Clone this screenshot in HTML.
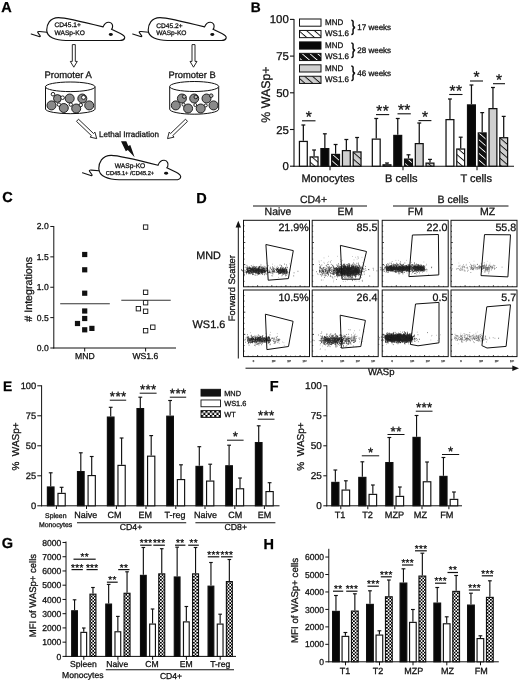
<!DOCTYPE html>
<html lang="en"><head><meta charset="utf-8"><title>Figure</title>
<style>html,body{margin:0;padding:0;background:#fff}svg{display:block}text{font-family:"Liberation Sans",Arial,Helvetica,sans-serif;stroke:#111;stroke-width:.28px;paint-order:stroke fill;text-rendering:geometricPrecision}</style></head>
<body>
<svg width="520" height="682" viewBox="0 0 520 682">
<rect width="520" height="682" fill="#fff"/>
<defs>
<filter id="bl" x="-5%" y="-30%" width="110%" height="160%"><feGaussianBlur stdDeviation="0.32"/></filter>
<pattern id="hW" width="5.1" height="5.1" patternUnits="userSpaceOnUse" patternTransform="rotate(41)"><rect width="5.1" height="5.1" fill="#fff"/><rect width="5.1" height="0.95" fill="#111"/></pattern>
<pattern id="hK" width="5.1" height="5.1" patternUnits="userSpaceOnUse" patternTransform="rotate(41)"><rect width="5.1" height="5.1" fill="#111"/><rect width="5.1" height="0.85" fill="#fff"/></pattern>
<pattern id="hG" width="5.1" height="5.1" patternUnits="userSpaceOnUse" patternTransform="rotate(41)"><rect width="5.1" height="5.1" fill="#cfcfcf"/><rect width="5.1" height="0.95" fill="#111"/></pattern>
<pattern id="ck" width="3.3" height="3.3" patternUnits="userSpaceOnUse"><rect width="3.3" height="3.3" fill="#fff"/><rect width="1.65" height="1.65" fill="#000"/><rect x="1.65" y="1.65" width="1.65" height="1.65" fill="#000"/></pattern>
<pattern id="ck2" x="201" y="410.6" width="4.4" height="4.4" patternUnits="userSpaceOnUse"><rect width="4.4" height="4.4" fill="#fff"/><rect width="2.2" height="2.2" fill="#000"/><rect x="2.2" y="2.2" width="2.2" height="2.2" fill="#000"/></pattern>
</defs>
<text x="1.20" y="11.90" font-size="14.5" text-anchor="start" font-weight="bold" fill="#000" >A</text>
<path d="M46.7 30.0 C46.7 25.0 49.5 17.6 58.5 17.6 C66.0 17.6 90.0 23.6 103.1 26.9 C104.5 23.5 107.0 22.2 109.0 22.3 C112.2 22.5 113.2 25.5 112.3 28.2 L111.6 29.2 L120.4 33.5 C123.5 35.0 125.3 37.0 124.6 38.3 C124.0 40.0 122.5 40.5 120.0 40.5 L66.0 40.5 C56.0 40.5 46.7 37.5 46.7 30.0 Z" fill="#fff" stroke="#111" stroke-width="1.15" />
<path d="M46.9 32.2 L39.6 31.5 Q37.0 31.3 37.9 32.7 L40.2 35.8 Q40.7 37.0 39.0 36.5 L31.2 34.0" fill="none" stroke="#111" stroke-width="1.1" stroke-linecap="round" stroke-linejoin="round"/>
<ellipse cx="110.8" cy="34.5" rx="2" ry="1.45" fill="#111"/>
<text x="54.60" y="27.30" font-size="6.6" text-anchor="start" font-weight="normal" fill="#111" >CD45.1+</text>
<text x="54.60" y="35.00" font-size="6.6" text-anchor="start" font-weight="normal" fill="#111" >WASp-KO</text>
<path d="M148.2 30.0 C148.2 25.0 151.0 17.6 160.0 17.6 C167.5 17.6 191.5 23.6 204.6 26.9 C206.0 23.5 208.5 22.2 210.5 22.3 C213.7 22.5 214.7 25.5 213.8 28.2 L213.1 29.2 L221.9 33.5 C225.0 35.0 226.8 37.0 226.1 38.3 C225.5 40.0 224.0 40.5 221.5 40.5 L167.5 40.5 C157.5 40.5 148.2 37.5 148.2 30.0 Z" fill="#fff" stroke="#111" stroke-width="1.15" />
<path d="M148.4 32.2 L141.1 31.5 Q138.5 31.3 139.4 32.7 L141.7 35.8 Q142.2 37.0 140.5 36.5 L132.7 34.0" fill="none" stroke="#111" stroke-width="1.1" stroke-linecap="round" stroke-linejoin="round"/>
<ellipse cx="212.3" cy="34.5" rx="2" ry="1.45" fill="#111"/>
<text x="156.30" y="27.60" font-size="6.6" text-anchor="start" font-weight="normal" fill="#111" >CD45.2+</text>
<text x="156.30" y="35.30" font-size="6.6" text-anchor="start" font-weight="normal" fill="#111" >WASp-KO</text>
<path d="M72.3 44.6 L72.3 61.4 L70.3 61.4 L73.8 67.2 L77.3 61.4 L75.3 61.4 L75.3 44.6 Z" fill="#fff" stroke="#111" stroke-width="0.9" />
<path d="M192.0 44.6 L192.0 61.4 L190.0 61.4 L193.5 67.2 L197.0 61.4 L195.0 61.4 L195.0 44.6 Z" fill="#fff" stroke="#111" stroke-width="0.9" />
<text x="68.10" y="77.90" font-size="9.45" text-anchor="middle" font-weight="normal" fill="#111" >Promoter A</text>
<text x="192.10" y="77.90" font-size="9.35" text-anchor="middle" font-weight="normal" fill="#111" >Promoter B</text>
<path d="M45.5 86.8 L45.5 109.2 A24.8 4.8 0 0 0 95.0 109.2 L95.0 86.8" fill="#fff" stroke="#111" stroke-width="1.0" />
<ellipse cx="70.2" cy="86.8" rx="24.8" ry="4.8" fill="#fff" stroke="#111" stroke-width="1"/>
<circle cx="51.5" cy="105.4" r="4.5" fill="#8a8a8a" stroke="#111" stroke-width="0.9"/>
<circle cx="57.4" cy="98.5" r="3.9" fill="#8a8a8a" stroke="#111" stroke-width="0.9"/>
<circle cx="69.7" cy="98.5" r="4.5" fill="#8a8a8a" stroke="#111" stroke-width="0.9"/>
<circle cx="82.3" cy="98.5" r="4.5" fill="#8a8a8a" stroke="#111" stroke-width="0.9"/>
<circle cx="63.8" cy="108.0" r="4.5" fill="#8a8a8a" stroke="#111" stroke-width="0.9"/>
<circle cx="76.2" cy="108.5" r="4.5" fill="#8a8a8a" stroke="#111" stroke-width="0.9"/>
<circle cx="89.2" cy="105.4" r="4.5" fill="#8a8a8a" stroke="#111" stroke-width="0.9"/>
<circle cx="53.0" cy="94.2" r="1.8" fill="#fff" stroke="#111" stroke-width="0.9"/>
<circle cx="62.6" cy="97.7" r="1.8" fill="#fff" stroke="#111" stroke-width="0.9"/>
<circle cx="58.9" cy="104.6" r="1.7" fill="#fff" stroke="#111" stroke-width="0.9"/>
<circle cx="70.8" cy="104.6" r="1.7" fill="#fff" stroke="#111" stroke-width="0.9"/>
<circle cx="80.8" cy="105.0" r="1.7" fill="#fff" stroke="#111" stroke-width="0.9"/>
<circle cx="83.5" cy="97.4" r="2" fill="#fff" stroke="#111" stroke-width="0.9"/>
<path d="M169.7 86.5 L169.7 109.2 A24.5 5 0 0 0 218.7 109.2 L218.7 86.5" fill="#fff" stroke="#111" stroke-width="1.0" />
<ellipse cx="194.2" cy="86.5" rx="24.5" ry="5" fill="#fff" stroke="#111" stroke-width="1"/>
<circle cx="175.8" cy="105.4" r="4.5" fill="#8a8a8a" stroke="#111" stroke-width="0.9"/>
<circle cx="181.9" cy="98.5" r="4.5" fill="#8a8a8a" stroke="#111" stroke-width="0.9"/>
<circle cx="194.2" cy="98.5" r="4.5" fill="#8a8a8a" stroke="#111" stroke-width="0.9"/>
<circle cx="206.5" cy="98.5" r="4.5" fill="#8a8a8a" stroke="#111" stroke-width="0.9"/>
<circle cx="188.1" cy="108.5" r="4.5" fill="#8a8a8a" stroke="#111" stroke-width="0.9"/>
<circle cx="200.7" cy="108.5" r="4.5" fill="#8a8a8a" stroke="#111" stroke-width="0.9"/>
<circle cx="213.5" cy="105.4" r="4.5" fill="#8a8a8a" stroke="#111" stroke-width="0.9"/>
<circle cx="184.2" cy="96.6" r="1.8" fill="#b8b8b8" stroke="#111" stroke-width="0.9"/>
<circle cx="195.8" cy="97.0" r="1.8" fill="#b8b8b8" stroke="#111" stroke-width="0.9"/>
<circle cx="211.2" cy="95.7" r="1.8" fill="#b8b8b8" stroke="#111" stroke-width="0.9"/>
<circle cx="183.5" cy="104.6" r="1.5" fill="#fff" stroke="#111" stroke-width="0.9"/>
<circle cx="195.3" cy="105.0" r="1.5" fill="#fff" stroke="#111" stroke-width="0.9"/>
<circle cx="205.8" cy="105.4" r="1.5" fill="#fff" stroke="#111" stroke-width="0.9"/>
<path d="M76.5 121.4 L91.5 135.7 L90.1 137.1 L96.7 138.6 L94.9 132.1 L93.5 133.5 L78.5 119.2 Z" fill="#fff" stroke="#111" stroke-width="0.9" />
<path d="M185.5 119.2 L170.6 133.5 L169.2 132.1 L167.5 138.6 L174.1 137.1 L172.7 135.7 L187.5 121.4 Z" fill="#fff" stroke="#111" stroke-width="0.9" />
<text x="129.00" y="137.10" font-size="8.05" text-anchor="middle" font-weight="normal" fill="#111" >Lethal Irradiation</text>
<path d="M121 141.2 L126.3 141.2 L128.3 146 L130.3 145 L134.6 157.3 L127.8 150 L125.8 151.2 Z" fill="#111" stroke="none" stroke-width="0" />
<path d="M98.8 168.5 C98.8 163.2 101.7 155.3 111.2 155.3 C119.1 155.3 144.3 161.7 158.0 165.2 C159.5 161.6 162.1 160.2 164.2 160.3 C167.6 160.5 168.6 163.7 167.7 166.6 L166.9 167.7 L176.2 172.2 C179.4 173.8 181.3 176.0 180.6 177.3 C180.0 179.2 178.4 179.7 175.8 179.7 L119.1 179.7 C108.6 179.7 98.8 176.5 98.8 168.5 Z" fill="#fff" stroke="#111" stroke-width="1.15" />
<path d="M99.0 170.8 L91.3 170.1 Q88.6 169.9 89.6 171.4 L92.0 174.7 Q92.5 176.0 90.7 175.4 L82.5 172.8" fill="none" stroke="#111" stroke-width="1.1" stroke-linecap="round" stroke-linejoin="round"/>
<ellipse cx="166.1" cy="173.3" rx="2" ry="1.45" fill="#111"/>
<text x="130.00" y="167.60" font-size="6.7" text-anchor="middle" font-weight="normal" fill="#111" >WASp-KO</text>
<text x="130.00" y="175.20" font-size="5.7" text-anchor="middle" font-weight="normal" fill="#111" >CD45.1+ /CD45.2+</text>
<text x="250.80" y="11.70" font-size="13.8" text-anchor="start" font-weight="bold" fill="#000" >B</text>
<line x1="294.00" y1="19.00" x2="294.00" y2="166.70" stroke="#111" stroke-width="1.1" stroke-linecap="butt"/>
<line x1="293.50" y1="166.20" x2="514.00" y2="166.20" stroke="#111" stroke-width="1.1" stroke-linecap="butt"/>
<line x1="290.00" y1="166.20" x2="294.00" y2="166.20" stroke="#111" stroke-width="1.1" stroke-linecap="butt"/>
<text x="288.80" y="170.20" font-size="11.4" text-anchor="end" font-weight="normal" fill="#111" >0</text>
<line x1="290.00" y1="129.50" x2="294.00" y2="129.50" stroke="#111" stroke-width="1.1" stroke-linecap="butt"/>
<text x="288.80" y="133.50" font-size="11.4" text-anchor="end" font-weight="normal" fill="#111" >25</text>
<line x1="290.00" y1="92.80" x2="294.00" y2="92.80" stroke="#111" stroke-width="1.1" stroke-linecap="butt"/>
<text x="288.80" y="96.80" font-size="11.4" text-anchor="end" font-weight="normal" fill="#111" >50</text>
<line x1="290.00" y1="56.10" x2="294.00" y2="56.10" stroke="#111" stroke-width="1.1" stroke-linecap="butt"/>
<text x="288.80" y="60.10" font-size="11.4" text-anchor="end" font-weight="normal" fill="#111" >75</text>
<line x1="290.00" y1="19.40" x2="294.00" y2="19.40" stroke="#111" stroke-width="1.1" stroke-linecap="butt"/>
<text x="288.80" y="23.40" font-size="11.4" text-anchor="end" font-weight="normal" fill="#111" >100</text>
<text x="269.60" y="94.60" font-size="12.4" text-anchor="middle" font-weight="normal" fill="#111" transform="rotate(-90 269.60 94.60)" >% WASp+</text>
<line x1="303.35" y1="125.00" x2="303.35" y2="140.80" stroke="#111" stroke-width="1.25" stroke-linecap="butt"/>
<line x1="301.40" y1="125.00" x2="305.30" y2="125.00" stroke="#111" stroke-width="1.25" stroke-linecap="butt"/>
<rect x="299.43" y="141.43" width="7.85" height="24.77" fill="#fff" stroke="#111" stroke-width="1.25"/>
<line x1="314.10" y1="150.00" x2="314.10" y2="156.30" stroke="#111" stroke-width="1.25" stroke-linecap="butt"/>
<line x1="312.15" y1="150.00" x2="316.05" y2="150.00" stroke="#111" stroke-width="1.25" stroke-linecap="butt"/>
<rect x="310.18" y="156.93" width="7.85" height="9.27" fill="url(#hW)" stroke="#111" stroke-width="1.25"/>
<line x1="324.85" y1="133.80" x2="324.85" y2="148.00" stroke="#111" stroke-width="1.25" stroke-linecap="butt"/>
<line x1="322.90" y1="133.80" x2="326.80" y2="133.80" stroke="#111" stroke-width="1.25" stroke-linecap="butt"/>
<rect x="320.93" y="148.62" width="7.85" height="17.57" fill="#080808" stroke="#111" stroke-width="1.25"/>
<line x1="335.60" y1="144.50" x2="335.60" y2="153.80" stroke="#111" stroke-width="1.25" stroke-linecap="butt"/>
<line x1="333.65" y1="144.50" x2="337.55" y2="144.50" stroke="#111" stroke-width="1.25" stroke-linecap="butt"/>
<rect x="331.68" y="154.43" width="7.85" height="11.77" fill="url(#hK)" stroke="#111" stroke-width="1.25"/>
<line x1="346.35" y1="139.50" x2="346.35" y2="150.00" stroke="#111" stroke-width="1.25" stroke-linecap="butt"/>
<line x1="344.40" y1="139.50" x2="348.30" y2="139.50" stroke="#111" stroke-width="1.25" stroke-linecap="butt"/>
<rect x="342.43" y="150.62" width="7.85" height="15.57" fill="#cfcfcf" stroke="#111" stroke-width="1.25"/>
<line x1="357.10" y1="137.50" x2="357.10" y2="151.30" stroke="#111" stroke-width="1.25" stroke-linecap="butt"/>
<line x1="355.15" y1="137.50" x2="359.05" y2="137.50" stroke="#111" stroke-width="1.25" stroke-linecap="butt"/>
<rect x="353.18" y="151.93" width="7.85" height="14.27" fill="url(#hG)" stroke="#111" stroke-width="1.25"/>
<line x1="376.25" y1="118.50" x2="376.25" y2="138.50" stroke="#111" stroke-width="1.25" stroke-linecap="butt"/>
<line x1="374.30" y1="118.50" x2="378.20" y2="118.50" stroke="#111" stroke-width="1.25" stroke-linecap="butt"/>
<rect x="372.32" y="139.12" width="7.85" height="27.07" fill="#fff" stroke="#111" stroke-width="1.25"/>
<line x1="387.00" y1="163.00" x2="387.00" y2="164.20" stroke="#111" stroke-width="1.25" stroke-linecap="butt"/>
<line x1="385.05" y1="163.00" x2="388.95" y2="163.00" stroke="#111" stroke-width="1.25" stroke-linecap="butt"/>
<rect x="383.07" y="164.82" width="7.85" height="1.38" fill="url(#hW)" stroke="#111" stroke-width="1.25"/>
<line x1="397.75" y1="118.50" x2="397.75" y2="134.80" stroke="#111" stroke-width="1.25" stroke-linecap="butt"/>
<line x1="395.80" y1="118.50" x2="399.70" y2="118.50" stroke="#111" stroke-width="1.25" stroke-linecap="butt"/>
<rect x="393.82" y="135.43" width="7.85" height="30.77" fill="#080808" stroke="#111" stroke-width="1.25"/>
<line x1="408.50" y1="154.80" x2="408.50" y2="158.50" stroke="#111" stroke-width="1.25" stroke-linecap="butt"/>
<line x1="406.55" y1="154.80" x2="410.45" y2="154.80" stroke="#111" stroke-width="1.25" stroke-linecap="butt"/>
<rect x="404.57" y="159.12" width="7.85" height="7.07" fill="url(#hK)" stroke="#111" stroke-width="1.25"/>
<line x1="419.25" y1="123.00" x2="419.25" y2="143.00" stroke="#111" stroke-width="1.25" stroke-linecap="butt"/>
<line x1="417.30" y1="123.00" x2="421.20" y2="123.00" stroke="#111" stroke-width="1.25" stroke-linecap="butt"/>
<rect x="415.32" y="143.62" width="7.85" height="22.57" fill="#cfcfcf" stroke="#111" stroke-width="1.25"/>
<line x1="430.00" y1="159.40" x2="430.00" y2="162.50" stroke="#111" stroke-width="1.25" stroke-linecap="butt"/>
<line x1="428.05" y1="159.40" x2="431.95" y2="159.40" stroke="#111" stroke-width="1.25" stroke-linecap="butt"/>
<rect x="426.07" y="163.12" width="7.85" height="3.07" fill="url(#hG)" stroke="#111" stroke-width="1.25"/>
<line x1="449.95" y1="99.00" x2="449.95" y2="119.00" stroke="#111" stroke-width="1.25" stroke-linecap="butt"/>
<line x1="448.00" y1="99.00" x2="451.90" y2="99.00" stroke="#111" stroke-width="1.25" stroke-linecap="butt"/>
<rect x="446.02" y="119.62" width="7.85" height="46.57" fill="#fff" stroke="#111" stroke-width="1.25"/>
<line x1="460.70" y1="137.20" x2="460.70" y2="148.40" stroke="#111" stroke-width="1.25" stroke-linecap="butt"/>
<line x1="458.75" y1="137.20" x2="462.65" y2="137.20" stroke="#111" stroke-width="1.25" stroke-linecap="butt"/>
<rect x="456.77" y="149.03" width="7.85" height="17.17" fill="url(#hW)" stroke="#111" stroke-width="1.25"/>
<line x1="471.45" y1="85.00" x2="471.45" y2="104.30" stroke="#111" stroke-width="1.25" stroke-linecap="butt"/>
<line x1="469.50" y1="85.00" x2="473.40" y2="85.00" stroke="#111" stroke-width="1.25" stroke-linecap="butt"/>
<rect x="467.52" y="104.92" width="7.85" height="61.27" fill="#080808" stroke="#111" stroke-width="1.25"/>
<line x1="482.20" y1="112.60" x2="482.20" y2="132.30" stroke="#111" stroke-width="1.25" stroke-linecap="butt"/>
<line x1="480.25" y1="112.60" x2="484.15" y2="112.60" stroke="#111" stroke-width="1.25" stroke-linecap="butt"/>
<rect x="478.27" y="132.93" width="7.85" height="33.27" fill="url(#hK)" stroke="#111" stroke-width="1.25"/>
<line x1="492.95" y1="87.50" x2="492.95" y2="108.00" stroke="#111" stroke-width="1.25" stroke-linecap="butt"/>
<line x1="491.00" y1="87.50" x2="494.90" y2="87.50" stroke="#111" stroke-width="1.25" stroke-linecap="butt"/>
<rect x="489.02" y="108.62" width="7.85" height="57.57" fill="#cfcfcf" stroke="#111" stroke-width="1.25"/>
<line x1="503.70" y1="116.40" x2="503.70" y2="137.10" stroke="#111" stroke-width="1.25" stroke-linecap="butt"/>
<line x1="501.75" y1="116.40" x2="505.65" y2="116.40" stroke="#111" stroke-width="1.25" stroke-linecap="butt"/>
<rect x="499.77" y="137.72" width="7.85" height="28.47" fill="url(#hG)" stroke="#111" stroke-width="1.25"/>
<line x1="330.00" y1="166.20" x2="330.00" y2="170.20" stroke="#111" stroke-width="1.1" stroke-linecap="butt"/>
<line x1="403.00" y1="166.20" x2="403.00" y2="170.20" stroke="#111" stroke-width="1.1" stroke-linecap="butt"/>
<line x1="477.00" y1="166.20" x2="477.00" y2="170.20" stroke="#111" stroke-width="1.1" stroke-linecap="butt"/>
<text x="328.00" y="181.70" font-size="11" text-anchor="middle" font-weight="normal" fill="#111" >Monocytes</text>
<text x="401.30" y="181.70" font-size="11" text-anchor="middle" font-weight="normal" fill="#111" >B cells</text>
<text x="476.20" y="181.70" font-size="11" text-anchor="middle" font-weight="normal" fill="#111" >T cells</text>
<line x1="302.00" y1="120.80" x2="315.50" y2="120.80" stroke="#111" stroke-width="1.1" stroke-linecap="butt"/>
<text x="308.90" y="122.20" font-size="15.5" text-anchor="middle" font-weight="normal" fill="#111" letter-spacing="0.35" stroke-width="0.2">*</text>
<line x1="376.00" y1="114.60" x2="389.20" y2="114.60" stroke="#111" stroke-width="1.1" stroke-linecap="butt"/>
<text x="382.75" y="116.00" font-size="15.5" text-anchor="middle" font-weight="normal" fill="#111" letter-spacing="0.35" stroke-width="0.2">**</text>
<line x1="397.50" y1="113.80" x2="410.80" y2="113.80" stroke="#111" stroke-width="1.1" stroke-linecap="butt"/>
<text x="404.30" y="115.20" font-size="15.5" text-anchor="middle" font-weight="normal" fill="#111" letter-spacing="0.35" stroke-width="0.2">**</text>
<line x1="418.50" y1="120.60" x2="431.40" y2="120.60" stroke="#111" stroke-width="1.1" stroke-linecap="butt"/>
<text x="425.10" y="122.00" font-size="15.5" text-anchor="middle" font-weight="normal" fill="#111" letter-spacing="0.35" stroke-width="0.2">*</text>
<line x1="449.20" y1="94.50" x2="462.50" y2="94.50" stroke="#111" stroke-width="1.1" stroke-linecap="butt"/>
<text x="456.00" y="95.90" font-size="15.5" text-anchor="middle" font-weight="normal" fill="#111" letter-spacing="0.35" stroke-width="0.2">**</text>
<line x1="470.00" y1="81.00" x2="483.00" y2="81.00" stroke="#111" stroke-width="1.1" stroke-linecap="butt"/>
<text x="476.65" y="82.40" font-size="15.5" text-anchor="middle" font-weight="normal" fill="#111" letter-spacing="0.35" stroke-width="0.2">*</text>
<line x1="493.00" y1="83.70" x2="505.00" y2="83.70" stroke="#111" stroke-width="1.1" stroke-linecap="butt"/>
<text x="499.15" y="85.10" font-size="15.5" text-anchor="middle" font-weight="normal" fill="#111" letter-spacing="0.35" stroke-width="0.2">*</text>
<rect x="299.50" y="19.00" width="21.50" height="7.20" fill="#fff" stroke="#111" stroke-width="1"/>
<text x="325.00" y="25.00" font-size="8" text-anchor="start" font-weight="normal" fill="#111" >MND</text>
<rect x="299.50" y="30.45" width="21.50" height="7.20" fill="url(#hW)" stroke="#111" stroke-width="1"/>
<text x="325.00" y="36.45" font-size="8" text-anchor="start" font-weight="normal" fill="#111" >WS1.6</text>
<rect x="299.50" y="41.90" width="21.50" height="7.20" fill="#080808" stroke="#111" stroke-width="1"/>
<text x="325.00" y="47.90" font-size="8" text-anchor="start" font-weight="normal" fill="#111" >MND</text>
<rect x="299.50" y="53.35" width="21.50" height="7.20" fill="url(#hK)" stroke="#111" stroke-width="1"/>
<text x="325.00" y="59.35" font-size="8" text-anchor="start" font-weight="normal" fill="#111" >WS1.6</text>
<rect x="299.50" y="64.80" width="21.50" height="7.20" fill="#cfcfcf" stroke="#111" stroke-width="1"/>
<text x="325.00" y="70.80" font-size="8" text-anchor="start" font-weight="normal" fill="#111" >MND</text>
<rect x="299.50" y="76.25" width="21.50" height="7.20" fill="url(#hG)" stroke="#111" stroke-width="1"/>
<text x="325.00" y="82.25" font-size="8" text-anchor="start" font-weight="normal" fill="#111" >WS1.6</text>
<path d="M351.3 20.2 C353.8 20.2 353 22.7 353 24.4 C353 26.4 353.6 27.1 355 27.4 C353.6 27.7 353 28.4 353 30.4 C353 32.1 353.8 34.6 351.3 34.6" fill="none" stroke="#111" stroke-width="1.5" />
<text x="357.30" y="30.20" font-size="8" text-anchor="start" font-weight="normal" fill="#111" >17 weeks</text>
<path d="M351.3 43.1 C353.8 43.1 353 45.6 353 47.3 C353 49.3 353.6 50.0 355 50.3 C353.6 50.6 353 51.3 353 53.3 C353 55.0 353.8 57.5 351.3 57.5" fill="none" stroke="#111" stroke-width="1.5" />
<text x="357.30" y="53.10" font-size="8" text-anchor="start" font-weight="normal" fill="#111" >28 weeks</text>
<path d="M351.3 66.0 C353.8 66.0 353 68.5 353 70.2 C353 72.2 353.6 72.9 355 73.2 C353.6 73.5 353 74.2 353 76.2 C353 77.9 353.8 80.4 351.3 80.4" fill="none" stroke="#111" stroke-width="1.5" />
<text x="357.30" y="76.00" font-size="8" text-anchor="start" font-weight="normal" fill="#111" >46 weeks</text>
<text x="2.20" y="202.00" font-size="14.5" text-anchor="start" font-weight="bold" fill="#000" >C</text>
<line x1="53.80" y1="226.00" x2="53.80" y2="348.50" stroke="#111" stroke-width="1" stroke-linecap="butt"/>
<line x1="53.30" y1="348.00" x2="176.00" y2="348.00" stroke="#111" stroke-width="1" stroke-linecap="butt"/>
<line x1="50.30" y1="348.00" x2="53.80" y2="348.00" stroke="#111" stroke-width="1" stroke-linecap="butt"/>
<text x="48.80" y="351.00" font-size="8.6" text-anchor="end" font-weight="normal" fill="#111" >0.0</text>
<line x1="50.30" y1="317.62" x2="53.80" y2="317.62" stroke="#111" stroke-width="1" stroke-linecap="butt"/>
<text x="48.80" y="320.62" font-size="8.6" text-anchor="end" font-weight="normal" fill="#111" >0.5</text>
<line x1="50.30" y1="287.24" x2="53.80" y2="287.24" stroke="#111" stroke-width="1" stroke-linecap="butt"/>
<text x="48.80" y="290.24" font-size="8.6" text-anchor="end" font-weight="normal" fill="#111" >1.0</text>
<line x1="50.30" y1="256.86" x2="53.80" y2="256.86" stroke="#111" stroke-width="1" stroke-linecap="butt"/>
<text x="48.80" y="259.86" font-size="8.6" text-anchor="end" font-weight="normal" fill="#111" >1.5</text>
<line x1="50.30" y1="226.48" x2="53.80" y2="226.48" stroke="#111" stroke-width="1" stroke-linecap="butt"/>
<text x="48.80" y="229.48" font-size="8.6" text-anchor="end" font-weight="normal" fill="#111" >2.0</text>
<line x1="84.70" y1="348.00" x2="84.70" y2="351.50" stroke="#111" stroke-width="1" stroke-linecap="butt"/>
<line x1="145.60" y1="348.00" x2="145.60" y2="351.50" stroke="#111" stroke-width="1" stroke-linecap="butt"/>
<text x="84.90" y="359.30" font-size="8.6" text-anchor="middle" font-weight="normal" fill="#111" >MND</text>
<text x="145.40" y="359.30" font-size="8.6" text-anchor="middle" font-weight="normal" fill="#111" >WS1.6</text>
<text x="32.30" y="289.30" font-size="10.7" text-anchor="middle" font-weight="normal" fill="#111" transform="rotate(-90 32.30 289.30)" ># Integrations</text>
<rect x="82.10" y="251.90" width="5.20" height="5.20" fill="#111" stroke="none" stroke-width="0"/>
<rect x="82.10" y="267.20" width="5.20" height="5.20" fill="#111" stroke="none" stroke-width="0"/>
<rect x="82.10" y="290.60" width="5.20" height="5.20" fill="#111" stroke="none" stroke-width="0"/>
<rect x="82.10" y="308.40" width="5.20" height="5.20" fill="#111" stroke="none" stroke-width="0"/>
<rect x="82.10" y="315.90" width="5.20" height="5.20" fill="#111" stroke="none" stroke-width="0"/>
<rect x="74.90" y="320.90" width="5.20" height="5.20" fill="#111" stroke="none" stroke-width="0"/>
<rect x="89.30" y="325.80" width="5.20" height="5.20" fill="#111" stroke="none" stroke-width="0"/>
<rect x="82.10" y="327.20" width="5.20" height="5.20" fill="#111" stroke="none" stroke-width="0"/>
<line x1="60.20" y1="303.80" x2="109.80" y2="303.80" stroke="#333" stroke-width="1.1" stroke-linecap="butt"/>
<rect x="143.40" y="224.90" width="4.40" height="4.40" fill="#fff" stroke="#111" stroke-width="0.9"/>
<rect x="143.40" y="290.10" width="4.40" height="4.40" fill="#fff" stroke="#111" stroke-width="0.9"/>
<rect x="143.40" y="300.50" width="4.40" height="4.40" fill="#fff" stroke="#111" stroke-width="0.9"/>
<rect x="136.20" y="306.50" width="4.40" height="4.40" fill="#fff" stroke="#111" stroke-width="0.9"/>
<rect x="143.40" y="309.10" width="4.40" height="4.40" fill="#fff" stroke="#111" stroke-width="0.9"/>
<rect x="150.60" y="325.00" width="4.40" height="4.40" fill="#fff" stroke="#111" stroke-width="0.9"/>
<rect x="143.40" y="328.50" width="4.40" height="4.40" fill="#fff" stroke="#111" stroke-width="0.9"/>
<line x1="121.30" y1="300.20" x2="170.70" y2="300.20" stroke="#333" stroke-width="1.1" stroke-linecap="butt"/>
<text x="196.30" y="202.50" font-size="14.5" text-anchor="start" font-weight="bold" fill="#000" >D</text>
<text x="313.50" y="203.00" font-size="10.5" text-anchor="middle" font-weight="normal" fill="#111" >CD4+</text>
<text x="453.00" y="203.00" font-size="10.6" text-anchor="middle" font-weight="normal" fill="#111" >B cells</text>
<line x1="253.00" y1="206.00" x2="367.00" y2="206.00" stroke="#111" stroke-width="1" stroke-linecap="butt"/>
<line x1="393.00" y1="206.00" x2="508.50" y2="206.00" stroke="#111" stroke-width="1" stroke-linecap="butt"/>
<text x="278.00" y="215.30" font-size="10.5" text-anchor="middle" font-weight="normal" fill="#111" >Naive</text>
<text x="345.30" y="215.30" font-size="10.5" text-anchor="middle" font-weight="normal" fill="#111" >EM</text>
<text x="415.40" y="215.30" font-size="10.5" text-anchor="middle" font-weight="normal" fill="#111" >FM</text>
<text x="487.70" y="215.30" font-size="10.5" text-anchor="middle" font-weight="normal" fill="#111" >MZ</text>
<text x="196.30" y="258.50" font-size="10.8" text-anchor="start" font-weight="normal" fill="#111" >MND</text>
<text x="192.60" y="327.90" font-size="10.9" text-anchor="start" font-weight="normal" fill="#111" >WS1.6</text>
<text x="234.70" y="288.20" font-size="9.3" text-anchor="middle" font-weight="normal" fill="#111" transform="rotate(-90 234.70 288.20)" >Forward Scatter</text>
<line x1="238.30" y1="226.00" x2="238.30" y2="358.50" stroke="#111" stroke-width="1" stroke-linecap="butt"/>
<path d="M238.3 220.8 L241 227.5 L235.6 227.5 Z" fill="#111" stroke="none" stroke-width="0" />
<line x1="245.50" y1="368.20" x2="513.00" y2="368.20" stroke="#111" stroke-width="1" stroke-linecap="butt"/>
<path d="M519 368.2 L512.3 365.4 L512.3 371 Z" fill="#111" stroke="none" stroke-width="0" />
<text x="381.20" y="375.40" font-size="9.5" text-anchor="middle" font-weight="normal" fill="#111" >WASp</text>
<rect x="243.50" y="220.30" width="66.00" height="66.50" fill="#fff" stroke="#111" stroke-width="1"/>
<path d="M243.5 281.3h1.0M243.5 275.7h1.0M243.5 270.2h1.0M243.5 264.6h1.8M243.5 259.1h1.0M243.5 253.6h1.0M243.5 248.0h1.0M243.5 242.5h1.8M243.5 236.9h1.0M243.5 231.4h1.0M243.5 225.8h1.0M248.2 286.8v-0.9M252.9 286.8v-0.9M257.6 286.8v-1.6M262.4 286.8v-0.9M267.1 286.8v-0.9M271.8 286.8v-1.6M276.5 286.8v-0.9M281.2 286.8v-0.9M285.9 286.8v-1.6M290.6 286.8v-0.9M295.4 286.8v-0.9M300.1 286.8v-1.6M304.8 286.8v-0.9" fill="none" stroke="#111" stroke-width="0.8" />
<text x="308.70" y="231.20" font-size="10.7" text-anchor="end" font-weight="normal" fill="#111" >21.9%</text>
<rect x="312.20" y="220.30" width="66.00" height="66.50" fill="#fff" stroke="#111" stroke-width="1"/>
<path d="M312.2 281.3h1.0M312.2 275.7h1.0M312.2 270.2h1.0M312.2 264.6h1.8M312.2 259.1h1.0M312.2 253.6h1.0M312.2 248.0h1.0M312.2 242.5h1.8M312.2 236.9h1.0M312.2 231.4h1.0M312.2 225.8h1.0M316.9 286.8v-0.9M321.6 286.8v-0.9M326.3 286.8v-1.6M331.1 286.8v-0.9M335.8 286.8v-0.9M340.5 286.8v-1.6M345.2 286.8v-0.9M349.9 286.8v-0.9M354.6 286.8v-1.6M359.3 286.8v-0.9M364.1 286.8v-0.9M368.8 286.8v-1.6M373.5 286.8v-0.9" fill="none" stroke="#111" stroke-width="0.8" />
<text x="377.40" y="231.20" font-size="10.7" text-anchor="end" font-weight="normal" fill="#111" >85.5</text>
<rect x="382.20" y="220.30" width="66.00" height="66.50" fill="#fff" stroke="#111" stroke-width="1"/>
<path d="M382.2 281.3h1.0M382.2 275.7h1.0M382.2 270.2h1.0M382.2 264.6h1.8M382.2 259.1h1.0M382.2 253.6h1.0M382.2 248.0h1.0M382.2 242.5h1.8M382.2 236.9h1.0M382.2 231.4h1.0M382.2 225.8h1.0M386.9 286.8v-0.9M391.6 286.8v-0.9M396.3 286.8v-1.6M401.1 286.8v-0.9M405.8 286.8v-0.9M410.5 286.8v-1.6M415.2 286.8v-0.9M419.9 286.8v-0.9M424.6 286.8v-1.6M429.3 286.8v-0.9M434.1 286.8v-0.9M438.8 286.8v-1.6M443.5 286.8v-0.9" fill="none" stroke="#111" stroke-width="0.8" />
<text x="447.40" y="231.20" font-size="10.7" text-anchor="end" font-weight="normal" fill="#111" >22.0</text>
<rect x="451.00" y="220.30" width="66.00" height="66.50" fill="#fff" stroke="#111" stroke-width="1"/>
<path d="M451.0 281.3h1.0M451.0 275.7h1.0M451.0 270.2h1.0M451.0 264.6h1.8M451.0 259.1h1.0M451.0 253.6h1.0M451.0 248.0h1.0M451.0 242.5h1.8M451.0 236.9h1.0M451.0 231.4h1.0M451.0 225.8h1.0M455.7 286.8v-0.9M460.4 286.8v-0.9M465.1 286.8v-1.6M469.9 286.8v-0.9M474.6 286.8v-0.9M479.3 286.8v-1.6M484.0 286.8v-0.9M488.7 286.8v-0.9M493.4 286.8v-1.6M498.1 286.8v-0.9M502.9 286.8v-0.9M507.6 286.8v-1.6M512.3 286.8v-0.9" fill="none" stroke="#111" stroke-width="0.8" />
<text x="516.20" y="231.20" font-size="10.7" text-anchor="end" font-weight="normal" fill="#111" >55.8</text>
<rect x="243.50" y="290.00" width="66.00" height="66.60" fill="#fff" stroke="#111" stroke-width="1"/>
<path d="M243.5 351.1h1.0M243.5 345.5h1.0M243.5 340.0h1.0M243.5 334.4h1.8M243.5 328.9h1.0M243.5 323.3h1.0M243.5 317.8h1.0M243.5 312.2h1.8M243.5 306.7h1.0M243.5 301.1h1.0M243.5 295.6h1.0M248.2 356.6v-0.9M252.9 356.6v-0.9M257.6 356.6v-1.6M262.4 356.6v-0.9M267.1 356.6v-0.9M271.8 356.6v-1.6M276.5 356.6v-0.9M281.2 356.6v-0.9M285.9 356.6v-1.6M290.6 356.6v-0.9M295.4 356.6v-0.9M300.1 356.6v-1.6M304.8 356.6v-0.9" fill="none" stroke="#111" stroke-width="0.8" />
<text x="308.70" y="300.90" font-size="10.7" text-anchor="end" font-weight="normal" fill="#111" >10.5%</text>
<rect x="312.20" y="290.00" width="66.00" height="66.60" fill="#fff" stroke="#111" stroke-width="1"/>
<path d="M312.2 351.1h1.0M312.2 345.5h1.0M312.2 340.0h1.0M312.2 334.4h1.8M312.2 328.9h1.0M312.2 323.3h1.0M312.2 317.8h1.0M312.2 312.2h1.8M312.2 306.7h1.0M312.2 301.1h1.0M312.2 295.6h1.0M316.9 356.6v-0.9M321.6 356.6v-0.9M326.3 356.6v-1.6M331.1 356.6v-0.9M335.8 356.6v-0.9M340.5 356.6v-1.6M345.2 356.6v-0.9M349.9 356.6v-0.9M354.6 356.6v-1.6M359.3 356.6v-0.9M364.1 356.6v-0.9M368.8 356.6v-1.6M373.5 356.6v-0.9" fill="none" stroke="#111" stroke-width="0.8" />
<text x="377.40" y="300.90" font-size="10.7" text-anchor="end" font-weight="normal" fill="#111" >26.4</text>
<rect x="382.20" y="290.00" width="66.00" height="66.60" fill="#fff" stroke="#111" stroke-width="1"/>
<path d="M382.2 351.1h1.0M382.2 345.5h1.0M382.2 340.0h1.0M382.2 334.4h1.8M382.2 328.9h1.0M382.2 323.3h1.0M382.2 317.8h1.0M382.2 312.2h1.8M382.2 306.7h1.0M382.2 301.1h1.0M382.2 295.6h1.0M386.9 356.6v-0.9M391.6 356.6v-0.9M396.3 356.6v-1.6M401.1 356.6v-0.9M405.8 356.6v-0.9M410.5 356.6v-1.6M415.2 356.6v-0.9M419.9 356.6v-0.9M424.6 356.6v-1.6M429.3 356.6v-0.9M434.1 356.6v-0.9M438.8 356.6v-1.6M443.5 356.6v-0.9" fill="none" stroke="#111" stroke-width="0.8" />
<text x="447.40" y="300.90" font-size="10.7" text-anchor="end" font-weight="normal" fill="#111" >0.5</text>
<rect x="451.00" y="290.00" width="66.00" height="66.60" fill="#fff" stroke="#111" stroke-width="1"/>
<path d="M451.0 351.1h1.0M451.0 345.5h1.0M451.0 340.0h1.0M451.0 334.4h1.8M451.0 328.9h1.0M451.0 323.3h1.0M451.0 317.8h1.0M451.0 312.2h1.8M451.0 306.7h1.0M451.0 301.1h1.0M451.0 295.6h1.0M455.7 356.6v-0.9M460.4 356.6v-0.9M465.1 356.6v-1.6M469.9 356.6v-0.9M474.6 356.6v-0.9M479.3 356.6v-1.6M484.0 356.6v-0.9M488.7 356.6v-0.9M493.4 356.6v-1.6M498.1 356.6v-0.9M502.9 356.6v-0.9M507.6 356.6v-1.6M512.3 356.6v-0.9" fill="none" stroke="#111" stroke-width="0.8" />
<text x="516.20" y="300.90" font-size="10.7" text-anchor="end" font-weight="normal" fill="#111" >5.7</text>
<path d="M263.6 270.0h.7M268.0 272.7h.7M247.5 271.4h.7M245.2 272.2h.7M244.8 267.3h.7M269.7 271.2h.7M281.2 270.5h.7M258.0 273.9h.7M253.4 269.4h.7M257.0 271.8h.7M273.9 271.1h.7M258.9 269.1h.7M278.6 271.1h.7M256.0 266.8h.7M275.9 270.0h.7M247.7 272.2h.7M252.2 273.3h.7M277.3 271.3h.7M281.9 269.7h.7M269.8 268.2h.7M280.4 267.8h.7M248.5 271.1h.7M272.5 271.3h.7M261.8 269.2h.7M246.9 271.1h.7M248.4 271.4h.7M246.4 273.0h.7M249.3 266.8h.7M279.6 269.4h.7M257.4 268.1h.7M287.1 271.2h.7M255.6 271.8h.7M270.2 272.6h.7M261.1 270.7h.7M285.1 268.0h.7M264.8 273.3h.7M281.9 268.6h.7M262.1 272.7h.7M277.5 270.9h.7M273.9 271.7h.7M250.2 270.6h.7M247.0 269.8h.7M256.3 269.9h.7M290.0 265.7h.7M265.1 271.4h.7M260.0 271.1h.7M297.6 271.3h.7M263.6 270.5h.7M267.7 272.5h.7M256.7 268.4h.7M252.8 267.4h.7M262.0 272.7h.7M281.0 265.5h.7M279.6 270.9h.7M281.8 272.1h.7M256.6 270.9h.7M285.2 275.8h.7M285.2 268.4h.7M269.3 271.8h.7M271.6 271.8h.7M272.8 268.8h.7M249.5 273.4h.7M276.8 268.8h.7M253.3 268.9h.7M285.8 273.6h.7M262.5 270.4h.7M258.8 273.4h.7M252.0 268.7h.7M286.2 269.2h.7M279.6 273.3h.7M267.6 270.1h.7M263.8 271.2h.7M256.3 269.4h.7M255.9 270.5h.7M251.4 272.6h.7M260.5 267.0h.7M263.2 268.5h.7M266.6 270.2h.7M266.1 274.0h.7M253.1 270.7h.7M275.7 269.5h.7M268.8 272.6h.7M250.4 270.6h.7M277.7 272.1h.7M269.0 272.4h.7M271.1 269.5h.7M267.0 268.4h.7M265.6 271.3h.7M274.7 272.0h.7M268.9 270.1h.7M276.5 272.0h.7M283.6 271.9h.7M278.1 272.3h.7M283.3 274.3h.7M255.0 267.3h.7M262.3 274.2h.7M252.6 270.4h.7M267.1 271.2h.7M277.1 268.7h.7M246.7 269.9h.7M271.6 275.7h.7M278.3 272.8h.7M250.3 273.8h.7M272.0 266.9h.7M279.6 272.6h.7M252.1 267.9h.7M258.0 269.8h.7M249.0 268.7h.7M272.0 273.8h.7M248.7 272.5h.7M264.6 266.5h.7M256.9 269.2h.7M264.9 271.8h.7M258.8 271.0h.7M277.1 269.4h.7M266.5 270.6h.7M276.1 270.9h.7M253.8 271.4h.7M279.6 270.2h.7M266.3 268.8h.7M274.2 272.0h.7M260.1 269.9h.7M262.6 268.0h.7M285.5 271.9h.7M287.7 272.4h.7M281.7 270.3h.7M258.0 272.0h.7M252.5 270.2h.7M285.9 275.4h.7M256.0 269.9h.7M246.0 272.3h.7M265.5 271.3h.7M246.2 272.7h.7M249.7 271.0h.7M267.2 268.6h.7M276.8 269.4h.7M275.4 269.3h.7M273.8 270.2h.7M247.8 267.9h.7M282.6 270.2h.7M251.7 267.1h.7M266.7 271.8h.7M269.9 267.3h.7M274.0 270.7h.7M251.5 271.1h.7M250.3 268.1h.7M271.7 269.6h.7M272.8 267.6h.7M266.6 270.2h.7M276.2 270.0h.7M249.1 270.4h.7M276.3 269.3h.7M266.3 267.7h.7M277.4 271.0h.7M272.4 271.8h.7M276.5 270.3h.7M248.5 270.5h.7M273.6 269.9h.7M267.2 269.2h.7M273.2 269.8h.7M286.1 272.7h.7M279.6 270.8h.7M264.4 271.7h.7M254.6 275.0h.7M251.8 271.6h.7M279.6 270.3h.7M282.4 271.1h.7M293.7 272.8h.7M264.5 270.6h.7M251.8 269.1h.7M246.1 273.9h.7M284.6 269.3h.7M283.0 269.3h.7M287.0 272.0h.7M260.8 270.5h.7M250.2 271.2h.7M257.7 270.6h.7M276.6 267.3h.7M282.3 274.0h.7M271.9 272.8h.7M260.6 270.4h.7M276.9 268.5h.7M272.5 270.2h.7M265.4 269.7h.7M286.0 273.6h.7M272.9 268.8h.7M262.0 271.7h.7M293.4 275.9h.7M242.6 270.9h.7M271.7 270.7h.7M269.4 272.1h.7M276.7 268.6h.7M261.5 271.8h.7M248.5 271.6h.7M266.6 270.4h.7M265.2 272.0h.7M262.4 274.1h.7M259.4 273.5h.7M282.7 271.2h.7M243.7 273.3h.7M279.8 272.0h.7M264.8 267.8h.7M284.6 270.2h.7M272.5 268.3h.7M247.6 271.2h.7M255.5 269.6h.7M251.2 269.3h.7M272.1 271.2h.7M267.5 271.1h.7M265.0 270.4h.7M258.4 273.2h.7M282.2 269.9h.7M285.9 269.9h.7M247.3 270.6h.7M263.2 268.5h.7M241.2 269.6h.7M277.9 271.5h.7M246.4 272.2h.7M264.4 271.2h.7M258.1 273.8h.7M268.7 272.5h.7M273.3 271.8h.7M254.7 272.1h.7M278.4 271.3h.7M282.8 269.9h.7M284.2 264.1h.7M253.6 270.6h.7M273.2 270.1h.7M261.3 270.7h.7M257.5 270.7h.7" fill="none" stroke="#222" stroke-width="0.75" opacity="1.0" filter="url(#bl)"/>
<path d="M259.6 270.1h.7M253.1 271.2h.7M247.4 268.7h.7M253.4 271.0h.7M260.9 267.6h.7M261.4 271.0h.7M263.5 270.5h.7M260.3 269.6h.7M264.2 271.6h.7M251.4 269.8h.7M246.6 271.7h.7M263.5 270.8h.7M250.8 270.3h.7M264.2 269.4h.7M254.5 271.3h.7M258.8 267.6h.7M261.7 269.1h.7M252.4 269.4h.7M258.9 273.2h.7M262.9 270.9h.7M252.5 274.4h.7M244.3 272.1h.7M259.6 271.6h.7M250.8 268.4h.7M260.3 268.6h.7M258.4 269.1h.7M257.0 270.3h.7M251.9 272.5h.7M257.2 273.5h.7M253.8 269.1h.7M261.5 270.3h.7M245.2 270.9h.7M262.1 271.9h.7M257.0 272.7h.7M263.7 270.0h.7M262.5 270.2h.7M265.8 268.3h.7M250.5 269.0h.7M255.5 272.8h.7M260.9 270.5h.7M254.3 271.5h.7M261.2 271.2h.7M253.8 270.7h.7M260.4 272.8h.7M254.1 268.8h.7M252.3 274.6h.7M253.1 274.4h.7M241.1 270.2h.7M246.6 269.2h.7M254.3 267.3h.7M262.4 272.7h.7M258.4 270.6h.7M248.1 268.9h.7M249.2 271.9h.7M256.1 272.0h.7M261.4 271.7h.7M270.5 268.7h.7M260.9 269.6h.7M263.2 270.9h.7M252.7 267.5h.7M262.1 270.8h.7M256.1 272.2h.7M253.8 266.6h.7M247.3 270.4h.7M254.1 268.6h.7M258.1 269.1h.7M254.3 268.0h.7M254.8 271.6h.7M246.9 269.1h.7M260.6 270.5h.7M253.0 270.5h.7M248.9 272.0h.7M259.2 269.9h.7M260.1 269.8h.7M250.1 270.4h.7M267.8 265.7h.7M260.0 272.2h.7M255.6 275.2h.7M258.9 266.4h.7M247.7 270.4h.7M263.1 269.3h.7M242.8 270.3h.7M250.4 268.8h.7M255.6 272.6h.7M259.1 274.0h.7M249.6 272.1h.7M258.3 271.9h.7M262.6 267.1h.7M248.4 268.6h.7M258.2 270.8h.7M264.8 269.1h.7M253.2 269.4h.7M257.0 271.0h.7M258.3 269.2h.7M257.3 270.4h.7M256.1 269.0h.7M256.0 269.1h.7M255.0 270.1h.7M246.5 271.7h.7M250.6 271.4h.7M251.1 269.0h.7M249.0 270.4h.7M248.3 271.4h.7M262.6 269.2h.7M246.7 271.2h.7M256.9 269.2h.7M263.8 268.9h.7M251.1 272.5h.7M257.7 273.3h.7M246.7 271.5h.7M258.2 272.7h.7M255.9 270.8h.7M252.2 269.4h.7M247.4 271.0h.7M246.6 267.6h.7M260.3 270.3h.7M249.4 270.5h.7M252.7 270.9h.7M259.4 270.1h.7M256.7 269.0h.7M261.1 270.2h.7M264.0 270.6h.7M255.1 270.2h.7M260.3 266.1h.7M262.8 270.7h.7M258.2 274.3h.7M258.8 267.0h.7M259.4 271.1h.7M254.6 269.0h.7M250.4 269.7h.7M247.9 270.7h.7M248.5 270.7h.7M257.4 270.5h.7M259.3 269.4h.7M247.7 267.6h.7M253.2 272.0h.7M247.7 267.0h.7M263.4 271.4h.7M258.2 272.3h.7M258.2 267.7h.7M258.2 271.1h.7M257.3 269.6h.7M246.9 272.1h.7M251.7 269.3h.7M264.3 271.6h.7M262.3 272.2h.7M254.6 270.8h.7M252.9 269.2h.7M254.8 270.9h.7M252.6 270.8h.7M246.6 265.4h.7M255.6 271.2h.7M252.9 272.3h.7M251.3 270.1h.7M259.4 271.6h.7M248.5 273.2h.7M259.4 271.9h.7M258.1 268.9h.7M259.1 270.7h.7M250.3 270.1h.7M263.2 267.7h.7M250.8 273.0h.7M256.3 270.4h.7M252.9 267.8h.7M249.4 268.8h.7M249.6 267.9h.7M260.8 271.8h.7M260.3 270.9h.7M259.5 271.8h.7M255.8 272.0h.7M254.0 271.4h.7M264.5 274.1h.7M248.4 273.2h.7M264.7 270.2h.7M250.1 268.5h.7M254.6 270.7h.7M253.9 269.7h.7M258.2 268.4h.7M249.1 268.0h.7M263.3 272.1h.7M257.1 269.3h.7M259.9 271.0h.7M260.8 272.0h.7M258.4 268.2h.7M252.3 271.9h.7M261.0 271.5h.7M258.1 268.6h.7M258.0 271.3h.7M259.0 271.5h.7M260.9 272.8h.7M255.6 272.6h.7M249.5 270.9h.7M263.9 272.3h.7M256.5 271.8h.7M256.0 271.4h.7M254.1 268.5h.7M250.4 268.0h.7M248.8 272.3h.7M254.9 272.2h.7M246.7 268.0h.7M253.0 271.7h.7M250.7 272.4h.7M250.5 269.6h.7M262.6 272.7h.7M261.5 268.1h.7M250.7 270.8h.7M253.0 271.8h.7M255.2 267.4h.7M258.5 268.9h.7M262.2 269.4h.7M258.9 273.3h.7M255.9 269.7h.7M254.4 272.3h.7M258.7 273.6h.7M247.6 268.9h.7M263.3 272.6h.7M264.2 274.8h.7M258.6 270.7h.7M256.8 273.5h.7M264.2 268.6h.7M249.6 268.0h.7M258.9 268.4h.7M261.1 271.3h.7M256.3 273.0h.7M254.6 269.1h.7M254.2 269.8h.7M255.8 268.3h.7M256.5 270.5h.7M246.6 268.1h.7M258.8 270.9h.7M253.4 271.1h.7M258.3 270.2h.7M247.0 268.7h.7M252.6 266.6h.7M255.9 270.8h.7M259.8 270.1h.7M252.8 269.0h.7M256.2 271.9h.7M250.4 268.4h.7M261.8 271.5h.7M261.8 269.0h.7M255.9 270.4h.7M258.6 269.6h.7M252.0 271.8h.7M258.2 273.2h.7M262.9 271.1h.7M247.4 271.6h.7M263.5 270.4h.7M258.7 272.5h.7M257.9 269.1h.7M259.4 269.9h.7M258.8 269.3h.7M256.4 270.8h.7M260.8 269.4h.7M261.7 269.0h.7M256.9 269.8h.7M252.4 272.2h.7M258.4 272.6h.7M258.3 271.3h.7M263.5 268.2h.7M246.8 266.8h.7M264.6 268.1h.7M253.3 269.4h.7M264.5 270.5h.7M248.8 273.5h.7M261.9 270.1h.7M251.5 273.4h.7M259.7 271.4h.7M249.5 268.4h.7M255.0 270.3h.7M270.7 273.0h.7M256.5 269.3h.7M249.6 273.1h.7M250.7 272.1h.7M254.6 272.4h.7M253.2 272.9h.7M258.1 268.0h.7M264.0 272.5h.7M257.0 274.9h.7M259.5 272.2h.7M252.6 273.8h.7M257.6 269.9h.7M254.4 268.4h.7M257.6 272.3h.7M261.4 271.8h.7M254.3 270.4h.7M261.6 273.7h.7M261.5 271.3h.7M257.1 272.3h.7M259.2 267.8h.7M246.0 269.3h.7M250.2 271.6h.7M257.7 269.9h.7M255.5 273.4h.7M261.1 273.2h.7M261.2 267.0h.7M262.9 268.6h.7M255.3 270.8h.7M249.8 271.5h.7M253.2 268.6h.7M259.8 272.1h.7M248.5 270.4h.7M251.4 269.5h.7M273.0 271.5h.7M262.5 269.1h.7M260.9 269.8h.7M264.0 272.3h.7M242.2 270.7h.7M259.2 267.0h.7M255.0 269.1h.7M251.0 269.4h.7M248.7 270.3h.7M258.4 272.7h.7M258.9 269.4h.7M264.4 270.7h.7M255.6 272.1h.7M263.2 270.7h.7M261.0 269.9h.7M258.5 271.3h.7M260.5 270.7h.7M259.0 267.9h.7M248.5 268.8h.7M252.3 270.5h.7M255.3 270.1h.7M268.7 271.3h.7M250.6 272.9h.7M249.1 267.6h.7M248.3 271.8h.7M254.9 268.3h.7M261.7 269.7h.7M253.4 269.9h.7M249.2 268.2h.7M251.4 271.2h.7M262.0 271.6h.7M249.6 268.8h.7M248.6 273.9h.7M247.6 269.8h.7M255.3 269.3h.7M244.1 274.6h.7M265.0 271.6h.7M258.5 270.2h.7M251.0 271.0h.7M250.8 271.5h.7M249.9 268.5h.7M252.9 270.0h.7M249.8 270.1h.7M252.0 268.8h.7M251.5 268.3h.7M261.5 268.6h.7M255.1 268.6h.7M257.7 268.9h.7M262.1 270.1h.7M263.3 270.4h.7M262.6 271.7h.7M265.8 268.7h.7M246.6 272.2h.7M254.7 272.5h.7M261.6 272.4h.7M252.4 268.2h.7M247.6 272.4h.7M264.1 268.2h.7M255.2 271.7h.7M254.9 270.4h.7M266.4 270.0h.7M246.8 269.3h.7M257.2 270.2h.7M262.6 269.6h.7M248.9 270.5h.7M253.1 270.9h.7M257.4 271.8h.7M261.8 272.3h.7M253.7 266.6h.7M262.0 267.0h.7M260.9 273.0h.7M250.9 265.7h.7M261.4 272.4h.7M261.6 272.5h.7M264.2 271.1h.7M251.1 269.2h.7M251.7 268.5h.7M258.5 273.5h.7M263.8 269.8h.7M261.5 270.8h.7M258.4 270.1h.7M259.1 266.5h.7M258.0 269.3h.7M256.1 271.8h.7M252.2 269.9h.7M248.7 272.5h.7M251.5 269.8h.7M257.9 271.1h.7M251.9 270.1h.7M248.1 271.7h.7M262.0 268.0h.7M250.2 269.3h.7M255.0 268.9h.7M251.5 270.8h.7M253.6 272.5h.7M246.7 271.3h.7M256.8 269.4h.7M251.8 269.5h.7M265.3 271.7h.7M247.6 269.0h.7M254.6 271.4h.7M264.2 271.2h.7M249.4 268.8h.7M257.9 272.6h.7M261.7 270.2h.7M260.6 267.4h.7M261.0 271.2h.7M254.2 270.6h.7M255.7 268.0h.7M257.1 271.2h.7M257.7 266.8h.7M254.9 270.1h.7M253.7 268.9h.7M253.6 271.2h.7M255.7 267.0h.7M249.9 271.8h.7M261.7 271.8h.7" fill="none" stroke="#222" stroke-width="0.75" opacity="1.0" filter="url(#bl)"/>
<path d="M285.4 270.1h.7M275.9 272.5h.7M278.6 270.0h.7M286.2 264.9h.7M282.2 269.3h.7M283.9 269.4h.7M280.5 272.6h.7M283.8 272.1h.7M281.0 271.8h.7M282.7 272.7h.7M281.4 270.4h.7M287.0 267.7h.7M278.7 270.2h.7M286.8 270.0h.7M285.9 270.7h.7M285.2 272.2h.7M278.6 269.7h.7M282.1 271.2h.7M283.3 271.8h.7M280.5 270.5h.7M281.1 270.4h.7M280.1 272.2h.7M285.4 270.8h.7M278.0 270.8h.7M279.7 265.1h.7M282.7 269.7h.7M282.1 270.0h.7M276.2 270.4h.7M283.1 271.0h.7M284.7 270.9h.7M284.2 271.4h.7M278.0 272.0h.7M282.8 269.2h.7M277.5 271.3h.7M282.8 268.6h.7M283.6 273.8h.7M280.1 269.4h.7M285.2 267.4h.7M282.0 268.2h.7M279.4 270.6h.7M280.1 269.6h.7M281.8 270.8h.7M283.9 272.2h.7M281.5 269.2h.7M281.4 273.1h.7M286.1 271.3h.7M284.4 270.0h.7M278.6 269.5h.7M277.9 271.3h.7M281.4 270.0h.7M279.0 273.0h.7M280.8 271.9h.7M289.4 269.9h.7M284.1 271.1h.7M286.0 269.9h.7M283.7 271.4h.7M282.1 270.2h.7M279.7 268.9h.7M282.7 272.4h.7M284.7 273.8h.7M280.2 272.5h.7M280.6 272.2h.7M281.2 271.9h.7M278.3 270.5h.7M286.1 272.5h.7M285.8 271.7h.7M277.3 271.8h.7M283.6 268.7h.7M284.4 271.7h.7M279.6 273.6h.7M284.3 273.3h.7M283.1 271.8h.7M280.0 272.2h.7M282.7 272.0h.7M284.2 268.9h.7M281.3 270.8h.7M285.3 270.9h.7M284.6 269.0h.7M286.2 272.7h.7M279.1 270.8h.7M283.9 270.1h.7M284.5 270.7h.7M286.5 271.5h.7M286.3 270.6h.7M283.3 267.6h.7M277.5 269.0h.7M283.6 270.8h.7M284.0 270.3h.7M279.6 273.2h.7M281.1 272.3h.7M283.1 270.5h.7M284.1 271.7h.7M278.6 270.6h.7M286.4 269.7h.7M278.4 274.2h.7M280.3 268.1h.7M278.7 269.9h.7M283.0 271.1h.7M278.1 267.6h.7M284.4 271.3h.7M279.0 270.0h.7M280.2 271.1h.7M282.4 270.9h.7M286.9 273.1h.7M286.8 272.2h.7M278.1 269.8h.7M282.8 272.9h.7M283.3 269.6h.7M283.5 270.8h.7M277.3 271.7h.7M285.4 271.8h.7M285.5 273.0h.7M278.7 272.2h.7M277.5 271.5h.7M280.7 269.5h.7M280.7 270.8h.7M282.7 271.3h.7M285.2 274.2h.7M281.9 268.5h.7M278.6 270.2h.7M281.4 266.6h.7M284.9 269.8h.7M282.8 272.6h.7M284.9 268.0h.7M279.8 269.0h.7M280.4 270.6h.7M283.7 271.6h.7M280.0 270.2h.7M282.6 271.0h.7M280.2 271.5h.7M286.7 273.9h.7M286.6 267.4h.7M280.1 268.7h.7M280.0 272.7h.7M283.5 270.2h.7M280.4 271.9h.7M283.8 271.0h.7M277.9 269.2h.7M281.2 272.4h.7M282.6 271.6h.7M285.9 271.5h.7M278.1 270.8h.7M282.3 271.6h.7M281.9 271.1h.7M278.1 273.0h.7M281.0 271.2h.7M281.4 268.2h.7M280.5 273.5h.7M278.0 270.6h.7M285.9 270.3h.7M282.2 270.2h.7M279.4 273.1h.7M279.1 271.0h.7M284.1 272.6h.7M285.7 269.3h.7M286.2 272.2h.7M280.4 273.2h.7M283.8 272.0h.7M284.4 271.9h.7M280.9 270.3h.7M282.5 273.7h.7M283.8 273.3h.7M278.9 272.0h.7M278.5 273.1h.7M278.9 272.8h.7M279.9 270.1h.7M285.8 271.4h.7M283.9 271.1h.7M281.8 267.3h.7M281.9 272.1h.7M283.8 273.7h.7M283.8 269.4h.7M285.7 272.1h.7M279.2 271.5h.7M283.4 272.2h.7M281.7 269.6h.7M277.1 271.8h.7M273.1 272.1h.7M280.8 269.6h.7M279.7 270.6h.7M282.3 273.0h.7M277.0 269.7h.7M285.7 269.2h.7M280.6 269.0h.7M285.0 273.2h.7M280.0 269.8h.7M284.4 269.8h.7M282.5 269.6h.7M277.6 268.5h.7M281.8 275.3h.7M281.0 271.5h.7M277.1 269.0h.7M282.7 271.3h.7M281.1 272.2h.7M284.3 272.2h.7M286.2 270.2h.7M273.9 268.4h.7M280.6 267.7h.7M277.7 272.3h.7M286.0 270.8h.7" fill="none" stroke="#222" stroke-width="0.75" opacity="1.0" filter="url(#bl)"/>
<path d="M253.2 267.0h.6M277.0 266.3h.6M263.6 266.0h.6M272.5 276.0h.6M274.5 266.0h.6M278.3 277.4h.6M272.4 264.2h.6M281.6 276.1h.6M261.0 265.0h.6M254.3 271.1h.6M284.5 272.6h.6M286.6 266.2h.6M260.4 274.2h.6M274.6 269.1h.6M275.9 268.1h.6M248.5 269.2h.6M248.0 272.4h.6M260.7 270.4h.6M272.3 266.9h.6M266.4 263.2h.6M286.7 271.5h.6M289.5 263.8h.6M273.0 273.9h.6M260.5 264.4h.6M252.9 265.1h.6" fill="none" stroke="#444" stroke-width="0.6" opacity="0.8"/>
<path d="M322.8 271.1h.7M342.2 269.6h.7M346.6 268.2h.7M357.1 269.3h.7M332.0 265.7h.7M338.0 263.7h.7M347.3 273.8h.7M351.5 270.7h.7M328.6 271.1h.7M349.9 273.7h.7M326.6 271.8h.7M351.3 272.0h.7M362.4 271.4h.7M355.6 270.1h.7M333.5 268.0h.7M323.5 271.1h.7M345.9 268.2h.7M321.5 265.0h.7M355.8 270.5h.7M353.5 270.7h.7M346.0 272.4h.7M328.1 273.7h.7M330.2 275.3h.7M330.9 264.4h.7M350.3 268.9h.7M342.5 265.2h.7M343.8 272.5h.7M331.7 276.7h.7M335.9 271.9h.7M319.4 270.7h.7M349.0 269.2h.7M348.3 269.3h.7M356.8 268.2h.7M342.2 275.6h.7M320.6 270.9h.7M355.0 279.3h.7M351.3 271.6h.7M347.3 272.5h.7M353.6 269.9h.7M333.2 268.4h.7M352.2 276.4h.7M334.5 270.4h.7M351.3 267.5h.7M339.3 268.9h.7M341.9 266.3h.7M355.7 269.2h.7M346.9 273.2h.7M335.3 269.1h.7M319.2 271.4h.7M329.7 269.0h.7M352.1 274.7h.7M356.8 269.6h.7M342.1 268.1h.7M319.0 272.6h.7M327.5 267.2h.7M342.7 269.8h.7M343.9 267.2h.7M343.9 268.0h.7M344.3 268.8h.7M338.9 269.0h.7M345.4 270.8h.7M355.3 268.9h.7M339.4 269.6h.7M354.0 275.3h.7M342.7 266.3h.7M321.8 274.2h.7M339.9 271.9h.7M351.4 267.2h.7M353.9 272.0h.7M348.2 265.4h.7M325.3 271.2h.7M345.3 270.2h.7M346.4 272.9h.7M351.4 274.1h.7M353.0 274.7h.7M347.4 272.4h.7M322.8 271.7h.7M346.4 271.6h.7M341.9 273.5h.7M350.8 269.9h.7M344.8 267.3h.7M341.2 267.6h.7M327.0 273.0h.7M334.6 270.0h.7M334.9 271.5h.7M356.7 267.7h.7M344.2 268.7h.7M352.3 268.0h.7M353.8 268.5h.7M339.1 270.1h.7M350.1 274.7h.7M351.3 271.6h.7M349.6 271.6h.7M340.4 266.8h.7M345.6 266.4h.7M357.1 272.0h.7M332.5 265.3h.7M332.0 273.5h.7M353.6 270.3h.7M347.6 272.6h.7M342.3 269.7h.7M350.1 274.0h.7M322.5 273.9h.7M351.4 267.2h.7M334.4 271.2h.7M355.3 268.7h.7M346.6 273.8h.7M344.8 269.5h.7M350.5 268.2h.7M352.7 264.0h.7M352.8 271.2h.7M347.9 269.9h.7M322.0 269.8h.7M355.4 268.8h.7M339.9 269.4h.7M345.2 271.4h.7M333.7 274.7h.7M336.4 273.4h.7M356.1 268.0h.7M357.1 272.1h.7M351.6 268.4h.7M345.1 269.2h.7M325.5 268.0h.7M358.6 273.0h.7M334.7 273.3h.7M328.4 271.1h.7M340.6 271.5h.7M348.1 269.2h.7M324.1 277.4h.7M348.9 269.8h.7M339.9 273.1h.7M338.4 271.1h.7M346.7 272.3h.7M343.0 270.2h.7M359.6 274.5h.7M346.5 268.9h.7M354.4 270.4h.7M331.8 269.3h.7M352.1 270.0h.7M355.6 271.2h.7M347.5 269.3h.7M333.8 269.6h.7M346.4 272.9h.7M355.7 269.6h.7M358.6 273.8h.7M342.5 270.6h.7M346.0 270.8h.7M344.0 270.4h.7M346.2 271.6h.7M349.9 276.4h.7M350.0 270.2h.7M339.5 266.5h.7M345.7 270.5h.7M346.1 273.3h.7M350.3 268.9h.7M360.3 268.6h.7M351.9 269.5h.7M349.4 274.4h.7M320.7 268.6h.7M339.9 271.7h.7M319.5 267.5h.7M347.3 271.2h.7M348.4 266.2h.7M347.6 271.8h.7M350.2 273.1h.7M360.9 267.1h.7M357.1 270.9h.7M327.4 273.4h.7M341.3 270.0h.7M344.3 274.7h.7M324.7 269.6h.7M357.0 273.1h.7M337.3 266.0h.7M355.6 274.0h.7M323.9 269.6h.7M329.6 270.7h.7M352.8 270.8h.7M347.8 273.9h.7M351.3 265.5h.7M358.6 269.5h.7M354.1 271.2h.7M354.1 273.9h.7M349.4 274.6h.7M355.6 268.0h.7M345.5 271.1h.7M345.0 273.1h.7M348.1 275.0h.7M344.0 266.0h.7M348.6 269.7h.7M326.7 273.2h.7M347.9 273.6h.7M335.6 268.0h.7M340.3 272.5h.7M358.8 270.4h.7M349.2 273.5h.7M329.5 269.4h.7M339.0 268.6h.7M340.3 275.2h.7M329.9 268.3h.7M334.2 268.6h.7M345.3 267.7h.7M338.6 265.3h.7M360.5 272.7h.7M337.8 266.7h.7M349.6 273.0h.7M350.3 276.3h.7M345.9 267.3h.7M345.5 266.8h.7M330.8 273.5h.7M343.8 269.7h.7M346.2 269.2h.7M348.8 268.0h.7M353.0 273.7h.7M352.3 272.7h.7M325.8 273.2h.7M348.6 271.4h.7M338.7 275.6h.7M326.9 272.3h.7M348.0 269.2h.7M350.2 268.2h.7M348.0 273.2h.7M345.8 268.8h.7M354.5 274.5h.7M341.7 268.9h.7M330.6 273.6h.7M345.9 269.0h.7M320.7 268.9h.7M333.9 270.3h.7M353.3 265.9h.7M336.3 269.0h.7M346.5 274.4h.7M345.6 270.9h.7M350.2 267.6h.7M351.0 268.0h.7M353.9 267.9h.7M343.5 265.0h.7M348.2 271.4h.7M338.6 270.4h.7M343.3 268.4h.7M352.1 269.5h.7M344.9 266.2h.7M358.6 266.8h.7M353.5 271.6h.7M348.6 269.4h.7M356.0 272.1h.7M341.0 271.8h.7M359.9 267.6h.7M355.8 271.9h.7M345.1 269.4h.7M347.1 273.4h.7M345.2 271.2h.7M346.9 268.7h.7M345.6 268.7h.7M327.8 269.7h.7M340.6 269.8h.7M347.5 271.0h.7M349.4 267.7h.7M328.5 272.5h.7M352.8 266.4h.7M363.3 269.0h.7M349.6 268.6h.7M341.4 269.5h.7M352.2 270.1h.7M340.7 272.4h.7M348.2 268.7h.7M341.4 268.8h.7M350.4 274.6h.7M329.9 276.3h.7M345.5 271.0h.7M353.2 274.0h.7M345.6 272.9h.7M352.8 271.6h.7M350.8 271.1h.7M357.3 267.3h.7M350.5 269.1h.7M343.2 269.2h.7M349.2 271.1h.7M348.8 273.6h.7M335.1 270.1h.7M343.9 274.3h.7M359.5 270.8h.7M352.4 268.2h.7M345.8 274.1h.7M339.4 271.1h.7M349.4 269.2h.7M347.7 266.8h.7M348.7 271.5h.7M349.0 269.5h.7M342.6 273.0h.7M329.1 269.3h.7M343.5 273.8h.7M345.2 271.1h.7M365.3 266.5h.7M345.6 273.7h.7M361.6 274.9h.7M341.8 277.2h.7M343.3 264.6h.7M357.6 270.8h.7M323.4 271.0h.7M326.9 272.3h.7M354.8 271.9h.7M319.1 264.6h.7M353.5 267.7h.7M327.9 268.2h.7M348.0 275.3h.7M349.7 273.0h.7M340.5 273.5h.7M354.7 269.2h.7M341.9 271.1h.7M347.9 264.9h.7M323.3 268.9h.7M358.0 264.2h.7M317.4 273.9h.7M340.8 273.4h.7M343.2 267.8h.7M349.8 275.2h.7M320.3 267.6h.7M337.1 273.5h.7M361.0 269.9h.7M345.2 269.0h.7M353.2 262.9h.7M358.2 273.4h.7M360.8 270.2h.7M353.3 272.6h.7M357.7 270.8h.7M351.5 271.5h.7M342.8 271.6h.7M334.4 268.3h.7M325.8 268.4h.7M336.1 267.6h.7M342.5 272.8h.7M319.6 268.6h.7M333.1 266.4h.7M350.3 272.2h.7M349.2 271.2h.7M327.8 274.6h.7M346.6 269.6h.7M342.1 270.7h.7M350.9 271.6h.7M357.4 269.7h.7M349.7 268.7h.7M347.4 273.3h.7M337.7 276.1h.7M356.4 270.9h.7M328.5 269.9h.7M347.2 272.4h.7M325.6 270.6h.7M343.7 271.5h.7M335.1 268.6h.7M347.6 276.1h.7M350.2 273.2h.7M324.8 269.9h.7M344.8 273.1h.7M349.3 275.7h.7M342.4 273.9h.7M350.6 272.4h.7M344.1 273.6h.7M350.4 269.8h.7M353.9 271.1h.7M340.9 271.6h.7M353.8 272.7h.7M349.9 273.6h.7M353.9 271.6h.7M355.6 269.1h.7M350.8 275.2h.7M355.5 271.4h.7M335.1 273.3h.7M358.8 272.5h.7M338.4 271.6h.7M344.7 271.2h.7M346.6 268.2h.7M355.5 270.2h.7M357.2 270.8h.7M355.3 271.0h.7M322.1 270.5h.7M325.1 275.0h.7M334.4 268.9h.7M350.3 274.4h.7M353.8 271.2h.7M352.5 275.0h.7M358.5 270.3h.7M328.8 270.1h.7M355.3 269.4h.7M344.4 268.8h.7M351.2 269.9h.7M344.8 274.1h.7M347.0 271.7h.7M319.0 270.3h.7M354.4 270.6h.7M346.6 266.7h.7M337.6 272.4h.7M355.5 265.4h.7M355.1 273.8h.7M354.5 269.4h.7M351.4 269.8h.7M348.1 272.8h.7M355.6 265.0h.7M346.4 269.5h.7M349.6 274.7h.7M352.6 272.3h.7M348.4 273.5h.7M345.0 269.7h.7M345.3 268.1h.7M322.1 273.1h.7M338.8 270.6h.7M348.5 268.5h.7M326.6 266.4h.7M328.8 272.4h.7M348.3 276.5h.7M346.4 270.2h.7M327.7 270.8h.7M353.0 272.0h.7M349.9 269.5h.7M358.6 271.1h.7M347.6 267.5h.7M348.2 270.6h.7M325.8 275.3h.7M346.0 269.3h.7M341.1 268.1h.7M352.5 267.0h.7M355.8 270.7h.7M350.1 270.1h.7M344.9 272.3h.7M340.2 270.1h.7M360.6 277.5h.7M343.5 268.7h.7M354.9 267.6h.7M352.3 271.6h.7M350.0 273.9h.7M330.0 272.7h.7M333.4 273.0h.7M368.0 269.5h.7M328.6 267.8h.7M323.0 272.1h.7M359.2 274.1h.7M350.7 269.3h.7M329.1 269.8h.7M340.7 269.5h.7M348.6 268.5h.7M343.9 267.1h.7M332.8 274.5h.7M351.4 272.2h.7M353.7 275.5h.7M346.7 268.6h.7M357.2 269.5h.7M347.7 268.8h.7M355.8 270.4h.7M354.0 272.9h.7M343.6 274.0h.7M349.7 269.1h.7M344.5 272.7h.7M347.3 268.7h.7M340.7 271.2h.7M334.6 276.6h.7M323.4 267.5h.7M368.6 269.7h.7M341.8 271.4h.7M357.5 272.5h.7M335.4 271.3h.7M321.2 270.7h.7M346.3 272.1h.7M350.6 271.4h.7M346.4 270.8h.7M343.5 272.0h.7M323.9 272.0h.7M356.5 263.3h.7M331.1 271.7h.7M351.5 277.4h.7M351.2 268.1h.7M349.0 273.8h.7M325.2 269.7h.7M347.3 265.8h.7M352.0 270.8h.7M359.0 266.6h.7M353.4 268.6h.7M353.2 269.5h.7M351.1 273.0h.7M356.3 268.9h.7M357.9 268.0h.7M349.6 271.4h.7M335.0 268.5h.7M344.4 269.9h.7M333.5 273.9h.7M340.1 274.9h.7M331.8 273.0h.7M344.2 267.8h.7M359.4 269.3h.7M352.7 270.2h.7M342.7 274.8h.7M352.9 267.6h.7M359.1 271.2h.7M356.6 274.3h.7M344.0 273.2h.7M344.2 265.9h.7M343.9 267.5h.7M341.4 268.7h.7M349.5 271.2h.7M337.2 270.1h.7M354.8 272.4h.7M352.1 271.3h.7M328.2 275.2h.7M337.2 268.8h.7M337.1 269.7h.7M326.8 273.0h.7M347.8 269.1h.7M361.0 271.0h.7M342.2 268.7h.7M334.2 270.7h.7M350.4 275.5h.7M340.5 266.8h.7M325.0 271.5h.7M329.9 267.6h.7M343.1 270.2h.7M354.2 270.6h.7M339.4 274.0h.7M339.8 266.7h.7M341.7 268.1h.7M348.9 269.7h.7M321.2 276.0h.7M351.0 271.1h.7M321.9 271.5h.7M333.1 270.6h.7M352.9 267.1h.7M353.3 271.6h.7M352.5 271.4h.7M353.7 271.8h.7M354.9 273.8h.7M337.4 269.1h.7M347.6 274.5h.7M335.9 272.5h.7M344.2 274.1h.7M355.5 275.2h.7M319.3 270.1h.7M357.6 267.8h.7M347.2 274.0h.7M349.9 272.2h.7M352.2 272.7h.7M333.3 267.7h.7M347.5 275.1h.7M320.1 274.6h.7M344.1 270.6h.7M333.7 274.2h.7M345.9 269.1h.7M352.0 273.0h.7M345.3 272.3h.7M341.6 267.8h.7M358.0 270.3h.7M348.2 275.4h.7M352.8 270.6h.7M351.1 270.0h.7M358.8 265.9h.7M322.8 268.8h.7M355.1 271.3h.7M355.6 267.0h.7M346.3 271.0h.7M347.2 266.5h.7M351.1 272.1h.7M347.2 265.3h.7M360.9 268.8h.7M351.9 279.8h.7M333.2 272.1h.7M321.5 272.7h.7M320.4 271.5h.7M342.3 273.4h.7M344.2 265.0h.7M357.4 274.7h.7M351.7 273.0h.7M319.2 271.3h.7M342.8 271.4h.7M342.9 267.6h.7M362.4 268.7h.7M344.8 268.9h.7M352.3 272.1h.7M360.6 268.5h.7M357.6 269.2h.7M339.5 269.4h.7M322.5 270.6h.7M343.1 268.9h.7M336.9 274.8h.7M354.2 270.3h.7M337.6 271.9h.7M348.3 266.3h.7M340.5 270.7h.7M346.7 268.6h.7M360.7 267.2h.7M336.9 272.3h.7M340.6 272.4h.7M330.0 270.5h.7M321.2 268.9h.7M349.1 269.0h.7M341.4 269.8h.7M358.4 273.4h.7M320.4 266.0h.7M333.4 271.4h.7M355.8 274.5h.7M351.8 273.6h.7M355.7 276.2h.7M350.2 268.4h.7M328.3 264.6h.7M345.5 265.5h.7M360.4 267.8h.7M316.2 271.7h.7M333.3 267.1h.7M350.7 271.9h.7M344.9 270.6h.7M340.5 268.9h.7M325.8 265.5h.7M324.9 275.9h.7M335.2 270.2h.7M350.5 272.2h.7M342.6 272.2h.7M334.2 268.1h.7M347.1 267.8h.7M331.6 270.8h.7M363.9 274.2h.7M349.7 269.0h.7M347.1 270.4h.7M360.7 270.5h.7M348.9 263.7h.7M355.7 270.1h.7M348.9 273.7h.7M329.9 272.9h.7M358.6 272.6h.7M340.7 269.6h.7M336.0 275.5h.7M323.6 272.7h.7M352.3 272.7h.7M359.0 274.5h.7M325.8 270.3h.7M334.1 270.4h.7M352.3 272.8h.7M325.7 273.6h.7M342.5 270.0h.7M349.0 268.6h.7M329.2 271.5h.7M354.4 272.3h.7M344.5 274.7h.7M344.2 265.7h.7M336.9 270.4h.7M350.2 271.8h.7M345.8 268.1h.7M336.5 270.0h.7M351.9 272.5h.7M356.5 268.1h.7M350.1 271.3h.7M353.8 267.1h.7M347.9 269.8h.7M347.9 271.7h.7M349.1 272.6h.7M356.3 269.8h.7M335.1 269.0h.7M351.4 267.0h.7M333.1 270.1h.7M357.3 266.9h.7M354.1 271.1h.7M351.0 277.0h.7M348.5 267.1h.7M349.1 268.9h.7M331.3 267.5h.7M333.2 270.7h.7M348.3 271.4h.7M339.4 270.1h.7M349.4 271.4h.7M334.4 269.1h.7M364.1 271.8h.7M355.3 270.5h.7M355.3 267.2h.7M343.3 273.5h.7M354.2 271.2h.7M360.8 274.8h.7M343.7 267.7h.7M358.8 271.7h.7M355.5 269.0h.7M353.7 268.7h.7M347.2 267.1h.7M349.1 269.5h.7M346.2 269.7h.7M351.8 275.4h.7M355.1 268.9h.7M347.8 273.3h.7M353.4 270.3h.7M345.5 268.9h.7M352.9 270.6h.7M340.4 271.0h.7M347.4 275.6h.7M337.8 271.1h.7M341.0 275.6h.7M347.2 269.8h.7M350.0 271.7h.7M348.5 273.8h.7M356.6 272.6h.7M344.9 267.4h.7M362.8 271.8h.7M354.8 272.5h.7M356.4 272.3h.7M358.0 275.1h.7M357.3 267.4h.7M353.7 273.4h.7M349.9 273.3h.7M333.0 270.7h.7M331.7 267.0h.7M352.5 275.9h.7M328.8 268.2h.7M347.1 268.6h.7M356.8 271.1h.7M353.8 266.4h.7M358.2 272.6h.7M329.2 270.3h.7M358.7 271.7h.7M330.3 262.0h.7M351.3 269.0h.7M351.7 271.9h.7M341.8 273.9h.7M348.7 275.3h.7M351.6 270.4h.7M349.3 270.7h.7M353.6 272.0h.7M344.7 270.4h.7M340.7 272.2h.7M354.9 266.5h.7M357.1 272.5h.7M345.7 267.7h.7M344.6 276.7h.7M356.1 273.7h.7M354.5 269.3h.7M333.2 272.8h.7M334.2 272.7h.7M337.7 274.1h.7M350.7 267.4h.7M334.7 272.5h.7M347.7 270.9h.7M345.7 270.8h.7M344.1 267.0h.7M347.4 269.3h.7M326.2 269.1h.7M355.6 266.5h.7M350.0 268.9h.7M356.9 266.8h.7M328.3 267.1h.7M342.8 268.4h.7M353.5 272.9h.7M348.2 270.0h.7M359.8 269.9h.7M359.7 272.2h.7M343.4 272.9h.7M347.9 268.5h.7M327.5 270.1h.7M350.3 271.5h.7M342.0 269.9h.7M357.0 272.8h.7M337.5 269.2h.7M369.4 276.0h.7M344.7 274.1h.7M347.3 267.4h.7M350.3 269.9h.7M335.5 267.8h.7M352.0 277.5h.7M342.8 270.3h.7M349.4 265.7h.7M327.8 274.4h.7M336.1 274.2h.7M359.3 265.4h.7M348.8 270.0h.7M323.0 267.8h.7M339.3 268.7h.7M347.4 275.7h.7M349.4 272.3h.7M325.5 270.9h.7M352.0 268.1h.7M337.3 272.3h.7M348.2 267.6h.7M352.7 271.5h.7M360.0 271.6h.7M327.0 272.0h.7M343.2 271.8h.7M319.7 270.8h.7M342.9 271.3h.7M350.1 268.1h.7M328.6 268.8h.7M345.0 274.3h.7M325.4 272.2h.7M323.2 271.1h.7M348.0 272.4h.7M351.3 268.3h.7M349.5 267.8h.7M343.0 270.6h.7M349.9 274.0h.7M352.7 275.2h.7M351.3 273.1h.7M347.0 276.8h.7M355.1 267.6h.7M353.9 271.6h.7M339.7 273.9h.7M345.5 267.4h.7M345.6 269.5h.7M321.6 274.9h.7M319.6 266.7h.7M341.5 272.2h.7M348.1 267.9h.7M319.9 267.2h.7M345.2 269.0h.7M347.1 268.4h.7M331.8 271.0h.7M321.9 269.2h.7M348.4 267.8h.7M344.2 272.6h.7M354.0 273.0h.7M354.5 269.9h.7M351.2 278.1h.7M343.0 266.1h.7M349.4 268.2h.7M355.0 271.3h.7M327.5 270.7h.7M344.9 267.5h.7M338.3 267.7h.7M347.1 264.4h.7M353.4 266.6h.7M344.8 271.7h.7M348.0 270.4h.7M348.2 272.8h.7M353.7 271.7h.7M352.4 272.1h.7M351.2 274.0h.7M356.9 270.5h.7M321.0 272.7h.7M354.5 269.5h.7M358.6 272.2h.7M349.3 268.6h.7M349.3 269.7h.7M356.3 269.9h.7M357.0 271.6h.7M343.2 273.1h.7M353.5 270.0h.7M344.1 272.3h.7M356.5 269.1h.7M329.8 269.0h.7M346.2 269.2h.7M322.3 271.5h.7M327.1 272.5h.7M323.0 273.1h.7M349.1 273.2h.7M362.2 268.0h.7M350.1 271.8h.7M343.3 269.0h.7M362.7 268.2h.7M360.7 271.6h.7M349.0 268.7h.7M355.9 271.3h.7M343.2 267.0h.7M354.5 274.3h.7M353.2 273.6h.7M347.9 271.7h.7M348.4 268.5h.7M332.8 269.8h.7M353.3 273.6h.7M349.7 276.2h.7M350.1 277.9h.7M349.3 270.5h.7M350.5 269.5h.7M342.3 270.6h.7M334.6 272.9h.7M324.2 275.0h.7M348.2 271.1h.7M325.5 270.2h.7M354.7 269.5h.7M345.4 266.8h.7M353.1 267.4h.7M360.4 272.6h.7M358.1 272.1h.7M358.4 267.5h.7M344.9 266.6h.7M342.5 268.0h.7M338.7 272.7h.7M354.0 279.8h.7M343.5 271.6h.7M341.8 272.3h.7M348.6 270.0h.7M349.5 264.4h.7M356.4 273.5h.7M329.0 266.4h.7M343.0 273.1h.7M345.9 274.1h.7M327.5 271.8h.7M349.4 265.6h.7M359.6 273.1h.7M332.4 272.0h.7M321.8 268.1h.7M353.7 274.3h.7M352.7 265.7h.7M324.5 273.6h.7M343.7 275.3h.7M329.4 267.9h.7M346.6 275.2h.7M332.9 273.9h.7M342.8 268.9h.7M342.5 271.4h.7M359.7 266.4h.7M350.3 268.5h.7M336.5 268.0h.7M359.3 270.7h.7" fill="none" stroke="#222" stroke-width="0.75" opacity="1.0" filter="url(#bl)"/>
<path d="M350.9 270.4h.7M341.5 271.6h.7M348.2 275.0h.7M343.5 275.3h.7M344.0 268.4h.7M344.0 270.7h.7M340.0 271.9h.7M336.4 265.0h.7M347.3 273.6h.7M345.1 275.3h.7M345.5 272.3h.7M339.1 270.0h.7M338.8 267.7h.7M353.2 266.6h.7M341.0 271.7h.7M336.0 269.3h.7M348.8 266.5h.7M350.6 273.3h.7M355.2 270.8h.7M343.2 269.0h.7M349.0 266.4h.7M341.8 274.4h.7M358.2 269.7h.7M338.8 267.3h.7M353.6 272.7h.7M353.7 272.2h.7M352.7 272.5h.7M358.3 272.9h.7M338.1 272.7h.7M351.3 272.0h.7M345.4 273.3h.7M341.6 271.5h.7M352.4 267.0h.7M338.9 270.2h.7M342.7 270.9h.7M343.5 269.2h.7M355.9 268.5h.7M357.2 271.3h.7M346.3 272.3h.7M343.3 266.6h.7M339.6 270.9h.7M358.8 267.3h.7M356.5 274.3h.7M338.8 270.6h.7M351.2 265.1h.7M347.8 268.2h.7M357.0 272.0h.7M357.3 272.4h.7M357.2 270.7h.7M356.1 271.6h.7M355.5 271.0h.7M344.6 272.0h.7M346.8 275.2h.7M340.5 270.9h.7M344.4 269.1h.7M349.3 272.9h.7M357.7 270.2h.7M337.6 271.9h.7M349.4 273.7h.7M344.1 270.7h.7M340.0 268.3h.7M345.8 269.2h.7M343.3 264.2h.7M354.1 272.4h.7M344.0 271.5h.7M349.0 268.2h.7M348.4 271.9h.7M351.4 271.3h.7M344.7 271.9h.7M337.5 269.0h.7M355.5 271.8h.7M336.8 269.5h.7M343.4 271.6h.7M354.8 272.5h.7M352.5 272.2h.7M351.0 267.7h.7M358.1 270.4h.7M348.2 272.9h.7M341.3 272.4h.7M336.3 274.1h.7M352.5 267.7h.7M341.3 269.7h.7M344.0 275.0h.7M349.2 273.5h.7M346.9 271.5h.7M348.5 270.6h.7M353.7 272.2h.7M348.7 275.4h.7M348.2 269.2h.7M346.9 274.8h.7M353.6 267.0h.7M351.6 267.6h.7M345.4 270.1h.7M338.2 273.2h.7M352.8 273.0h.7M338.7 274.7h.7M347.4 274.1h.7M342.2 273.0h.7M353.2 270.2h.7M348.9 277.2h.7M336.3 269.0h.7M333.6 273.4h.7M336.5 270.8h.7M356.7 271.4h.7M345.1 272.0h.7M340.1 268.5h.7M343.0 269.7h.7M353.8 267.8h.7M354.2 275.8h.7M346.9 274.6h.7M358.7 275.8h.7M336.8 268.6h.7M341.5 272.2h.7M347.5 268.9h.7M340.4 264.4h.7M340.3 274.3h.7M336.9 272.1h.7M350.3 271.3h.7M350.3 269.9h.7M348.3 268.1h.7M357.4 265.8h.7M343.9 274.9h.7M331.1 269.2h.7M338.7 271.7h.7M335.7 272.2h.7M354.0 270.7h.7M343.3 267.3h.7M337.0 273.3h.7M344.8 266.3h.7M342.9 271.8h.7M336.6 275.5h.7M351.6 273.5h.7M358.4 272.0h.7M352.2 270.7h.7M354.4 269.7h.7M349.7 270.9h.7M357.2 271.6h.7M359.3 270.9h.7M356.0 268.7h.7M332.6 274.3h.7M336.1 279.5h.7M338.4 274.2h.7M355.3 274.9h.7M347.3 272.1h.7M339.3 271.4h.7M356.2 269.7h.7M337.5 271.9h.7M349.1 267.9h.7M346.9 273.3h.7M348.2 270.4h.7M357.2 271.3h.7M356.2 270.4h.7M342.9 266.7h.7M340.7 267.3h.7M339.9 268.5h.7M355.0 272.3h.7M347.0 270.3h.7M350.9 266.8h.7M347.9 274.3h.7M351.1 269.2h.7M347.4 269.8h.7M345.8 270.4h.7M345.9 269.3h.7M345.8 273.0h.7M358.9 271.4h.7M345.1 268.9h.7M343.8 275.3h.7M342.6 266.6h.7M358.2 267.9h.7M341.5 269.5h.7M346.8 266.6h.7M341.4 274.4h.7M338.6 267.1h.7M358.7 269.6h.7M337.4 271.4h.7M337.6 269.5h.7M356.5 268.5h.7M341.1 269.6h.7M341.7 270.8h.7M341.3 269.7h.7M349.2 266.6h.7M340.2 272.8h.7M343.6 273.2h.7M345.6 267.9h.7M350.7 272.9h.7M343.4 270.4h.7M343.0 273.5h.7M341.9 269.2h.7M342.3 272.1h.7M346.1 272.7h.7M350.9 272.3h.7M343.6 271.2h.7M346.9 268.4h.7M353.8 265.8h.7M341.8 273.6h.7M348.1 269.5h.7M339.1 272.4h.7M344.3 267.9h.7M349.6 269.0h.7M356.8 270.3h.7M337.6 268.3h.7M340.9 268.8h.7M341.7 270.3h.7M342.4 272.2h.7M352.1 266.6h.7M351.6 271.4h.7M341.9 272.5h.7M338.9 275.3h.7M346.1 273.0h.7M346.9 269.6h.7M356.4 269.0h.7M354.3 264.2h.7M350.8 270.6h.7M338.0 273.0h.7M337.0 270.0h.7M346.0 272.4h.7M340.3 268.2h.7M350.0 270.1h.7M339.4 270.7h.7M348.7 273.3h.7M337.0 269.2h.7M336.4 273.2h.7M355.1 269.6h.7M361.0 269.2h.7M335.7 269.8h.7M342.2 269.9h.7M344.9 271.8h.7M348.7 271.3h.7M343.6 269.9h.7M355.9 271.3h.7M354.1 267.8h.7M338.7 275.3h.7M343.4 274.0h.7M344.0 266.5h.7M354.3 270.4h.7M353.5 272.3h.7M344.5 273.8h.7M346.6 275.0h.7M343.8 266.7h.7M356.3 270.6h.7M351.9 273.8h.7M348.8 267.6h.7M342.3 271.7h.7M341.7 271.7h.7M354.6 270.8h.7M348.7 268.2h.7M338.1 272.8h.7M342.7 267.7h.7M354.6 271.8h.7M346.5 271.3h.7M348.2 269.5h.7M339.6 274.5h.7M345.2 268.5h.7M342.4 271.8h.7M343.0 267.2h.7M347.2 267.5h.7M351.7 275.1h.7M348.9 264.5h.7M336.2 269.8h.7M352.4 271.9h.7M343.8 269.8h.7M354.9 274.8h.7M347.1 274.0h.7M343.4 272.6h.7M359.0 268.3h.7M348.8 269.7h.7M344.0 274.3h.7M358.0 271.5h.7M338.8 270.1h.7M338.9 275.9h.7M346.3 271.1h.7M349.0 268.8h.7M351.5 270.6h.7M349.7 270.6h.7M352.4 267.0h.7M346.7 273.8h.7M349.5 274.4h.7M355.6 266.9h.7M345.9 275.2h.7M354.2 271.1h.7M344.0 274.8h.7M343.8 274.2h.7M343.6 274.0h.7M349.6 277.0h.7M337.5 270.2h.7M327.0 264.4h.7M348.3 277.8h.7M352.8 270.3h.7M348.9 265.6h.7M357.8 268.2h.7M341.9 273.7h.7M357.7 271.3h.7M344.4 271.3h.7M358.7 271.9h.7M352.0 270.5h.7M360.4 270.9h.7M346.6 276.8h.7M348.2 269.9h.7M347.9 270.5h.7M355.4 267.2h.7M348.9 272.6h.7M336.6 275.9h.7M354.3 269.7h.7M340.3 268.7h.7M343.4 270.7h.7M341.9 269.7h.7M355.8 271.1h.7M353.3 271.2h.7M342.7 271.8h.7M349.5 271.3h.7M350.2 271.5h.7M358.7 273.8h.7M343.3 272.4h.7M352.1 273.2h.7M355.6 273.2h.7M346.4 274.4h.7M351.4 273.6h.7M339.0 271.2h.7M346.9 268.1h.7M350.0 272.1h.7M348.6 273.7h.7M358.9 270.1h.7M350.5 272.6h.7M341.7 273.6h.7M357.6 271.0h.7M351.0 271.7h.7M353.8 270.0h.7M353.1 273.8h.7M357.4 272.0h.7M336.8 271.0h.7M336.6 269.8h.7M355.7 269.7h.7M358.1 268.6h.7M342.0 268.8h.7M341.1 275.9h.7M344.5 274.4h.7M348.8 268.5h.7M348.1 263.7h.7M357.1 274.0h.7M352.9 271.4h.7M355.1 271.5h.7M350.5 270.4h.7M363.6 269.7h.7M337.6 273.0h.7M356.8 273.7h.7M338.6 271.1h.7M354.6 271.3h.7M344.0 273.7h.7M336.2 271.8h.7M344.7 273.7h.7M353.7 270.7h.7M349.4 271.9h.7M331.2 271.0h.7M343.5 269.1h.7M344.0 271.5h.7M358.9 270.1h.7M353.6 268.0h.7M345.5 269.4h.7M343.1 265.8h.7M353.0 268.2h.7M352.6 270.5h.7M337.1 272.2h.7M352.8 272.1h.7M355.0 275.0h.7M341.2 269.4h.7M339.4 272.3h.7M350.5 272.0h.7M352.5 270.0h.7M347.1 274.1h.7M349.3 267.1h.7M341.1 275.6h.7M345.9 271.7h.7M357.9 270.7h.7M342.0 271.0h.7M347.2 272.9h.7M343.5 269.5h.7M336.4 272.8h.7M353.0 272.9h.7M356.7 271.0h.7M340.7 272.0h.7M347.5 270.2h.7M338.7 268.1h.7M350.5 268.4h.7M361.1 271.5h.7M355.9 275.0h.7M340.0 273.0h.7M340.6 273.1h.7M344.8 266.5h.7M342.0 270.1h.7M342.9 271.5h.7M339.1 269.4h.7M350.7 266.0h.7M345.3 269.5h.7M346.6 273.1h.7M356.4 272.1h.7M340.1 269.3h.7M338.6 269.6h.7M337.8 271.2h.7M348.2 274.5h.7M357.8 268.1h.7M355.3 272.5h.7M353.7 270.2h.7M358.1 267.4h.7M340.5 269.8h.7M341.3 271.7h.7M347.3 275.0h.7M352.3 280.6h.7M354.4 270.4h.7M351.4 273.6h.7M344.6 267.9h.7M349.2 270.0h.7M339.9 271.1h.7M344.0 268.5h.7M346.2 264.6h.7M342.5 268.5h.7M343.3 266.4h.7M348.0 271.7h.7M345.2 273.4h.7M358.2 265.1h.7M350.8 267.9h.7M355.0 277.4h.7M348.3 272.5h.7M337.5 268.4h.7M342.5 273.7h.7M344.5 272.5h.7M342.2 269.9h.7M350.7 275.5h.7M337.7 271.8h.7M336.4 272.9h.7M354.7 269.4h.7M356.5 270.9h.7M351.6 273.7h.7M349.2 275.5h.7M339.5 269.8h.7M342.1 271.2h.7M352.6 267.0h.7M357.9 267.7h.7M337.2 272.0h.7M339.2 272.7h.7M349.4 269.6h.7M352.5 271.3h.7M343.1 276.5h.7M341.4 268.8h.7M341.9 272.8h.7M328.7 270.7h.7M356.4 273.3h.7M347.9 272.8h.7M340.3 271.4h.7M347.4 271.0h.7M340.0 272.3h.7M343.9 273.3h.7M358.4 272.2h.7M338.6 270.7h.7M338.3 268.8h.7M355.1 271.8h.7M352.8 271.7h.7M350.6 276.1h.7M338.9 270.0h.7M353.5 274.5h.7M347.2 273.4h.7M350.4 273.6h.7M353.0 270.7h.7M342.1 274.5h.7M356.6 274.0h.7M339.7 268.8h.7M353.7 272.4h.7M350.8 272.5h.7M354.3 272.2h.7M344.2 269.3h.7M349.0 270.1h.7M344.5 264.2h.7M337.6 269.0h.7M346.9 269.9h.7M336.5 269.6h.7M354.9 274.2h.7M350.5 270.9h.7M356.1 271.3h.7M344.2 268.0h.7M355.2 272.8h.7M337.6 270.3h.7M336.6 270.0h.7M346.2 268.9h.7M339.7 271.9h.7M336.9 271.4h.7M336.7 273.0h.7M349.2 265.5h.7M346.8 269.0h.7M342.5 273.8h.7M336.0 269.8h.7M340.5 268.1h.7M357.3 270.8h.7M344.5 267.7h.7M351.0 273.8h.7M355.2 271.6h.7M355.0 269.2h.7M339.8 275.6h.7M350.8 268.6h.7M338.0 271.9h.7M339.3 268.8h.7M356.0 272.3h.7M357.9 271.9h.7M345.1 270.3h.7M351.1 268.9h.7M356.8 267.9h.7M337.7 265.1h.7M343.0 270.5h.7M358.6 269.5h.7M356.8 269.2h.7M352.3 274.4h.7M342.3 270.6h.7M339.6 269.2h.7M344.9 277.9h.7M342.1 270.6h.7M347.2 272.0h.7M344.6 267.5h.7M347.1 269.4h.7M346.9 269.1h.7M349.1 275.7h.7M352.3 268.5h.7M336.5 273.2h.7M336.9 274.2h.7M339.6 268.9h.7M342.5 268.9h.7M353.1 268.1h.7M355.2 271.2h.7M341.9 266.0h.7M355.3 268.2h.7M347.3 271.7h.7M344.2 270.3h.7M348.3 270.9h.7M351.4 272.8h.7M357.6 273.1h.7M346.4 270.4h.7M347.5 271.8h.7M353.5 270.0h.7M337.2 276.9h.7M357.4 269.9h.7M344.9 268.5h.7M356.0 269.0h.7M349.4 267.3h.7M361.2 273.6h.7M344.4 272.7h.7M346.7 267.1h.7M339.6 269.4h.7M358.3 272.6h.7M352.5 264.9h.7M355.0 268.3h.7M340.1 268.2h.7M343.5 271.4h.7M341.7 273.1h.7M337.8 271.9h.7M344.2 273.0h.7M350.5 268.5h.7M346.6 270.5h.7M356.1 272.9h.7M354.4 273.5h.7M337.4 274.5h.7M337.0 275.1h.7M339.4 267.2h.7M346.0 273.1h.7M345.3 269.8h.7M364.9 268.7h.7M345.5 269.9h.7M357.3 268.8h.7M346.0 268.9h.7M351.4 270.6h.7M352.3 267.8h.7M352.5 271.9h.7M350.6 271.9h.7M344.1 269.0h.7M347.6 272.7h.7M339.3 269.3h.7M354.6 270.1h.7M345.9 269.4h.7M338.1 268.7h.7M357.8 270.3h.7M353.8 270.1h.7M344.6 269.0h.7M347.1 269.8h.7M358.0 268.1h.7M356.1 271.3h.7M339.0 270.5h.7M356.1 269.0h.7M342.2 269.0h.7M338.8 270.4h.7M349.2 270.1h.7M342.4 274.3h.7M340.8 268.8h.7M337.8 270.2h.7M348.0 271.5h.7M343.0 272.6h.7M341.3 272.1h.7M352.3 271.2h.7M338.6 273.4h.7M348.8 270.1h.7M354.5 268.7h.7M344.0 273.3h.7M355.3 276.6h.7M349.9 271.2h.7M349.3 270.6h.7M347.0 269.0h.7M358.8 268.1h.7M355.5 270.2h.7M351.7 268.5h.7M341.0 274.1h.7M341.0 272.6h.7M340.0 268.0h.7M357.9 268.2h.7M351.7 274.8h.7M353.6 268.0h.7M342.0 277.2h.7M343.8 269.8h.7M351.6 271.9h.7M345.1 268.3h.7M351.1 271.5h.7M336.3 270.5h.7M338.2 275.6h.7M355.3 271.1h.7M345.4 267.1h.7M348.7 267.8h.7M346.6 270.8h.7M341.6 265.4h.7M353.5 270.3h.7M338.1 271.9h.7M356.2 272.8h.7M354.6 275.0h.7M343.1 273.7h.7M352.7 269.3h.7M345.0 275.9h.7M341.1 270.3h.7M351.2 268.6h.7M336.3 270.2h.7M356.3 272.6h.7M339.5 271.7h.7M346.3 274.1h.7M340.0 273.3h.7M341.4 269.4h.7M338.6 270.3h.7M348.6 270.1h.7M353.1 274.0h.7M342.2 269.6h.7M337.4 266.5h.7M342.5 273.3h.7M353.1 268.6h.7M342.4 268.9h.7M348.2 273.1h.7M339.9 272.2h.7M355.5 272.9h.7M344.4 277.3h.7M351.7 271.1h.7M343.2 272.7h.7M337.9 272.7h.7M344.0 264.3h.7M348.3 275.8h.7M349.0 268.3h.7M339.9 271.3h.7M350.1 272.7h.7M353.7 271.5h.7M355.5 270.0h.7M345.1 268.5h.7M352.6 272.4h.7M352.2 268.8h.7M352.4 268.6h.7M347.0 271.0h.7M347.7 270.0h.7M349.6 271.5h.7M356.6 272.8h.7M356.2 270.6h.7M336.2 274.3h.7M339.2 270.6h.7M351.4 274.1h.7M337.7 269.1h.7M356.3 269.8h.7M333.7 272.0h.7M354.4 269.3h.7M346.7 273.7h.7M358.1 263.1h.7M352.9 268.5h.7M352.5 270.7h.7M355.5 276.0h.7M351.8 267.5h.7M336.2 269.3h.7M344.7 271.2h.7M341.9 275.6h.7M354.4 272.0h.7M341.9 269.0h.7M357.9 273.1h.7M353.1 271.1h.7M338.4 271.0h.7M365.6 270.4h.7M341.4 273.3h.7M349.4 267.0h.7M342.1 274.8h.7M348.0 273.9h.7M343.8 271.4h.7M347.4 266.4h.7M343.3 274.6h.7M344.9 270.8h.7M342.0 270.0h.7M343.3 273.5h.7M356.3 274.3h.7M352.6 278.2h.7M337.2 268.4h.7M353.9 273.7h.7M342.2 272.1h.7M345.1 267.6h.7M356.5 270.2h.7M358.1 274.3h.7M337.6 275.3h.7M355.9 273.2h.7M347.2 270.5h.7M341.8 271.0h.7M352.1 272.6h.7M357.8 273.8h.7M352.1 266.3h.7M351.0 271.5h.7M337.1 270.0h.7M341.1 271.0h.7M338.2 270.2h.7M339.4 270.1h.7M342.9 273.5h.7M351.9 268.3h.7M337.4 271.6h.7M349.6 267.9h.7M353.4 270.5h.7M356.0 265.8h.7M345.6 267.6h.7M349.3 270.8h.7M347.7 273.3h.7M354.0 268.9h.7M338.8 270.1h.7M347.3 273.2h.7M359.0 268.2h.7M355.6 266.5h.7M344.6 266.2h.7M354.5 273.9h.7M345.6 274.7h.7M346.7 275.6h.7M337.6 270.8h.7M340.6 271.2h.7M340.1 273.6h.7M355.2 270.1h.7M336.5 268.9h.7M353.3 270.4h.7M352.9 274.7h.7M345.3 270.4h.7M354.9 270.1h.7M358.3 270.4h.7M354.7 271.8h.7M336.9 272.7h.7M354.9 276.2h.7M354.2 272.5h.7M339.2 270.7h.7M349.7 267.8h.7M354.4 272.1h.7M352.6 271.3h.7M346.6 272.8h.7M355.6 273.4h.7M336.9 274.5h.7M341.9 270.2h.7M336.8 268.4h.7M336.2 267.9h.7M356.6 267.3h.7M357.3 270.5h.7M347.9 270.3h.7M348.6 271.0h.7M343.7 271.4h.7M353.2 273.2h.7M346.5 273.2h.7M353.1 273.2h.7M357.1 270.1h.7M351.0 273.6h.7M345.3 273.2h.7M351.3 267.1h.7M339.1 269.2h.7M349.4 271.4h.7M352.2 272.1h.7M351.3 266.6h.7M350.7 271.4h.7M338.1 274.6h.7M348.3 267.6h.7M352.7 266.4h.7M338.7 270.7h.7M357.6 271.4h.7M341.1 272.4h.7M352.3 265.0h.7M345.8 268.7h.7M336.0 272.4h.7M348.0 270.0h.7M355.9 274.0h.7M354.4 268.5h.7M348.4 271.4h.7M348.7 271.9h.7M340.9 270.4h.7M358.5 269.4h.7M346.0 269.8h.7M344.7 273.3h.7M358.7 272.5h.7M347.6 272.6h.7M344.8 267.1h.7" fill="none" stroke="#222" stroke-width="0.75" opacity="1.0" filter="url(#bl)"/>
<path d="M327.2 272.0h.6M318.7 261.0h.6M326.1 265.2h.6M352.0 256.5h.6M358.3 258.4h.6M361.7 280.7h.6M346.3 277.9h.6M361.3 267.6h.6M357.4 256.9h.6M353.9 272.9h.6M353.7 259.9h.6M321.8 269.6h.6M345.9 273.9h.6M326.2 270.8h.6M362.6 262.6h.6M355.7 281.0h.6M348.9 267.4h.6M337.2 268.2h.6M323.7 257.9h.6M330.9 260.5h.6M359.4 265.4h.6M358.3 270.6h.6M359.3 279.3h.6M350.7 267.7h.6M329.2 270.7h.6M332.3 277.5h.6M320.0 272.6h.6M333.6 266.9h.6M342.9 281.5h.6M363.7 265.3h.6M362.0 280.9h.6M342.2 270.7h.6M327.1 276.5h.6M340.3 275.8h.6M360.4 272.2h.6M350.0 270.3h.6M324.0 267.9h.6M320.9 260.7h.6M363.1 265.9h.6M324.2 267.3h.6M320.8 271.8h.6M328.5 261.7h.6M347.3 280.1h.6M318.6 274.6h.6M344.8 268.7h.6M337.4 256.3h.6M334.2 269.6h.6M333.4 281.8h.6M333.6 278.0h.6M355.3 276.7h.6M340.6 269.0h.6M356.8 259.1h.6M328.3 256.3h.6M340.6 267.8h.6M362.0 280.2h.6M336.7 268.9h.6M322.8 275.6h.6M341.9 260.4h.6M358.3 257.1h.6M326.9 268.4h.6M363.9 259.6h.6M330.3 276.6h.6M333.5 280.2h.6M318.9 262.2h.6M332.3 278.1h.6M322.7 273.5h.6M358.8 281.3h.6M355.1 257.3h.6M340.2 261.7h.6M323.6 262.3h.6M351.8 271.0h.6M324.0 263.4h.6M321.0 280.1h.6M352.7 268.3h.6M362.2 281.4h.6M327.5 262.6h.6M326.8 272.3h.6M345.4 269.5h.6M353.6 269.8h.6M332.5 273.4h.6M361.7 257.3h.6M340.4 259.6h.6M352.4 267.2h.6M356.6 273.4h.6M362.1 271.1h.6M345.4 281.3h.6M354.9 264.8h.6M322.8 280.0h.6M320.9 280.0h.6M360.9 273.2h.6" fill="none" stroke="#444" stroke-width="0.6" opacity="0.8"/>
<path d="M422.0 268.2h.7M388.6 268.2h.7M390.3 266.3h.7M395.7 270.1h.7M414.3 266.5h.7M402.3 266.8h.7M415.5 269.0h.7M397.0 268.3h.7M411.9 268.5h.7M398.2 268.0h.7M414.8 266.7h.7M390.9 267.0h.7M400.0 268.9h.7M405.8 270.7h.7M413.1 269.2h.7M400.8 269.2h.7M386.2 268.4h.7M403.7 268.3h.7M386.9 268.8h.7M410.7 267.9h.7M406.2 265.6h.7M411.7 265.0h.7M390.0 266.6h.7M416.0 272.0h.7M414.6 265.2h.7M387.7 267.8h.7M407.4 267.0h.7M413.8 270.4h.7M411.7 266.8h.7M404.1 269.9h.7M395.9 266.3h.7M391.4 269.9h.7M404.9 267.9h.7M400.3 268.5h.7M389.0 266.6h.7M397.8 266.9h.7M392.2 270.5h.7M395.9 267.5h.7M414.4 266.3h.7M388.7 265.3h.7M421.6 268.6h.7M404.0 268.1h.7M417.3 266.3h.7M408.7 267.4h.7M387.6 265.9h.7M421.4 267.7h.7M399.8 270.6h.7M405.9 269.4h.7M402.6 266.6h.7M382.5 269.5h.7M390.7 269.3h.7M399.5 273.2h.7M401.7 267.3h.7M390.6 271.1h.7M388.0 270.6h.7M394.0 268.0h.7M413.9 268.0h.7M400.1 261.9h.7M409.4 266.7h.7M422.8 271.2h.7M394.0 266.6h.7M397.5 269.2h.7M423.3 269.4h.7M401.7 266.9h.7M422.9 267.4h.7M420.9 265.1h.7M406.0 270.5h.7M405.4 269.8h.7M404.3 266.3h.7M411.4 270.7h.7M414.7 265.6h.7M403.9 269.0h.7M403.8 266.3h.7M413.8 266.7h.7M400.0 271.0h.7M400.0 271.2h.7M400.2 267.2h.7M402.2 270.5h.7M407.9 270.1h.7M423.9 266.8h.7M413.2 267.5h.7M418.4 268.7h.7M390.3 268.3h.7M399.5 263.4h.7M409.6 269.6h.7M406.3 266.6h.7M408.5 268.2h.7M411.6 266.8h.7M415.6 264.5h.7M373.0 270.0h.7M410.4 267.0h.7M419.8 270.1h.7M413.5 268.2h.7M399.5 267.2h.7M401.4 269.5h.7M387.8 268.9h.7M410.2 266.1h.7M414.9 266.7h.7M393.9 269.7h.7M418.3 265.9h.7M410.4 266.8h.7M392.6 270.1h.7M398.0 268.2h.7M414.1 266.6h.7M413.1 266.4h.7M407.8 264.6h.7M385.8 267.1h.7M409.2 271.5h.7M390.7 267.0h.7M407.6 267.0h.7M390.6 267.8h.7M413.2 268.1h.7M419.4 267.9h.7M410.1 270.0h.7M420.0 268.9h.7M421.8 269.1h.7M388.0 267.9h.7M398.1 269.7h.7M419.3 269.2h.7M414.5 266.4h.7M410.8 267.2h.7M400.8 267.7h.7M411.7 270.0h.7M398.8 267.3h.7M399.2 269.0h.7M392.7 267.8h.7M420.2 267.1h.7M410.4 268.4h.7M401.2 269.8h.7M419.9 268.8h.7M393.1 264.0h.7M389.0 269.4h.7M393.0 267.6h.7M387.5 270.3h.7M405.3 267.8h.7M395.6 265.4h.7M422.5 267.2h.7M404.5 270.3h.7M411.9 270.5h.7M403.6 269.9h.7M401.3 269.4h.7M406.2 267.2h.7M402.8 267.4h.7M395.2 265.1h.7M406.4 271.6h.7M407.0 269.7h.7M414.0 266.5h.7M409.5 269.8h.7M391.8 268.9h.7M409.6 269.1h.7M406.3 268.0h.7M405.8 268.4h.7M411.9 269.8h.7M391.9 269.8h.7M419.2 270.8h.7M388.3 270.6h.7M414.6 269.6h.7M399.9 264.4h.7M420.0 266.3h.7M418.2 269.1h.7M406.6 269.2h.7M421.3 265.4h.7M412.1 272.2h.7M389.6 267.2h.7M401.7 272.5h.7M408.6 267.9h.7M415.8 267.6h.7M402.0 271.6h.7M407.0 269.9h.7M412.1 267.6h.7M397.0 265.5h.7M418.5 269.2h.7M389.6 263.2h.7M413.8 271.3h.7M392.5 265.5h.7M419.8 266.1h.7M386.4 267.3h.7M416.4 265.9h.7M409.6 271.4h.7M425.3 269.6h.7M397.3 270.5h.7M396.2 264.0h.7M397.2 268.2h.7M413.3 271.8h.7M414.4 267.1h.7M401.2 267.6h.7M410.3 265.8h.7M417.9 270.5h.7M402.7 272.4h.7M402.3 268.7h.7M390.0 268.0h.7M393.1 267.9h.7M420.5 267.3h.7M410.8 268.9h.7M417.2 266.4h.7M391.7 270.3h.7M398.4 268.6h.7M403.5 267.1h.7M393.0 266.4h.7M393.2 265.9h.7M392.6 267.5h.7M417.7 268.4h.7M415.6 266.2h.7M406.7 271.0h.7M403.0 270.4h.7M424.5 270.0h.7M402.8 269.0h.7M397.7 268.3h.7M418.1 266.2h.7M416.7 270.3h.7M390.5 268.9h.7M423.8 268.5h.7M406.9 269.5h.7M399.7 269.4h.7M415.6 269.1h.7M416.9 266.9h.7M418.3 267.6h.7M405.9 266.4h.7M389.2 267.1h.7M413.0 271.1h.7M391.4 267.6h.7M414.2 266.1h.7M394.9 268.8h.7M420.3 267.0h.7M422.3 272.0h.7M415.6 267.7h.7M403.1 268.9h.7M393.0 267.3h.7M392.1 268.2h.7M387.3 267.0h.7M416.2 267.1h.7M403.6 268.6h.7M391.7 269.9h.7M400.0 270.1h.7M419.1 272.9h.7M400.8 267.3h.7M414.9 267.3h.7M417.7 270.4h.7M408.3 266.6h.7M400.2 267.9h.7M413.0 266.4h.7M412.1 267.9h.7M416.8 268.3h.7M402.0 268.6h.7M399.0 271.9h.7M414.4 266.8h.7M412.8 269.4h.7M399.2 268.5h.7M414.3 270.2h.7M387.7 267.1h.7M400.4 267.7h.7M407.9 267.8h.7M390.5 267.5h.7M401.3 269.5h.7M397.7 270.1h.7M414.5 266.6h.7M398.0 264.7h.7M391.7 266.7h.7M412.1 265.2h.7M389.7 269.0h.7M398.2 268.0h.7M395.9 269.4h.7M412.9 267.7h.7M416.6 268.6h.7M413.1 267.9h.7M394.2 268.5h.7M403.2 269.1h.7M390.8 266.5h.7M387.6 269.6h.7M391.3 268.1h.7M403.4 270.0h.7M392.1 267.8h.7M401.2 268.5h.7M399.5 269.7h.7M389.7 267.2h.7M395.4 264.8h.7M415.4 269.6h.7M388.2 269.1h.7M400.5 266.5h.7M387.1 268.0h.7M401.6 267.5h.7M395.6 267.0h.7M400.6 270.2h.7M421.1 269.9h.7M403.5 268.3h.7M418.9 267.8h.7M406.4 267.3h.7M420.7 270.5h.7M398.6 267.6h.7M421.3 269.3h.7M390.9 269.6h.7M410.5 266.1h.7M414.9 265.9h.7M415.2 273.3h.7M417.8 264.9h.7M420.4 271.3h.7M402.2 271.9h.7M417.5 269.4h.7M403.4 270.1h.7M395.1 268.5h.7M399.1 269.8h.7M397.3 269.3h.7M393.1 268.3h.7M405.0 267.4h.7M417.0 266.7h.7M391.1 268.1h.7M410.1 271.5h.7M396.1 268.9h.7M416.8 270.7h.7M418.3 268.7h.7M408.8 269.3h.7M399.0 266.3h.7M394.1 265.3h.7M387.8 270.0h.7M390.5 267.4h.7M391.2 268.0h.7M408.6 267.3h.7M424.5 267.8h.7M402.6 266.6h.7M412.5 264.6h.7M402.4 270.7h.7M413.3 267.3h.7M416.2 270.0h.7M394.8 269.2h.7M413.9 271.0h.7M400.4 267.9h.7M413.1 271.3h.7M410.7 266.9h.7M405.0 270.9h.7M411.1 269.4h.7M405.2 269.8h.7M390.9 267.4h.7M414.8 270.2h.7M391.5 268.1h.7M404.4 268.6h.7M395.9 267.6h.7M394.5 271.6h.7M396.0 267.0h.7M417.2 268.6h.7M417.5 268.6h.7M414.0 273.5h.7M411.8 267.0h.7M389.0 270.2h.7M379.9 267.4h.7M396.9 268.8h.7M416.8 264.8h.7M396.9 269.6h.7M423.2 265.8h.7M398.4 267.7h.7M401.7 265.6h.7M407.6 267.3h.7M397.8 269.5h.7M386.1 266.3h.7M402.6 270.3h.7M387.1 270.3h.7M405.1 269.5h.7M398.7 266.9h.7M415.1 267.3h.7M414.3 262.9h.7M414.1 266.7h.7M421.5 267.4h.7M407.4 270.2h.7M414.1 268.5h.7M413.0 266.9h.7M408.4 271.7h.7M409.4 267.5h.7M419.1 269.5h.7M409.9 268.9h.7M414.9 266.7h.7M391.1 270.1h.7M401.5 267.4h.7M422.9 270.7h.7M393.8 267.0h.7M409.2 267.2h.7M385.7 272.2h.7M402.2 267.5h.7M423.7 268.8h.7M413.1 268.5h.7M386.2 271.2h.7M401.2 268.2h.7M418.5 269.4h.7M396.9 267.0h.7M399.7 269.5h.7M419.2 269.7h.7M417.0 268.4h.7M390.5 268.9h.7M406.5 268.0h.7M408.9 267.1h.7M390.9 269.6h.7M414.8 271.3h.7M416.6 270.4h.7M399.8 267.3h.7M391.8 269.3h.7M409.6 267.6h.7M385.3 267.2h.7M386.7 267.3h.7M401.7 265.1h.7M389.1 269.3h.7M420.2 267.2h.7M384.6 269.9h.7M419.5 268.6h.7M403.8 270.8h.7M392.2 269.6h.7M390.5 266.9h.7M400.9 266.1h.7M400.4 264.3h.7M399.0 268.7h.7M407.8 270.3h.7M408.8 269.2h.7M406.4 266.0h.7M409.6 267.6h.7M408.9 271.0h.7M421.3 270.7h.7M417.4 267.3h.7M404.0 268.7h.7M416.1 264.0h.7M401.5 266.3h.7M411.5 271.1h.7M392.9 268.8h.7M384.2 267.9h.7M394.1 269.3h.7M408.4 268.7h.7M408.7 268.5h.7M406.2 268.8h.7M400.8 269.4h.7M412.1 267.3h.7M396.4 268.2h.7M392.9 269.8h.7M412.2 270.1h.7M398.5 269.9h.7M426.1 269.2h.7M406.9 270.2h.7M417.6 269.1h.7M403.3 264.4h.7M413.3 265.4h.7M399.0 269.5h.7M415.2 267.5h.7M393.7 268.6h.7M420.8 266.0h.7M401.0 271.9h.7M395.6 269.1h.7M390.0 270.8h.7M422.4 270.6h.7M396.3 266.7h.7M420.5 268.9h.7M411.6 269.2h.7M409.5 266.9h.7M393.8 267.6h.7M420.0 268.4h.7M386.6 270.3h.7M409.3 268.6h.7M393.8 271.6h.7M421.4 267.7h.7M399.7 265.6h.7M415.6 266.1h.7M423.6 269.0h.7M385.7 268.9h.7M405.5 267.7h.7M417.8 264.8h.7M422.9 265.5h.7M398.5 268.0h.7M411.5 265.6h.7M413.1 268.4h.7M410.2 268.0h.7M399.8 269.8h.7M423.0 266.6h.7M406.6 267.7h.7M405.6 267.6h.7M410.9 268.2h.7M401.5 268.8h.7M389.9 265.9h.7M402.1 269.1h.7M395.8 267.9h.7M414.2 268.4h.7M407.9 268.3h.7M387.5 272.5h.7M402.2 269.3h.7M372.8 268.3h.7M395.9 268.5h.7M401.9 272.1h.7M408.1 268.9h.7M393.9 268.6h.7M387.7 268.4h.7M396.6 268.2h.7M409.0 267.5h.7M398.5 266.6h.7M403.2 266.0h.7M411.1 267.9h.7M404.5 263.0h.7M397.3 264.5h.7M423.0 266.9h.7M392.4 267.8h.7M401.9 268.2h.7M418.5 266.8h.7M388.8 270.3h.7M411.5 268.8h.7M408.2 268.9h.7M405.0 268.5h.7M412.7 268.2h.7M410.4 269.3h.7M401.6 271.1h.7M415.2 269.7h.7M397.0 270.5h.7M388.8 266.5h.7M400.7 272.3h.7M405.9 268.9h.7M386.7 270.9h.7M418.6 267.1h.7M398.8 270.5h.7M426.7 269.8h.7M411.2 264.7h.7M391.0 269.0h.7M394.5 269.7h.7M400.2 264.1h.7M397.9 272.9h.7M423.8 266.9h.7M404.3 269.9h.7M420.9 267.3h.7M396.4 267.9h.7M398.0 271.4h.7M423.9 270.7h.7M404.9 267.6h.7M392.8 268.4h.7M399.2 270.0h.7M419.6 266.1h.7M421.4 269.0h.7M417.6 270.3h.7M394.3 268.1h.7M394.9 268.2h.7M411.2 266.3h.7M398.4 268.1h.7M402.2 265.2h.7M417.4 270.0h.7M387.0 263.9h.7M402.9 268.2h.7M399.3 268.1h.7M400.0 266.7h.7M416.7 267.4h.7M392.6 271.1h.7M408.8 264.4h.7M412.3 264.8h.7M408.2 268.0h.7M416.3 269.8h.7M422.7 266.5h.7M412.7 268.2h.7M421.8 267.2h.7M387.2 269.3h.7M402.0 270.3h.7M420.1 269.0h.7M414.1 267.0h.7M395.1 266.3h.7M408.0 266.6h.7M420.4 268.1h.7M398.6 269.0h.7M419.5 269.3h.7M396.0 268.5h.7M416.4 266.9h.7M412.1 267.7h.7M389.5 266.9h.7M402.9 266.9h.7M422.9 269.5h.7M403.2 268.5h.7M403.7 269.3h.7M389.6 269.4h.7M398.8 270.5h.7M415.6 267.8h.7M393.7 268.8h.7M431.1 267.7h.7M399.6 267.5h.7M399.6 266.9h.7M404.2 267.5h.7M403.6 268.0h.7M391.9 267.7h.7M404.7 266.2h.7M401.7 268.4h.7M407.4 268.5h.7M400.2 267.6h.7M416.0 269.4h.7M396.2 267.4h.7M413.7 268.5h.7M423.6 269.5h.7M389.7 267.5h.7M389.7 269.6h.7M421.5 269.8h.7M402.8 266.7h.7M401.5 266.6h.7M403.4 268.5h.7M414.9 269.5h.7M407.1 267.0h.7M431.4 267.1h.7M417.8 269.5h.7M386.7 266.0h.7M412.4 271.3h.7M417.7 267.3h.7M398.7 271.5h.7M388.9 268.3h.7M390.9 265.9h.7M406.7 266.1h.7M386.2 269.7h.7M396.6 267.8h.7" fill="none" stroke="#222" stroke-width="0.75" opacity="1.0" filter="url(#bl)"/>
<path d="M406.4 266.5h.7M404.5 266.7h.7M404.8 268.9h.7M393.8 269.5h.7M399.3 268.9h.7M392.6 267.3h.7M388.5 270.1h.7M386.0 268.8h.7M390.3 270.3h.7M392.1 268.9h.7M408.4 265.3h.7M398.6 267.8h.7M405.8 268.3h.7M399.7 266.9h.7M402.5 267.7h.7M404.8 268.9h.7M395.1 267.9h.7M386.8 269.4h.7M396.0 272.2h.7M385.6 268.2h.7M404.2 267.9h.7M395.4 267.5h.7M386.9 270.0h.7M403.0 270.4h.7M402.9 267.6h.7M399.0 269.7h.7M391.0 268.9h.7M395.1 268.4h.7M407.1 269.6h.7M395.9 268.2h.7M393.4 268.5h.7M407.0 267.7h.7M408.9 266.8h.7M392.7 267.2h.7M401.8 267.7h.7M389.3 268.1h.7M395.8 267.1h.7M394.5 264.4h.7M388.2 267.7h.7M397.1 268.5h.7M397.5 268.5h.7M397.5 269.1h.7M408.2 270.3h.7M387.7 266.8h.7M392.3 270.6h.7M397.8 270.8h.7M390.2 268.4h.7M408.5 266.3h.7M396.7 266.1h.7M406.3 265.4h.7M391.9 269.0h.7M405.5 268.0h.7M403.6 268.3h.7M391.5 270.3h.7M404.3 270.6h.7M376.6 270.8h.7M386.0 268.9h.7M392.3 269.1h.7M387.5 267.4h.7M388.3 268.7h.7M394.0 269.5h.7M401.7 265.2h.7M397.4 267.8h.7M395.3 267.3h.7M396.6 269.0h.7M401.5 267.8h.7M396.3 266.8h.7M409.0 268.0h.7M393.7 266.0h.7M402.9 268.5h.7M387.3 270.0h.7M400.2 267.3h.7M400.7 270.8h.7M394.2 268.1h.7M399.4 270.8h.7M403.8 269.4h.7M388.6 270.4h.7M392.3 267.0h.7M389.1 270.3h.7M406.9 266.8h.7M400.9 268.2h.7M387.3 267.7h.7M383.9 265.4h.7M402.5 268.6h.7M403.1 269.3h.7M406.4 268.9h.7M389.2 269.9h.7M386.5 268.0h.7M391.1 268.6h.7M405.8 270.7h.7M405.7 265.8h.7M399.0 267.8h.7M388.0 270.5h.7M396.2 266.7h.7M392.6 264.5h.7M391.6 266.3h.7M401.1 267.6h.7M406.4 270.5h.7M402.1 266.9h.7M390.4 266.8h.7M408.5 269.6h.7M391.5 268.7h.7M390.2 268.8h.7M403.7 267.2h.7M394.7 267.8h.7M408.0 267.2h.7M407.0 267.5h.7M407.0 270.8h.7M401.9 270.1h.7M390.8 268.0h.7M395.5 269.5h.7M392.2 270.6h.7M392.4 268.1h.7M387.2 270.0h.7M383.2 269.4h.7M408.4 268.9h.7M392.5 271.1h.7M403.9 268.9h.7M386.7 269.3h.7M390.8 265.8h.7M408.6 268.0h.7M390.2 266.4h.7M391.6 268.4h.7M396.3 267.5h.7M404.0 267.9h.7M404.0 269.3h.7M394.4 268.1h.7M393.6 267.1h.7M391.9 270.2h.7M392.5 267.8h.7M384.2 268.9h.7M401.5 271.0h.7M396.8 268.3h.7M394.1 268.1h.7M390.9 271.1h.7M393.7 266.9h.7M389.8 265.9h.7M401.6 266.9h.7M405.3 265.9h.7M397.8 269.0h.7M388.6 267.8h.7M405.1 270.3h.7M406.6 269.1h.7M406.5 268.5h.7M402.3 269.4h.7M384.0 271.4h.7M394.6 268.8h.7M402.1 267.9h.7M388.6 269.1h.7M399.0 270.2h.7M392.1 267.0h.7M388.7 268.3h.7M384.8 267.6h.7M399.1 270.8h.7M408.9 267.1h.7M397.1 269.5h.7M398.7 266.4h.7M406.5 269.0h.7M400.8 270.3h.7M404.4 268.0h.7M403.3 267.2h.7M395.3 272.1h.7M397.1 264.2h.7M405.0 268.8h.7M393.0 270.0h.7M403.8 267.3h.7M388.6 267.3h.7M403.8 267.5h.7M397.5 267.7h.7M404.0 267.6h.7M387.3 267.6h.7M386.4 266.3h.7M402.0 269.8h.7M407.4 268.3h.7M401.2 270.3h.7M395.2 269.3h.7M394.7 268.2h.7M398.3 269.2h.7M399.1 268.4h.7M397.9 269.1h.7M396.3 268.7h.7M402.7 269.0h.7M401.8 267.2h.7M407.0 268.2h.7M396.5 265.1h.7M395.3 271.4h.7M388.9 268.1h.7M393.0 269.5h.7M400.8 268.9h.7M405.7 267.6h.7M404.2 268.1h.7M400.6 271.7h.7M398.0 270.8h.7M408.3 267.6h.7M392.9 270.0h.7M396.0 265.4h.7M399.7 269.2h.7M393.0 267.0h.7M386.8 269.5h.7M382.0 268.7h.7M401.0 269.5h.7M391.0 265.6h.7M391.1 268.4h.7M388.6 266.3h.7M402.3 267.6h.7M387.7 267.6h.7M393.9 269.8h.7M393.5 268.4h.7M391.7 269.5h.7M404.8 267.1h.7M408.5 270.7h.7M394.4 270.0h.7M401.2 270.6h.7M389.8 269.4h.7M408.9 267.8h.7M393.6 264.7h.7M400.6 269.2h.7M391.2 268.5h.7M391.5 270.7h.7M400.5 268.5h.7M386.1 270.0h.7M406.4 268.9h.7M393.0 267.0h.7M400.3 269.0h.7M401.3 267.5h.7M397.7 267.6h.7M397.4 268.6h.7M389.8 267.8h.7M391.1 269.7h.7M396.9 271.4h.7M399.8 271.6h.7M391.4 270.0h.7M395.8 267.6h.7M405.8 268.0h.7M392.6 270.1h.7M406.3 267.4h.7M391.5 268.2h.7M392.3 269.3h.7M407.6 265.3h.7M404.5 268.6h.7M380.8 268.0h.7M400.1 268.9h.7M407.1 270.1h.7M404.3 266.0h.7M401.9 269.2h.7M398.0 271.8h.7M394.5 265.1h.7M398.7 268.4h.7M391.9 270.1h.7M400.6 268.9h.7M399.6 267.9h.7M399.5 268.8h.7M395.9 267.6h.7M404.7 269.3h.7M402.4 268.5h.7M401.4 269.6h.7M397.3 269.0h.7M390.4 267.6h.7M381.8 267.7h.7M392.4 268.9h.7M395.0 271.7h.7M400.5 267.7h.7M402.9 266.0h.7M382.7 271.0h.7M390.3 268.9h.7M401.0 267.7h.7M407.0 270.7h.7M395.1 270.0h.7M407.3 266.6h.7M408.0 267.8h.7M388.7 267.3h.7M407.8 267.0h.7M408.6 271.7h.7M394.1 268.5h.7M387.5 268.4h.7M391.5 265.3h.7M397.2 269.3h.7M380.6 269.4h.7M408.3 269.7h.7M402.0 269.3h.7M387.9 268.7h.7M402.4 270.7h.7M401.0 272.2h.7M407.1 269.2h.7M389.9 270.5h.7M388.6 268.5h.7M395.8 268.8h.7M388.2 272.0h.7M400.9 267.5h.7M401.7 267.6h.7M388.1 267.7h.7M401.1 269.2h.7M392.6 268.3h.7M397.7 270.0h.7M398.7 265.0h.7M396.8 266.2h.7M402.1 269.7h.7M390.1 268.0h.7M399.9 270.0h.7M407.6 269.4h.7M395.6 269.3h.7M407.6 266.9h.7M394.8 267.5h.7M386.1 267.8h.7M401.8 265.5h.7M398.7 273.9h.7M399.5 266.5h.7M392.8 267.9h.7M395.9 269.3h.7M393.8 269.1h.7M396.4 266.6h.7M399.4 266.5h.7M397.5 267.6h.7M388.4 269.6h.7M391.1 268.2h.7M397.4 268.0h.7M406.6 269.5h.7M391.2 266.3h.7M403.4 268.8h.7M406.9 268.1h.7M398.5 269.2h.7M404.8 269.4h.7M396.1 270.0h.7M405.7 267.5h.7M388.0 267.0h.7M399.2 266.8h.7M414.0 266.2h.7M380.7 270.0h.7M399.1 267.7h.7M400.2 269.4h.7M406.5 267.5h.7M393.6 267.3h.7M408.9 265.2h.7M388.7 271.0h.7M394.0 268.5h.7M391.6 266.8h.7M388.9 266.3h.7M393.0 268.1h.7M390.6 268.7h.7M395.0 269.0h.7M398.0 269.1h.7M402.3 269.4h.7M394.7 268.4h.7M404.0 272.5h.7M407.0 269.3h.7M392.5 269.0h.7M406.4 271.0h.7M395.2 269.2h.7M395.7 271.1h.7M395.4 268.1h.7M394.7 268.2h.7M396.5 267.2h.7M390.9 267.7h.7M397.7 269.1h.7M396.3 269.9h.7M390.3 267.3h.7M393.4 268.0h.7M407.6 268.1h.7M397.9 268.6h.7M388.7 267.2h.7M402.9 267.3h.7M387.8 268.0h.7M391.1 270.4h.7M395.1 268.6h.7M407.5 268.4h.7M408.7 265.4h.7M402.2 268.1h.7M395.6 270.8h.7M388.7 267.6h.7M385.6 267.8h.7M406.4 267.7h.7M400.5 265.8h.7M393.9 267.3h.7M399.8 268.7h.7M398.5 266.0h.7M399.9 268.0h.7M400.7 269.4h.7M406.6 268.1h.7M390.4 266.1h.7M418.1 268.0h.7M397.4 269.0h.7M393.3 265.5h.7M401.6 269.3h.7M397.7 268.7h.7M407.9 270.9h.7M388.1 264.2h.7M386.5 268.7h.7M406.5 266.8h.7M397.4 268.6h.7M398.5 268.8h.7M390.3 269.5h.7M400.4 267.5h.7M396.9 271.6h.7M408.2 266.8h.7M408.4 267.9h.7M402.7 269.2h.7M407.6 267.0h.7M386.2 270.9h.7M406.7 267.2h.7M408.9 267.7h.7M397.0 267.7h.7M398.8 266.8h.7M399.2 268.6h.7M387.2 268.9h.7M408.9 268.8h.7M405.5 267.3h.7M394.8 270.2h.7M391.1 267.9h.7M408.6 265.5h.7M394.1 266.5h.7M407.1 267.2h.7M408.1 267.9h.7M393.5 268.4h.7M386.3 269.2h.7M406.3 269.1h.7M388.6 267.8h.7M392.8 268.3h.7M395.8 270.3h.7M401.5 264.9h.7M406.5 266.8h.7M398.0 265.9h.7M394.6 269.0h.7M402.9 267.0h.7M394.1 267.4h.7M396.3 267.3h.7M400.4 269.2h.7M390.5 266.1h.7M401.3 267.9h.7M386.2 266.1h.7M407.3 268.0h.7M401.0 268.5h.7M406.4 267.5h.7M396.4 263.2h.7M391.2 267.4h.7M391.2 267.7h.7M398.2 267.5h.7M401.4 270.9h.7M395.8 271.6h.7M388.2 267.8h.7M398.7 266.7h.7M386.2 268.9h.7M391.5 268.8h.7M393.7 271.6h.7M402.4 267.0h.7M394.4 269.4h.7M393.3 269.1h.7M386.2 267.4h.7M397.3 268.3h.7M406.2 267.3h.7M398.6 269.1h.7M393.2 267.2h.7M402.6 271.1h.7M405.1 269.4h.7M408.5 270.7h.7M402.4 268.7h.7M393.8 269.6h.7M388.7 270.0h.7M386.8 266.6h.7M390.6 270.7h.7M386.3 264.7h.7M394.9 267.9h.7M405.3 268.1h.7M397.8 269.2h.7M386.9 269.4h.7M402.4 267.0h.7M407.0 268.0h.7M402.7 267.4h.7M396.8 267.2h.7M395.7 271.2h.7M402.9 264.4h.7M398.9 270.2h.7M403.6 270.7h.7M391.1 266.9h.7M406.0 268.5h.7M398.4 268.0h.7M396.2 266.4h.7M404.3 269.2h.7M403.7 268.2h.7M384.9 266.7h.7M390.0 269.3h.7M398.7 268.2h.7M395.6 272.1h.7M405.3 266.4h.7M387.4 268.3h.7M399.4 270.5h.7M387.1 269.2h.7M390.6 267.6h.7M396.6 267.5h.7M390.1 270.6h.7M408.3 269.3h.7M395.2 269.9h.7M406.8 267.7h.7M400.1 268.7h.7M395.6 265.8h.7M407.6 267.8h.7M389.5 267.4h.7M396.6 268.7h.7M386.4 265.1h.7M393.6 268.8h.7M401.8 267.7h.7M400.0 267.5h.7M399.6 268.1h.7M401.2 265.3h.7M391.2 266.2h.7M399.1 268.3h.7M402.6 273.8h.7M391.0 263.8h.7M406.3 266.5h.7M403.0 266.1h.7M401.6 269.0h.7M403.6 267.8h.7M391.0 268.5h.7M392.0 270.0h.7M405.2 267.4h.7M393.2 270.2h.7M404.9 265.9h.7M398.7 270.9h.7M404.6 269.8h.7M391.2 267.6h.7M392.9 268.6h.7" fill="none" stroke="#222" stroke-width="0.75" opacity="1.0" filter="url(#bl)"/>
<path d="M421.1 266.9h.7M414.2 269.9h.7M422.5 266.6h.7M417.2 268.8h.7M421.6 267.1h.7M414.2 266.3h.7M417.3 266.9h.7M416.1 266.5h.7M424.5 265.9h.7M423.5 268.2h.7M419.3 266.2h.7M423.4 267.3h.7M419.4 268.7h.7M422.1 267.8h.7M418.1 265.4h.7M420.7 267.6h.7M415.6 269.6h.7M414.5 267.0h.7M418.0 267.4h.7M415.4 269.2h.7M419.2 268.3h.7M415.6 266.4h.7M419.6 266.5h.7M417.6 266.3h.7M419.8 269.9h.7M422.5 269.9h.7M422.2 267.3h.7M417.0 267.7h.7M416.7 268.0h.7M418.8 269.1h.7M413.7 269.3h.7M422.0 268.2h.7M422.7 270.5h.7M422.1 269.5h.7M418.6 267.8h.7M419.6 271.2h.7M421.5 267.3h.7M418.3 268.3h.7M417.1 272.4h.7M417.2 267.5h.7M414.7 269.0h.7M420.8 268.9h.7M414.7 268.6h.7M419.8 267.9h.7M412.2 269.9h.7M419.9 268.6h.7M417.7 267.8h.7M416.0 267.6h.7M416.7 265.1h.7M409.2 267.1h.7M419.8 266.2h.7M415.2 267.7h.7M423.2 268.4h.7M420.0 269.9h.7M414.6 267.5h.7M419.5 269.0h.7M419.6 267.8h.7M421.7 267.8h.7M423.6 268.5h.7M420.0 269.9h.7M419.9 268.2h.7M417.2 266.4h.7M418.6 267.3h.7M416.3 267.5h.7M419.0 265.7h.7M414.6 268.8h.7M420.2 269.8h.7M415.6 267.9h.7M414.7 269.6h.7M421.8 270.0h.7M420.4 266.9h.7M422.4 269.0h.7M420.7 269.3h.7M420.8 270.3h.7M420.5 267.9h.7M418.1 268.1h.7M419.8 265.2h.7M418.7 265.2h.7M422.2 268.7h.7M417.0 270.7h.7M422.0 269.9h.7M417.2 268.0h.7M422.6 268.5h.7M418.9 269.9h.7M418.4 270.8h.7M419.3 266.9h.7M422.4 270.1h.7M422.7 269.8h.7M418.3 268.7h.7M420.8 269.4h.7M415.1 267.9h.7M415.6 268.3h.7M416.0 269.9h.7M421.5 268.8h.7M419.6 267.4h.7M419.5 267.4h.7M420.7 269.1h.7M420.8 269.5h.7M419.7 268.0h.7M413.3 268.1h.7M416.0 270.1h.7M419.4 268.1h.7M422.5 270.3h.7M418.0 266.8h.7M418.0 268.3h.7M417.0 269.3h.7M415.7 268.1h.7M419.6 267.4h.7M419.4 267.8h.7M418.9 267.7h.7M424.3 269.6h.7M420.6 267.7h.7M418.9 267.8h.7M418.3 271.5h.7M416.8 267.6h.7M422.9 267.5h.7M421.8 268.8h.7M417.8 265.3h.7M414.1 264.0h.7M421.9 269.9h.7M421.1 268.1h.7M416.2 268.2h.7M421.0 266.4h.7M415.2 268.2h.7M421.5 270.4h.7M420.9 267.9h.7M418.1 269.2h.7M415.1 270.9h.7M417.5 268.4h.7M417.9 266.8h.7M422.2 266.1h.7M420.8 269.2h.7M415.9 267.8h.7M415.6 268.1h.7M414.9 267.2h.7M421.5 269.1h.7M414.7 270.5h.7M418.8 268.6h.7M421.7 268.2h.7M422.1 270.2h.7M414.4 267.5h.7M414.1 267.3h.7M415.3 267.3h.7M423.5 271.0h.7M422.5 267.8h.7M419.2 268.9h.7M420.1 267.4h.7M416.4 271.3h.7M418.4 266.3h.7M414.3 268.5h.7M423.6 267.6h.7M423.8 268.8h.7M423.0 268.7h.7M417.1 269.7h.7M415.2 266.8h.7M421.2 270.0h.7M418.0 267.9h.7M418.3 269.6h.7M415.1 269.4h.7M419.8 266.9h.7M421.3 270.9h.7M415.7 268.7h.7M418.2 267.8h.7M420.9 266.3h.7M422.0 267.3h.7M417.0 266.1h.7M417.7 267.2h.7M423.0 267.6h.7M423.8 268.2h.7M423.9 266.8h.7M420.7 267.3h.7M417.7 268.2h.7M420.4 270.5h.7M418.7 270.0h.7M422.3 268.5h.7M417.5 268.2h.7M419.2 269.0h.7M416.9 267.5h.7M421.0 267.8h.7M414.1 269.7h.7M417.8 268.8h.7M415.5 270.1h.7M416.3 268.1h.7M415.1 269.8h.7M420.2 267.8h.7M420.9 270.0h.7M417.8 267.1h.7M416.1 267.0h.7M420.8 267.1h.7M419.1 269.5h.7M416.0 269.6h.7M422.0 267.9h.7M422.2 267.3h.7M419.9 266.5h.7M421.1 268.0h.7M419.8 269.0h.7M423.7 269.2h.7M415.8 267.3h.7M423.9 270.9h.7M423.8 269.6h.7" fill="none" stroke="#222" stroke-width="0.75" opacity="1.0" filter="url(#bl)"/>
<path d="M426.0 265.1h.6M412.4 270.0h.6M419.5 270.5h.6M420.5 264.4h.6M419.4 268.6h.6M426.4 264.2h.6M412.0 272.8h.6M417.9 270.2h.6M392.1 261.5h.6M399.4 269.4h.6M387.4 269.6h.6M391.0 262.1h.6M397.7 267.8h.6M416.2 274.1h.6M395.6 260.4h.6M422.0 268.4h.6M424.6 270.4h.6M391.5 264.8h.6M395.2 266.2h.6M398.0 272.8h.6M423.6 262.0h.6M428.0 274.4h.6M402.2 273.0h.6M425.7 270.8h.6M401.2 269.1h.6M418.2 264.4h.6M406.0 260.4h.6M392.6 271.7h.6M399.0 270.2h.6M404.0 270.4h.6M398.0 260.4h.6M414.0 263.1h.6M394.6 266.4h.6M406.8 273.2h.6M415.3 266.0h.6M404.5 268.6h.6M391.4 263.8h.6M411.4 274.0h.6M411.2 262.4h.6M426.6 271.7h.6M395.4 264.9h.6M387.4 271.2h.6M395.2 272.2h.6M416.1 271.4h.6M409.7 262.9h.6" fill="none" stroke="#444" stroke-width="0.6" opacity="0.8"/>
<path d="M483.1 267.4h.7M460.6 268.5h.7M485.9 270.0h.7M485.9 268.6h.7M463.5 266.8h.7M483.7 270.2h.7M487.9 267.2h.7M486.5 267.3h.7M479.4 267.9h.7M472.7 265.4h.7M488.6 268.1h.7M475.0 268.9h.7M480.6 270.0h.7M486.2 264.3h.7M462.1 270.0h.7M487.4 269.5h.7M475.3 266.9h.7M480.9 263.3h.7M482.6 266.7h.7M485.8 268.0h.7M484.8 267.1h.7M496.1 267.5h.7M467.0 271.2h.7M477.2 268.0h.7M485.6 267.4h.7M482.2 265.8h.7M490.4 266.8h.7M470.9 265.2h.7M488.7 271.0h.7M469.5 266.6h.7M470.7 267.8h.7M494.7 268.4h.7M459.5 266.0h.7M462.3 267.7h.7M478.7 269.0h.7M483.9 266.3h.7M478.6 267.7h.7M482.8 268.1h.7M463.0 264.8h.7M451.8 268.8h.7M488.7 268.1h.7M464.3 267.1h.7M464.5 267.7h.7M490.2 266.2h.7M482.6 267.1h.7M471.2 266.3h.7M491.1 267.4h.7M463.8 269.9h.7M466.5 267.7h.7M481.6 268.5h.7M482.1 266.7h.7M485.4 270.2h.7M479.2 266.7h.7M458.5 266.2h.7M466.8 268.3h.7M488.9 269.2h.7M488.5 272.8h.7M473.9 266.9h.7M479.9 266.6h.7M471.0 268.4h.7M470.4 269.5h.7M482.7 266.0h.7M475.9 268.0h.7M483.1 267.8h.7M483.5 267.1h.7M473.1 269.2h.7M491.9 267.7h.7M460.5 270.4h.7M476.9 264.4h.7M480.8 266.3h.7M483.0 268.3h.7M472.3 267.6h.7M461.7 266.7h.7M489.5 267.8h.7M483.4 268.1h.7M492.3 268.6h.7M480.3 266.9h.7M484.4 265.3h.7M482.8 268.5h.7M489.5 264.9h.7M484.7 268.3h.7M475.3 266.9h.7M471.5 269.0h.7M487.4 267.9h.7M472.9 268.8h.7M493.4 265.2h.7M481.4 268.2h.7M487.3 268.6h.7M471.2 265.7h.7M460.5 268.0h.7M482.7 268.5h.7M459.0 269.9h.7M473.6 266.2h.7M490.9 270.0h.7M487.5 269.0h.7M487.2 270.3h.7M489.3 267.2h.7M477.3 264.4h.7M494.5 265.6h.7M470.5 272.5h.7M461.5 269.6h.7M472.7 265.8h.7M488.6 271.4h.7M477.1 269.2h.7M484.0 268.0h.7M449.9 268.2h.7M488.6 268.9h.7M501.7 267.2h.7M486.0 269.4h.7M485.5 269.3h.7M473.3 268.6h.7M478.7 268.0h.7M465.8 265.1h.7M488.9 265.7h.7M472.2 269.6h.7M462.4 269.0h.7M486.3 267.1h.7M482.7 265.5h.7M470.6 267.2h.7M486.9 267.6h.7M464.8 270.9h.7M479.1 267.4h.7M467.8 270.3h.7M487.8 268.1h.7M484.8 271.9h.7M463.8 266.4h.7M480.9 268.2h.7M471.2 267.0h.7M484.8 270.9h.7M477.4 267.2h.7M450.0 267.4h.7M463.9 270.9h.7M483.4 265.8h.7M484.4 264.8h.7M482.9 266.2h.7M462.5 266.9h.7M484.9 266.6h.7M491.0 268.9h.7M485.3 268.2h.7M485.4 269.1h.7M480.9 269.1h.7M458.4 268.6h.7M485.3 269.8h.7M492.7 267.7h.7M485.6 267.7h.7M483.9 265.7h.7M471.9 269.3h.7M490.4 266.5h.7M488.4 267.4h.7M486.8 271.2h.7M470.2 264.3h.7M484.1 267.7h.7M485.7 265.5h.7M477.4 267.9h.7M472.5 268.9h.7M492.1 267.4h.7M490.8 266.2h.7M486.7 270.0h.7M480.9 267.8h.7M490.7 267.1h.7M479.7 266.4h.7M481.2 264.3h.7M474.5 265.0h.7M456.9 268.6h.7M470.5 268.2h.7M488.6 269.0h.7M456.1 269.1h.7M494.1 268.9h.7M476.5 267.7h.7M478.5 268.2h.7M473.4 267.3h.7M487.9 267.1h.7M494.0 269.0h.7M474.3 268.0h.7M488.6 265.3h.7M494.2 267.0h.7M483.9 262.9h.7M479.9 267.8h.7M475.8 267.7h.7M478.7 266.4h.7M480.5 267.6h.7M459.6 269.7h.7M486.0 267.8h.7M467.0 267.3h.7M488.6 269.7h.7M486.1 265.7h.7M480.7 266.9h.7M487.1 268.3h.7M486.7 269.2h.7M478.3 266.3h.7M479.5 268.2h.7M481.5 271.5h.7M471.3 267.9h.7M492.2 266.9h.7M487.5 269.5h.7M482.2 269.4h.7M471.8 267.9h.7M492.5 266.1h.7M487.2 267.6h.7M479.1 265.4h.7" fill="none" stroke="#222" stroke-width="0.75" opacity="0.75" filter="url(#bl)"/>
<path d="M459.8 265.2h.6M473.5 264.3h.6M458.6 263.0h.6M473.7 261.2h.6M488.1 266.4h.6M466.0 264.3h.6M467.6 268.8h.6M484.7 266.6h.6M484.7 268.4h.6M488.9 270.5h.6M486.9 261.3h.6M469.1 262.5h.6M489.7 263.1h.6M493.7 265.5h.6M460.6 270.1h.6M462.0 265.7h.6M472.9 269.2h.6M476.3 269.6h.6M488.1 273.6h.6M480.7 266.5h.6M475.3 265.5h.6M489.9 268.1h.6M484.0 271.6h.6M483.9 272.5h.6M473.5 270.1h.6" fill="none" stroke="#444" stroke-width="0.6" opacity="0.6"/>
<path d="M267.4 340.5h.7M250.7 338.4h.7M259.7 338.6h.7M249.8 338.9h.7M247.2 339.3h.7M260.6 337.0h.7M254.5 336.6h.7M249.1 339.9h.7M264.4 338.9h.7M247.6 337.0h.7M255.8 341.9h.7M249.2 340.9h.7M263.5 340.0h.7M251.6 339.4h.7M256.3 339.0h.7M259.1 341.9h.7M269.8 340.5h.7M255.0 337.6h.7M248.7 337.9h.7M258.7 339.6h.7M254.4 342.0h.7M256.1 337.3h.7M259.5 340.0h.7M261.9 343.1h.7M253.0 340.1h.7M264.6 338.4h.7M250.8 339.4h.7M255.1 341.3h.7M261.7 338.4h.7M251.5 336.6h.7M259.0 340.6h.7M257.8 338.8h.7M247.4 337.8h.7M258.6 339.3h.7M249.6 339.6h.7M261.4 338.7h.7M259.6 341.1h.7M257.2 339.8h.7M262.5 338.3h.7M248.9 338.5h.7M263.7 338.6h.7M265.8 340.1h.7M256.7 339.2h.7M255.4 339.3h.7M250.8 341.7h.7M269.2 339.8h.7M261.9 337.1h.7M257.9 338.3h.7M260.2 339.6h.7M258.8 337.8h.7M250.1 339.9h.7M255.8 343.9h.7M257.2 338.4h.7M252.3 341.6h.7M249.5 339.3h.7M269.3 342.5h.7M249.0 339.3h.7M264.5 342.1h.7M256.4 341.6h.7M259.7 340.9h.7M264.1 340.8h.7M268.5 342.2h.7M261.1 339.2h.7M263.4 338.4h.7M259.9 341.9h.7M252.9 339.1h.7M251.8 342.2h.7M255.3 337.0h.7M266.9 339.0h.7M248.2 343.0h.7M257.8 340.1h.7M268.8 342.2h.7M249.7 341.2h.7M250.0 342.0h.7M261.4 340.1h.7M260.3 338.2h.7M261.6 341.1h.7M251.3 339.2h.7M268.1 340.5h.7M252.2 339.4h.7M249.4 340.3h.7M249.9 343.0h.7M260.2 340.1h.7M263.3 339.4h.7M260.7 337.9h.7M253.0 340.1h.7M245.1 342.2h.7M247.8 340.2h.7M250.1 342.7h.7M252.1 340.2h.7M257.9 340.7h.7M269.3 338.5h.7M247.8 338.1h.7M248.5 341.7h.7M264.9 340.4h.7M262.8 339.8h.7M251.1 341.1h.7M257.8 343.9h.7M252.8 339.8h.7M251.9 338.4h.7M251.6 338.4h.7M255.0 339.2h.7M252.0 342.8h.7M251.9 339.6h.7M268.6 340.6h.7M259.7 337.2h.7M262.4 341.7h.7M255.4 339.4h.7M267.2 337.7h.7M257.2 339.6h.7M256.2 341.8h.7M251.5 340.0h.7M259.6 336.2h.7M265.3 338.8h.7M267.1 339.6h.7M259.3 338.6h.7M249.7 340.2h.7M254.6 339.6h.7M258.1 337.3h.7M253.0 339.4h.7M262.5 335.5h.7M261.2 341.3h.7M255.5 337.6h.7M257.2 338.4h.7M248.5 341.3h.7M260.2 339.7h.7M261.3 344.7h.7M263.8 339.9h.7M254.3 341.4h.7M247.8 337.7h.7M255.6 338.7h.7M256.5 339.0h.7M260.6 340.6h.7M258.7 338.7h.7M247.9 340.2h.7M261.5 338.5h.7M259.9 337.0h.7M257.1 339.6h.7M264.2 338.8h.7M251.0 340.2h.7M257.0 340.8h.7M259.6 339.2h.7M255.2 340.8h.7M268.7 338.2h.7M259.9 340.8h.7M248.4 342.5h.7M253.2 338.5h.7M260.3 338.0h.7M264.9 341.5h.7M258.6 344.9h.7M254.5 345.5h.7M257.1 339.9h.7M261.9 340.3h.7M262.1 341.7h.7M259.9 340.2h.7M261.7 340.0h.7M263.2 337.9h.7M248.0 342.6h.7M263.4 341.5h.7M265.3 337.0h.7M260.5 337.7h.7M260.1 339.0h.7M265.7 340.0h.7M264.9 342.3h.7M254.5 339.4h.7M267.4 338.7h.7M256.6 339.9h.7M251.2 338.6h.7M247.4 340.7h.7M255.4 340.7h.7M261.1 338.3h.7M247.0 338.1h.7M263.2 340.1h.7M258.8 339.7h.7M257.2 337.6h.7M264.5 340.7h.7M260.4 341.3h.7M251.4 340.9h.7M245.6 338.0h.7M266.5 338.2h.7M256.6 341.5h.7M266.6 340.7h.7M268.8 339.8h.7M253.0 338.8h.7M261.4 341.4h.7M266.0 340.8h.7M257.4 342.0h.7M268.4 337.8h.7M245.2 339.7h.7M248.5 338.5h.7M251.3 342.5h.7M264.7 341.8h.7M262.8 341.8h.7M267.9 337.7h.7M266.7 339.7h.7M252.5 341.2h.7M251.3 337.0h.7M269.7 340.5h.7M247.8 343.6h.7M254.6 339.8h.7M266.7 339.5h.7M265.9 336.8h.7M268.2 337.9h.7M273.1 341.4h.7M268.9 338.0h.7M268.2 337.5h.7M256.9 344.1h.7M262.3 337.6h.7M258.2 340.0h.7M251.2 338.9h.7M267.6 341.5h.7M263.8 338.2h.7M259.0 340.6h.7M251.0 335.3h.7M263.3 340.5h.7M256.5 339.8h.7M263.4 338.1h.7M264.0 338.0h.7M269.3 338.1h.7M258.0 338.3h.7M254.1 337.7h.7M259.6 339.7h.7M269.7 341.5h.7M261.0 339.7h.7M257.4 340.3h.7M248.7 345.2h.7M258.0 338.2h.7M254.7 344.1h.7M256.6 337.6h.7M255.4 339.7h.7M258.9 339.7h.7M264.1 340.9h.7M254.6 340.1h.7M263.2 342.1h.7M248.1 339.1h.7M255.2 340.7h.7M252.6 341.5h.7M268.8 337.1h.7M264.6 339.7h.7M253.2 339.0h.7M261.5 341.9h.7M269.4 340.2h.7M267.6 341.7h.7M259.6 343.1h.7M262.1 336.1h.7M265.7 340.4h.7M253.4 338.5h.7M265.9 340.8h.7M259.2 339.1h.7M248.1 342.2h.7M269.0 337.3h.7M255.7 340.4h.7M251.9 338.7h.7M247.4 339.4h.7M255.0 342.4h.7M258.6 337.4h.7M264.9 339.8h.7M261.6 338.5h.7M268.7 337.2h.7M255.4 341.2h.7M247.2 334.7h.7M256.5 340.4h.7M264.3 342.1h.7M260.6 339.5h.7M265.9 338.8h.7M265.1 338.9h.7M252.7 336.5h.7M252.3 341.7h.7M261.1 340.7h.7M258.9 343.1h.7M261.6 342.4h.7M253.3 341.5h.7M258.6 338.7h.7M256.2 342.5h.7M249.8 341.0h.7M249.0 342.4h.7M250.6 335.8h.7M256.6 344.4h.7M257.1 339.2h.7M247.1 337.2h.7M253.2 336.9h.7M257.7 341.2h.7M259.8 340.1h.7M252.3 339.6h.7M254.1 340.8h.7M251.6 337.6h.7M255.1 339.6h.7M252.5 342.0h.7M274.6 343.4h.7M267.6 340.5h.7M254.9 338.7h.7M257.8 338.6h.7M252.6 337.5h.7M247.1 341.2h.7M262.5 337.7h.7M251.7 342.2h.7M260.5 343.1h.7M262.1 339.4h.7M258.6 338.3h.7M258.7 337.4h.7M255.4 339.7h.7M261.5 338.3h.7M261.4 341.2h.7M269.5 339.1h.7M248.3 338.2h.7M252.1 337.6h.7M248.4 336.7h.7M254.8 339.6h.7M257.5 343.4h.7M249.7 339.1h.7M254.8 339.1h.7M265.6 339.6h.7M258.6 335.7h.7M257.1 338.6h.7M252.7 338.7h.7M261.8 336.5h.7M264.0 340.6h.7M254.2 341.7h.7M249.6 340.5h.7M254.7 340.1h.7M252.3 341.2h.7M257.5 337.8h.7M274.6 339.8h.7M269.9 339.7h.7M251.9 342.6h.7M265.1 338.0h.7M251.5 338.8h.7M248.3 339.3h.7M268.1 339.2h.7M267.2 339.1h.7M253.9 339.7h.7M250.9 339.6h.7M266.0 340.7h.7M252.3 337.3h.7M256.6 339.6h.7M259.9 339.0h.7M261.5 340.6h.7M252.3 338.9h.7M261.4 339.8h.7M253.5 338.8h.7M251.5 338.5h.7M262.6 340.0h.7M268.9 340.2h.7M248.6 339.1h.7M265.6 340.2h.7M255.4 337.9h.7M253.1 339.5h.7M253.4 338.8h.7M259.4 339.7h.7M268.2 336.5h.7M264.2 340.8h.7M267.6 337.4h.7M255.8 342.1h.7M255.7 336.1h.7M265.3 339.0h.7M253.7 341.1h.7M266.4 342.6h.7M256.1 339.7h.7M264.3 337.9h.7M258.4 343.4h.7M260.1 336.7h.7M266.5 338.5h.7M267.8 343.5h.7M269.7 344.7h.7M267.2 339.0h.7M257.8 340.2h.7M263.2 339.3h.7M256.9 341.0h.7M258.2 337.7h.7M256.5 341.2h.7M258.2 341.8h.7M264.4 338.3h.7M250.7 341.9h.7M268.1 342.3h.7M259.8 337.3h.7M250.3 339.9h.7M269.6 334.9h.7M268.4 340.7h.7M259.4 341.3h.7M250.5 340.5h.7M257.9 334.9h.7M267.1 340.5h.7M262.3 341.5h.7M257.8 339.4h.7M254.8 339.7h.7M262.2 340.4h.7M252.6 341.7h.7M258.6 340.9h.7M258.7 341.8h.7M265.9 340.0h.7M264.6 341.7h.7M249.5 341.9h.7M252.3 340.1h.7M254.8 340.5h.7M250.0 340.2h.7M257.0 339.6h.7M250.0 338.3h.7M259.1 338.0h.7M269.0 341.4h.7M260.6 342.9h.7M258.9 337.4h.7M259.6 339.8h.7M255.1 338.5h.7M262.8 339.2h.7M264.2 340.7h.7M252.3 339.7h.7M268.3 340.4h.7M267.0 340.5h.7M251.1 339.3h.7M266.4 340.6h.7M251.9 340.5h.7M264.9 339.6h.7M258.8 339.4h.7M247.9 340.3h.7M269.5 340.6h.7M262.0 339.0h.7M254.5 341.1h.7M259.8 339.5h.7M264.5 340.5h.7M265.8 340.1h.7M263.6 339.0h.7M260.0 337.8h.7M257.9 340.3h.7M266.5 338.0h.7M250.9 339.1h.7M247.1 340.9h.7M264.1 340.2h.7M253.9 342.3h.7M255.3 338.7h.7M257.2 336.4h.7M265.3 339.3h.7M253.2 338.6h.7M266.6 337.0h.7M255.3 338.8h.7M268.3 340.8h.7M256.5 339.4h.7M268.3 340.9h.7M254.8 339.5h.7M258.8 337.4h.7M262.5 341.3h.7M268.5 338.8h.7M252.8 341.5h.7M265.2 338.9h.7M253.4 338.5h.7M249.1 340.6h.7M264.5 340.8h.7M250.6 338.8h.7M258.3 338.2h.7M266.2 337.7h.7M266.8 339.3h.7" fill="none" stroke="#222" stroke-width="0.75" opacity="1.0" filter="url(#bl)"/>
<path d="M277.2 336.4h.7M278.3 340.4h.7M274.8 341.2h.7M272.6 340.5h.7M274.5 341.8h.7M274.5 342.0h.7M276.5 339.9h.7M271.3 338.7h.7M270.2 339.6h.7M273.2 339.9h.7M269.4 338.0h.7M278.1 340.2h.7M277.9 340.0h.7M274.4 339.0h.7M273.4 339.0h.7M278.6 340.7h.7M278.9 339.1h.7M270.4 340.7h.7M268.2 337.7h.7M276.1 337.4h.7M268.7 339.4h.7M275.4 342.2h.7M268.0 339.6h.7M277.0 340.4h.7M277.4 342.6h.7M277.9 339.4h.7M276.3 340.9h.7M278.1 339.6h.7M278.4 341.9h.7M268.3 342.2h.7M273.6 338.3h.7M276.0 339.1h.7M279.5 339.6h.7M275.8 337.1h.7M272.2 338.5h.7M268.5 338.4h.7M272.2 338.0h.7M279.0 340.0h.7M273.7 343.4h.7M277.6 339.1h.7M274.4 342.0h.7M271.5 338.0h.7M277.3 340.9h.7M275.1 341.8h.7M273.8 338.0h.7" fill="none" stroke="#222" stroke-width="0.75" opacity="0.8" filter="url(#bl)"/>
<path d="M261.4 336.4h.6M262.2 343.7h.6M252.0 339.1h.6M255.1 345.9h.6M246.3 337.2h.6M283.6 342.7h.6M255.2 343.0h.6M265.6 333.4h.6M250.1 332.7h.6M257.1 338.1h.6M283.9 345.3h.6M267.5 342.0h.6M270.2 344.2h.6M260.4 341.7h.6M254.5 335.4h.6M256.4 338.1h.6M257.6 341.0h.6M247.6 336.7h.6M269.6 343.9h.6M276.7 338.5h.6M270.3 332.4h.6M282.1 342.0h.6M276.9 333.6h.6M262.1 336.5h.6M278.9 343.4h.6" fill="none" stroke="#444" stroke-width="0.6" opacity="0.8"/>
<path d="M345.9 342.1h.7M348.8 343.3h.7M325.5 337.8h.7M345.4 341.0h.7M355.8 336.6h.7M348.3 338.9h.7M354.0 341.8h.7M335.3 344.9h.7M329.3 335.1h.7M337.7 341.5h.7M325.7 338.7h.7M322.6 341.8h.7M342.0 343.5h.7M333.8 337.5h.7M335.0 342.7h.7M347.8 343.9h.7M327.6 337.8h.7M334.6 340.4h.7M350.7 341.7h.7M347.3 340.1h.7M341.3 341.7h.7M349.5 340.3h.7M339.3 339.1h.7M333.1 341.0h.7M354.9 341.5h.7M326.8 341.9h.7M320.4 343.6h.7M339.7 343.5h.7M348.4 344.2h.7M324.3 343.9h.7M332.6 342.0h.7M329.4 344.0h.7M325.9 340.2h.7M344.6 338.0h.7M348.0 343.7h.7M327.6 340.0h.7M346.5 338.4h.7M324.9 339.4h.7M332.8 337.9h.7M343.2 346.1h.7M345.2 336.6h.7M340.7 340.8h.7M328.3 340.7h.7M340.6 334.8h.7M340.6 341.2h.7M347.5 341.3h.7M321.0 342.4h.7M337.0 336.9h.7M339.2 338.7h.7M320.7 333.5h.7M337.0 343.9h.7M320.7 338.3h.7M323.3 338.3h.7M354.3 340.3h.7M312.1 340.8h.7M322.7 343.0h.7M339.0 338.6h.7M323.1 343.9h.7M333.7 342.3h.7M331.8 342.8h.7M322.2 340.4h.7M341.8 339.5h.7M320.6 341.3h.7M310.6 341.9h.7M328.2 345.8h.7M323.1 340.9h.7M342.1 340.6h.7M325.6 340.0h.7M329.4 342.5h.7M327.8 338.5h.7M328.3 342.4h.7M318.2 335.0h.7M351.7 339.8h.7M343.8 342.2h.7M347.3 339.2h.7M329.6 340.3h.7M323.0 339.8h.7M341.2 337.4h.7M337.1 343.6h.7M353.1 339.3h.7M344.3 337.7h.7M352.9 346.0h.7M354.8 338.7h.7M354.7 340.8h.7M335.9 344.0h.7M351.3 340.0h.7M332.7 338.4h.7M348.5 340.7h.7M329.4 338.1h.7M321.0 336.8h.7M343.8 338.5h.7M334.0 340.0h.7M351.0 340.4h.7M349.1 338.6h.7M343.9 343.5h.7M337.7 336.8h.7M327.2 340.9h.7M331.6 338.4h.7M336.2 342.6h.7M345.2 338.6h.7M354.0 337.8h.7M339.2 343.1h.7M331.2 338.6h.7M329.0 338.9h.7M340.8 339.8h.7M348.8 340.4h.7M325.2 339.2h.7M328.3 342.0h.7M347.9 338.5h.7M330.0 338.0h.7M350.0 338.5h.7M348.9 341.8h.7M325.6 338.6h.7M333.5 341.0h.7M348.5 336.5h.7M321.2 342.5h.7M343.0 345.9h.7M322.0 336.2h.7M336.8 340.2h.7M344.5 340.9h.7M355.9 338.6h.7M327.9 342.3h.7M354.7 337.0h.7M329.3 340.0h.7M322.3 337.4h.7M326.2 339.8h.7M345.6 340.9h.7M343.2 338.3h.7M350.2 343.4h.7M338.6 341.8h.7M345.6 341.0h.7M346.4 345.9h.7M335.4 337.4h.7M343.0 336.4h.7M327.3 342.5h.7M339.6 341.1h.7M323.7 342.5h.7M334.9 338.7h.7M337.3 342.2h.7M336.5 338.0h.7M333.0 341.6h.7M338.3 340.4h.7M342.0 337.8h.7M335.1 339.2h.7M334.7 342.3h.7M339.6 338.5h.7M338.2 338.0h.7M336.5 337.1h.7M344.4 342.8h.7M333.0 340.7h.7M346.2 334.5h.7M332.7 337.0h.7M335.5 343.0h.7M322.0 340.7h.7M343.9 336.6h.7M335.0 340.1h.7M334.3 341.8h.7M342.2 343.8h.7M328.2 342.3h.7M347.8 338.5h.7M351.3 338.3h.7M332.3 340.6h.7M334.0 338.3h.7M321.3 341.0h.7M346.3 338.5h.7M331.2 344.3h.7M349.2 338.3h.7M323.0 339.0h.7M341.0 338.4h.7M350.7 344.1h.7M346.8 337.7h.7M340.1 341.3h.7M323.5 340.9h.7M332.6 336.6h.7M342.7 340.6h.7M346.0 339.9h.7M340.1 335.4h.7M347.6 339.5h.7M323.8 340.6h.7M338.4 340.9h.7M340.2 341.4h.7M335.6 346.4h.7M346.1 343.2h.7M341.6 341.4h.7M349.9 339.5h.7M325.0 337.2h.7M339.9 334.5h.7M345.6 341.1h.7M346.9 337.1h.7M345.6 341.6h.7M327.9 339.1h.7M327.3 343.8h.7M328.2 340.8h.7M338.9 335.3h.7M349.5 342.3h.7M346.2 339.6h.7M329.3 341.2h.7M332.8 340.8h.7M323.2 340.5h.7M342.9 345.7h.7M359.6 337.8h.7M354.0 342.4h.7M342.5 344.3h.7M335.1 342.2h.7M331.3 340.7h.7M321.9 336.3h.7M338.8 338.2h.7M330.1 341.3h.7M352.2 338.0h.7M352.0 340.5h.7M346.5 339.3h.7M347.6 339.9h.7M321.0 339.5h.7M349.3 341.6h.7M344.6 341.4h.7M326.1 336.4h.7M344.9 340.2h.7M351.6 340.8h.7M333.1 341.6h.7M325.2 342.5h.7M335.7 337.3h.7M327.1 343.0h.7M332.5 338.3h.7M326.2 337.9h.7M348.2 342.5h.7M348.3 341.4h.7M343.4 343.3h.7M334.1 337.9h.7M340.9 339.7h.7M353.4 338.5h.7M326.7 341.8h.7M344.4 340.1h.7M338.0 339.9h.7M336.4 341.9h.7M351.6 336.4h.7M348.5 340.1h.7M347.4 343.4h.7M322.5 339.3h.7M320.3 340.3h.7M326.4 339.6h.7M355.0 341.0h.7M330.9 344.6h.7M344.0 335.8h.7M331.4 344.6h.7M354.4 338.1h.7M327.7 341.9h.7M340.2 341.0h.7M332.6 339.8h.7M334.4 340.5h.7M354.3 335.1h.7M323.2 340.7h.7M329.7 339.5h.7M320.4 335.9h.7M328.5 341.0h.7M336.3 336.9h.7M346.5 339.2h.7M332.9 341.7h.7M342.3 339.7h.7M346.1 339.3h.7M333.5 341.9h.7M325.5 340.3h.7M342.9 343.2h.7M330.2 338.1h.7M327.5 342.3h.7M335.6 338.6h.7M350.8 337.8h.7M348.0 340.5h.7M326.6 334.3h.7M345.7 340.8h.7M345.8 340.5h.7M323.0 342.7h.7M342.3 341.3h.7M339.5 338.9h.7M329.4 340.0h.7M327.3 339.1h.7M346.3 343.0h.7M354.0 339.6h.7M334.6 341.9h.7M351.2 334.9h.7M347.8 344.1h.7M355.4 340.7h.7M336.3 335.3h.7M331.0 341.9h.7M345.5 336.9h.7M331.0 343.0h.7M347.6 340.8h.7M350.7 337.4h.7M352.7 339.7h.7M330.1 334.9h.7M330.7 336.8h.7M338.8 338.9h.7M313.8 340.6h.7M344.9 340.9h.7M326.0 339.6h.7M326.9 340.1h.7M329.2 343.4h.7M337.9 339.4h.7M346.3 342.0h.7M355.2 339.6h.7M349.2 338.2h.7M341.7 344.2h.7M343.9 336.6h.7M326.6 338.3h.7M328.1 341.9h.7M324.6 336.4h.7M320.8 338.5h.7M341.5 335.6h.7M329.6 342.5h.7M338.6 342.1h.7M345.0 339.4h.7M342.2 337.7h.7M353.9 336.4h.7M333.8 337.9h.7M348.3 337.7h.7M354.6 336.3h.7M332.3 341.6h.7M337.3 339.9h.7M332.6 340.4h.7M332.8 341.2h.7M347.6 341.7h.7M350.1 342.5h.7M321.4 332.0h.7M321.9 338.6h.7M328.4 341.8h.7M329.9 344.5h.7M320.8 340.3h.7M353.5 337.8h.7M353.0 340.5h.7M328.4 339.2h.7M328.2 340.5h.7M353.4 337.6h.7M340.8 341.4h.7M348.3 334.3h.7M354.4 338.1h.7M351.7 341.2h.7M353.0 342.5h.7M341.4 341.4h.7M334.8 340.1h.7M353.2 342.5h.7M331.7 340.8h.7M335.4 342.5h.7M328.7 340.4h.7M325.0 340.9h.7M353.1 340.7h.7M322.5 337.8h.7M325.3 340.7h.7M332.3 339.9h.7M341.0 342.7h.7M337.4 339.5h.7M325.0 339.9h.7M321.4 338.4h.7M347.5 338.7h.7M353.4 336.2h.7M347.8 338.5h.7M323.9 338.1h.7M331.4 342.4h.7M329.0 339.0h.7M341.1 342.8h.7M353.6 341.2h.7M328.8 342.9h.7M359.3 339.2h.7M340.1 347.5h.7M343.3 338.5h.7M328.3 338.0h.7M341.0 339.1h.7M334.7 340.6h.7M345.9 343.6h.7M329.4 336.5h.7M339.4 339.4h.7M341.2 338.9h.7M344.7 335.4h.7M328.5 343.0h.7M341.8 337.6h.7M323.8 338.8h.7M348.8 340.9h.7M321.4 338.3h.7M342.6 339.4h.7M324.4 344.5h.7M330.5 333.8h.7M340.8 336.8h.7" fill="none" stroke="#222" stroke-width="0.75" opacity="0.9" filter="url(#bl)"/>
<path d="M334.2 340.4h.7M328.2 340.4h.7M348.7 341.5h.7M324.6 340.2h.7M334.6 343.8h.7M324.3 336.5h.7M328.2 340.8h.7M334.3 339.3h.7M331.8 340.5h.7M326.1 338.1h.7M324.4 337.4h.7M326.7 340.6h.7M332.4 341.9h.7M334.3 341.3h.7M339.0 339.5h.7M336.1 341.4h.7M328.9 338.4h.7M324.7 337.5h.7M327.4 338.8h.7M332.5 340.5h.7M340.9 339.4h.7M337.2 338.5h.7M329.2 336.8h.7M335.3 338.5h.7M336.5 338.0h.7M337.0 339.7h.7M325.1 339.9h.7M324.8 341.1h.7M340.5 341.4h.7M326.7 339.6h.7M341.8 340.4h.7M324.0 336.8h.7M341.1 342.9h.7M328.4 343.7h.7M330.7 338.2h.7M330.8 342.7h.7M330.8 344.1h.7M338.5 339.7h.7M337.8 342.0h.7M324.0 340.2h.7M337.4 341.8h.7M336.2 340.0h.7M342.7 340.1h.7M330.2 340.8h.7M325.1 337.5h.7M333.4 343.0h.7M332.3 338.8h.7M343.6 340.3h.7M341.4 336.0h.7M330.3 339.4h.7M338.9 337.7h.7M335.7 339.3h.7M324.4 338.1h.7M330.7 339.9h.7M327.3 336.8h.7M335.4 341.4h.7M327.7 340.4h.7M327.0 339.2h.7M332.1 343.6h.7M334.1 342.2h.7M337.6 338.1h.7M337.5 340.4h.7M334.9 339.2h.7M331.9 343.0h.7M339.5 343.5h.7M339.4 339.8h.7M326.3 339.0h.7M326.7 338.2h.7M332.5 335.3h.7M341.0 339.0h.7M339.5 337.7h.7M325.0 339.8h.7M341.9 339.3h.7M339.9 343.6h.7M337.4 338.2h.7M339.0 339.9h.7M325.7 340.8h.7M324.5 338.1h.7M324.4 341.7h.7M327.1 340.4h.7M341.8 339.3h.7M331.1 338.0h.7M342.9 338.7h.7M326.8 338.9h.7M328.2 340.3h.7M340.3 344.0h.7M333.5 338.0h.7M324.7 337.3h.7M329.9 340.3h.7M342.3 340.7h.7M339.1 338.7h.7M339.8 340.6h.7M331.8 342.8h.7M336.8 340.5h.7M327.9 338.8h.7M325.4 337.8h.7M342.1 342.0h.7M336.3 339.0h.7M336.2 339.7h.7M328.4 339.9h.7M333.8 338.4h.7M334.7 342.2h.7M330.6 337.6h.7M326.6 338.3h.7M337.5 342.9h.7M337.9 338.9h.7M334.9 339.1h.7M348.5 338.7h.7M329.8 344.2h.7M329.1 342.1h.7M328.4 339.2h.7M341.2 337.4h.7M333.1 338.3h.7M337.5 339.1h.7M326.1 343.7h.7M330.7 340.6h.7M340.3 344.2h.7M334.7 343.1h.7M341.0 339.2h.7M325.6 341.2h.7M321.6 338.0h.7M328.9 345.0h.7M331.8 343.2h.7M327.1 336.9h.7M334.4 338.9h.7M334.6 340.6h.7M328.8 340.0h.7M326.8 339.3h.7M335.8 345.7h.7M341.8 343.1h.7M327.2 343.1h.7M329.9 342.0h.7M326.6 341.1h.7M337.6 341.2h.7M327.0 341.4h.7M328.7 341.9h.7M337.3 336.3h.7M342.2 341.6h.7M326.5 341.7h.7M335.5 340.7h.7M323.7 338.6h.7M335.6 342.2h.7M328.8 339.9h.7M331.4 336.1h.7M327.5 342.4h.7M323.8 337.1h.7M331.8 338.7h.7M341.5 340.1h.7M328.7 341.8h.7M331.6 339.2h.7M331.7 336.8h.7M332.5 338.2h.7M328.3 344.5h.7M333.8 340.6h.7M334.3 337.9h.7M329.3 339.0h.7M335.0 339.4h.7M324.9 339.1h.7M341.1 339.4h.7M334.6 334.4h.7M331.3 342.9h.7M328.9 339.0h.7M348.3 340.9h.7M336.7 335.5h.7M329.2 341.0h.7M332.8 336.9h.7M341.8 340.9h.7M325.2 344.9h.7M326.5 334.1h.7M325.2 341.1h.7M335.4 343.9h.7M337.3 336.6h.7M334.4 341.2h.7M325.7 339.5h.7M334.7 340.0h.7M324.0 342.9h.7M338.0 339.8h.7M336.9 338.2h.7M334.8 339.3h.7M333.5 343.1h.7M336.1 340.6h.7M338.5 339.8h.7M331.4 343.0h.7M338.8 342.8h.7M335.1 338.9h.7M341.6 341.9h.7M338.6 338.1h.7M329.5 339.0h.7M331.3 340.7h.7M330.9 337.9h.7M327.1 339.9h.7M334.9 333.8h.7M327.7 339.6h.7M324.6 341.2h.7M335.1 341.8h.7M331.2 342.3h.7M336.3 338.4h.7M337.0 343.4h.7M337.3 340.6h.7M336.7 340.6h.7M337.3 339.7h.7M334.5 339.2h.7M335.1 344.1h.7M340.3 341.5h.7M338.1 339.8h.7M320.6 340.3h.7M337.6 340.5h.7M331.6 339.5h.7M337.7 338.1h.7M331.0 340.9h.7M332.9 341.1h.7M336.0 341.5h.7M333.3 335.4h.7M329.7 346.6h.7M329.7 339.5h.7M324.9 342.6h.7M332.6 340.4h.7M331.6 335.4h.7M341.7 341.5h.7M341.8 339.4h.7M337.7 339.5h.7M327.6 340.1h.7M340.7 340.5h.7M333.6 338.5h.7M329.9 341.6h.7M330.3 340.5h.7M335.0 341.7h.7M335.8 341.7h.7M332.8 342.9h.7M340.3 337.9h.7M335.5 336.4h.7M334.6 342.3h.7M320.9 341.3h.7M324.3 339.5h.7M337.1 339.4h.7M324.7 340.1h.7M338.5 340.5h.7M332.7 338.1h.7M337.1 342.6h.7M338.8 343.0h.7M336.0 340.6h.7M342.5 347.9h.7M336.5 338.4h.7M334.3 341.2h.7M326.7 343.6h.7M332.5 342.8h.7M326.3 341.4h.7M328.5 339.9h.7M340.4 339.7h.7M328.1 338.1h.7M331.6 336.0h.7M341.9 337.2h.7M325.4 337.4h.7M340.2 341.5h.7M339.8 338.6h.7M334.5 341.0h.7M330.6 341.0h.7M336.1 341.4h.7M332.4 341.3h.7M341.0 340.7h.7M333.9 339.5h.7M333.1 339.5h.7M324.6 342.9h.7M336.7 342.5h.7M335.9 338.5h.7M335.3 335.2h.7M326.7 344.2h.7M339.1 339.3h.7M326.5 340.5h.7M336.4 336.0h.7M325.0 340.3h.7M334.2 339.4h.7M336.8 342.4h.7M321.5 342.0h.7M332.2 336.8h.7M342.6 339.6h.7M324.2 341.0h.7M335.4 344.8h.7M338.2 344.5h.7M341.2 343.6h.7M337.0 339.9h.7M324.0 343.2h.7M332.5 337.8h.7M330.0 338.1h.7M326.6 339.5h.7M338.0 340.6h.7M324.6 344.1h.7M338.2 338.6h.7M340.6 335.2h.7M324.4 340.0h.7M330.3 343.9h.7M329.3 342.9h.7M324.7 339.1h.7M333.1 339.3h.7M330.0 342.1h.7M342.7 343.0h.7M341.9 341.6h.7M339.6 341.7h.7M330.6 338.5h.7M329.7 341.3h.7M333.4 343.3h.7M339.5 342.0h.7M342.0 339.6h.7M339.1 338.8h.7M342.8 338.6h.7M339.8 337.6h.7M325.6 338.2h.7M342.4 341.7h.7M335.5 340.3h.7M335.1 341.3h.7M330.4 342.3h.7M340.4 338.1h.7M335.6 347.1h.7M328.9 340.5h.7M339.0 345.2h.7M340.5 345.2h.7M327.1 346.2h.7M332.0 339.5h.7M333.4 343.0h.7M334.7 336.4h.7M340.0 341.6h.7M335.0 337.3h.7M318.9 340.6h.7M336.7 343.0h.7M342.0 342.4h.7M323.5 341.8h.7M342.6 339.6h.7M335.8 341.3h.7M337.3 336.8h.7M327.8 338.5h.7" fill="none" stroke="#222" stroke-width="0.75" opacity="1.0" filter="url(#bl)"/>
<path d="M355.2 334.2h.6M319.8 345.0h.6M324.8 349.8h.6M356.8 336.0h.6M362.5 341.4h.6M343.5 335.0h.6M359.5 341.9h.6M332.0 335.5h.6M332.4 335.9h.6M361.2 341.1h.6M347.2 344.6h.6M321.8 341.7h.6M354.2 330.7h.6M360.9 339.3h.6M319.8 349.5h.6M337.4 346.4h.6M363.1 329.7h.6M331.3 339.3h.6M332.4 343.9h.6M335.3 339.0h.6M337.5 345.3h.6M343.4 337.1h.6M358.2 338.2h.6M363.7 331.7h.6M323.2 343.6h.6M359.0 330.1h.6M334.4 344.3h.6M351.4 340.6h.6M349.9 347.3h.6M345.0 336.9h.6M328.3 336.0h.6M355.8 347.0h.6M335.3 333.9h.6M363.0 330.1h.6M336.5 337.6h.6M350.4 329.8h.6M349.6 329.8h.6M328.3 338.3h.6M353.4 333.0h.6M348.4 329.5h.6M326.0 335.4h.6M322.4 346.0h.6M344.9 346.4h.6M340.0 340.7h.6M320.3 348.6h.6" fill="none" stroke="#444" stroke-width="0.6" opacity="0.8"/>
<path d="M393.5 337.7h.7M407.9 336.1h.7M406.7 340.8h.7M395.9 335.3h.7M403.2 337.9h.7M402.0 338.5h.7M384.1 334.8h.7M408.1 341.0h.7M385.8 338.7h.7M385.2 338.9h.7M386.9 336.6h.7M400.2 335.6h.7M394.6 336.4h.7M399.3 333.7h.7M389.8 338.7h.7M386.0 336.9h.7M407.1 337.9h.7M385.3 338.4h.7M398.2 336.7h.7M385.8 339.5h.7M405.7 336.4h.7M391.5 341.1h.7M401.9 337.1h.7M406.0 336.5h.7M390.3 337.4h.7M390.8 334.6h.7M382.1 341.1h.7M404.5 337.3h.7M405.3 338.2h.7M387.0 339.9h.7M403.8 339.2h.7M395.7 338.1h.7M396.3 341.1h.7M405.6 336.6h.7M399.5 338.5h.7M391.0 336.3h.7M403.6 334.0h.7M410.5 337.9h.7M401.0 338.6h.7M405.0 337.5h.7M403.3 334.6h.7M400.4 340.3h.7M407.3 332.7h.7M391.9 337.4h.7M391.3 337.9h.7M408.2 339.3h.7M405.7 336.8h.7M408.9 337.0h.7M388.0 339.6h.7M387.0 337.9h.7M395.4 339.8h.7M392.1 340.0h.7M398.9 335.1h.7M403.1 337.3h.7M414.7 341.3h.7M403.3 336.3h.7M396.2 337.1h.7M406.1 340.9h.7M398.7 335.3h.7M394.8 332.4h.7M390.0 336.1h.7M401.4 340.2h.7M393.6 338.4h.7M399.9 336.1h.7M411.0 333.3h.7M384.6 337.7h.7M408.3 337.2h.7M402.0 336.3h.7M386.5 338.5h.7M403.1 339.6h.7M402.3 339.1h.7M408.2 338.9h.7M401.4 336.0h.7M414.5 339.5h.7M410.8 337.5h.7M387.7 340.5h.7M401.5 335.0h.7M396.9 339.9h.7M387.9 337.2h.7M395.1 340.8h.7M397.5 337.0h.7M402.6 337.8h.7M405.0 341.8h.7M404.4 341.0h.7M390.7 338.0h.7M386.0 336.3h.7M399.7 338.3h.7M390.9 335.8h.7M388.7 339.4h.7M389.8 337.8h.7M393.1 338.0h.7M403.4 338.7h.7M399.7 342.3h.7M406.2 338.3h.7M398.8 339.6h.7M388.3 341.6h.7M410.1 338.4h.7M400.8 337.1h.7M405.7 336.2h.7M399.6 334.5h.7M390.9 341.0h.7M385.1 342.4h.7M411.9 337.2h.7M398.5 339.6h.7M389.6 341.3h.7M405.7 338.3h.7M406.8 336.2h.7M402.2 338.2h.7M404.2 340.0h.7M408.1 338.2h.7M407.2 341.5h.7M392.6 342.3h.7M396.2 335.4h.7M393.3 338.6h.7M401.6 337.6h.7M402.2 337.1h.7M384.2 337.0h.7M390.8 340.6h.7M397.6 335.2h.7M399.5 334.2h.7M391.3 338.6h.7M385.4 337.2h.7M406.6 341.2h.7M398.2 337.0h.7M411.6 338.0h.7M397.1 337.0h.7M388.2 336.2h.7M386.0 336.5h.7M410.7 337.6h.7M400.9 338.3h.7M403.0 335.7h.7M394.3 337.1h.7M399.6 340.1h.7M404.1 340.7h.7M387.0 337.7h.7M393.0 335.1h.7M404.5 335.5h.7M383.7 335.9h.7M393.9 340.5h.7M391.1 339.2h.7M391.4 339.7h.7M409.9 342.2h.7M389.6 339.3h.7M416.9 339.8h.7M408.1 338.3h.7M400.6 339.5h.7M385.7 338.7h.7M405.6 342.5h.7M396.5 338.0h.7M410.8 337.8h.7M403.6 334.7h.7M410.4 335.1h.7M396.4 340.9h.7M384.5 336.6h.7M393.6 339.9h.7M391.1 335.2h.7M394.9 338.6h.7M398.1 338.7h.7M398.6 337.6h.7M388.7 337.1h.7M387.4 338.9h.7M408.8 338.2h.7M397.2 335.5h.7M393.0 339.2h.7M385.2 335.7h.7M404.5 337.6h.7M393.4 338.8h.7M396.6 336.6h.7M399.3 340.1h.7M383.3 337.5h.7M398.8 337.8h.7M398.5 337.2h.7M399.0 336.4h.7M394.1 339.6h.7M392.2 338.8h.7M402.7 338.8h.7M410.0 333.8h.7M385.5 341.3h.7M386.0 336.8h.7M398.7 340.8h.7M407.3 333.6h.7M408.8 336.3h.7M402.3 338.7h.7M396.0 336.4h.7M395.7 337.4h.7M400.5 335.5h.7M397.2 339.7h.7M393.6 338.8h.7M402.6 337.8h.7M394.7 338.7h.7M399.2 338.3h.7M381.2 340.5h.7M396.0 338.7h.7M393.4 335.1h.7M397.2 334.7h.7M385.7 338.3h.7M406.0 337.7h.7M387.3 339.9h.7M388.6 337.7h.7M386.6 336.5h.7M387.0 336.3h.7M391.4 338.2h.7M397.9 342.6h.7M401.9 339.3h.7M386.0 336.9h.7M403.9 339.0h.7M409.4 335.4h.7M411.2 333.9h.7M386.9 339.8h.7M408.4 339.0h.7M392.9 334.7h.7M385.8 339.0h.7M398.8 336.1h.7M400.4 337.2h.7M417.6 334.7h.7M411.1 337.1h.7M410.0 337.7h.7M406.6 338.7h.7M391.2 336.0h.7M411.1 336.1h.7M387.0 336.7h.7M392.9 344.6h.7M398.2 333.1h.7M396.4 336.3h.7M393.5 337.9h.7M408.4 339.3h.7M385.8 337.3h.7M400.9 338.1h.7M412.1 337.2h.7M392.6 339.6h.7M385.5 338.2h.7M396.7 337.3h.7M411.3 338.6h.7M387.0 337.8h.7M387.5 338.0h.7M409.2 336.9h.7M401.6 337.9h.7M399.2 340.2h.7M397.8 337.5h.7M389.7 335.4h.7M398.5 340.0h.7M393.8 338.0h.7M398.7 336.7h.7M398.1 337.8h.7M386.3 335.3h.7M403.2 336.9h.7M387.3 337.6h.7M409.0 340.8h.7M398.4 340.5h.7M409.2 342.0h.7M392.3 334.8h.7M389.3 338.3h.7M393.7 338.9h.7M385.6 342.2h.7M401.0 339.0h.7M386.4 338.0h.7M407.0 339.1h.7M394.0 335.1h.7M406.3 336.7h.7M397.1 339.7h.7M406.9 332.1h.7M407.6 336.7h.7M400.9 338.5h.7M400.2 342.6h.7M394.3 339.2h.7M390.9 337.6h.7M404.2 338.1h.7M390.6 335.5h.7M393.5 340.5h.7M413.5 339.7h.7M386.9 339.5h.7M388.8 339.0h.7M403.1 334.3h.7M397.8 337.1h.7M404.8 340.4h.7M409.2 338.6h.7M408.6 336.9h.7M385.3 336.6h.7M387.9 338.1h.7M389.0 338.5h.7M398.4 334.5h.7M405.5 338.5h.7M393.7 337.2h.7M409.6 337.8h.7M394.1 337.6h.7M406.7 339.4h.7M398.3 337.7h.7M396.4 335.5h.7M390.6 341.2h.7M390.4 339.5h.7M407.0 339.2h.7M387.7 342.1h.7M393.5 337.0h.7M405.4 333.1h.7M391.4 338.1h.7M410.9 336.8h.7M397.3 336.0h.7M414.1 335.0h.7M397.1 335.0h.7M393.0 332.5h.7M401.4 341.0h.7M399.3 336.3h.7M411.5 339.6h.7M397.6 337.6h.7M396.4 334.7h.7M398.7 338.2h.7M407.5 341.9h.7M406.5 338.0h.7M404.9 339.1h.7M401.9 335.7h.7M401.1 340.1h.7M397.9 336.3h.7M396.9 338.4h.7M408.1 339.3h.7M410.1 335.4h.7M398.5 334.5h.7M389.6 337.3h.7M400.4 336.5h.7M398.8 339.9h.7M397.1 337.4h.7M386.0 337.1h.7M403.9 337.2h.7M410.5 341.9h.7M392.6 340.3h.7M402.9 334.4h.7M398.3 337.8h.7M398.9 338.9h.7M392.6 339.3h.7M399.2 337.8h.7M400.4 338.7h.7M409.7 339.5h.7M405.6 342.2h.7M388.0 338.5h.7M397.9 339.0h.7M404.6 344.0h.7M406.2 337.2h.7M405.1 339.1h.7M408.0 336.4h.7M403.4 337.1h.7M391.2 338.4h.7M386.1 336.1h.7M401.9 338.0h.7M393.6 336.4h.7M394.9 338.6h.7M408.2 339.5h.7M391.3 339.7h.7M385.7 335.5h.7M393.9 340.7h.7M402.8 339.0h.7M394.0 338.1h.7M393.1 337.9h.7M393.5 334.4h.7M406.7 336.5h.7M408.6 338.8h.7M402.8 337.8h.7M427.2 332.6h.7M391.8 341.6h.7M391.8 340.7h.7M396.5 336.9h.7M409.2 337.0h.7M397.8 337.8h.7M403.1 339.1h.7M385.6 338.8h.7M389.0 339.0h.7M388.9 338.2h.7M404.6 335.2h.7M400.5 333.8h.7M414.1 335.6h.7M403.6 339.0h.7M390.8 335.0h.7M411.6 337.9h.7M393.6 338.5h.7M386.5 339.8h.7M391.0 335.0h.7M389.2 337.7h.7M396.8 334.4h.7M395.2 338.0h.7M394.9 340.1h.7M387.6 337.2h.7M405.8 337.9h.7M387.4 336.1h.7M397.0 338.1h.7M386.1 338.8h.7M402.1 339.9h.7M399.1 339.1h.7M392.0 335.5h.7M396.1 337.1h.7M401.4 337.2h.7M408.2 338.3h.7M386.4 335.4h.7M402.6 337.4h.7M388.0 338.7h.7M397.5 339.8h.7M393.8 336.6h.7M398.4 337.9h.7M405.3 337.4h.7M409.9 341.9h.7M392.8 341.8h.7M409.8 337.5h.7M400.4 340.3h.7M400.6 335.7h.7M397.1 336.6h.7M387.0 338.5h.7M410.1 337.1h.7M386.3 340.6h.7M402.7 341.2h.7M386.3 338.7h.7M394.2 337.1h.7M398.9 338.6h.7M400.4 339.0h.7M397.6 338.3h.7M386.3 335.4h.7M402.3 337.1h.7M401.1 337.8h.7M386.4 335.6h.7M386.7 339.9h.7M404.8 339.0h.7M393.0 338.8h.7M410.7 337.1h.7M391.2 337.0h.7M396.0 337.0h.7M389.4 339.6h.7M406.8 336.6h.7M411.6 337.3h.7M385.0 337.1h.7M395.5 338.1h.7M403.3 334.4h.7M394.5 337.4h.7M392.4 342.6h.7M410.5 340.3h.7M403.3 335.3h.7M409.0 335.5h.7M395.1 341.0h.7M387.3 341.3h.7M391.0 339.1h.7M408.2 340.2h.7M395.4 340.0h.7M391.2 335.7h.7M402.2 338.4h.7M406.1 338.0h.7M402.6 339.4h.7M389.3 339.8h.7M393.0 337.0h.7M386.6 338.5h.7M388.7 337.7h.7M387.0 337.8h.7M385.6 335.3h.7M391.5 337.2h.7M412.0 337.7h.7M394.8 338.3h.7M396.1 337.1h.7M390.9 336.1h.7M397.7 336.6h.7M401.5 340.1h.7M404.0 340.0h.7M386.7 340.0h.7M392.2 337.0h.7M389.7 340.8h.7M406.1 339.0h.7M399.4 338.6h.7M400.0 340.2h.7M410.0 337.6h.7M393.6 337.9h.7M399.2 334.7h.7M408.2 336.7h.7M398.4 338.7h.7M392.8 337.2h.7M408.8 338.2h.7M386.4 337.6h.7M390.0 336.7h.7M395.6 338.1h.7M405.5 338.4h.7M398.4 339.3h.7M398.1 337.1h.7M388.2 338.1h.7M387.5 337.6h.7M411.0 336.5h.7M391.7 338.3h.7M389.9 338.1h.7M407.1 338.3h.7M396.6 338.3h.7M396.0 336.6h.7M407.0 335.4h.7M393.8 339.5h.7M398.8 339.4h.7M405.8 337.8h.7M408.9 334.7h.7M405.2 339.2h.7M400.7 340.5h.7M401.3 339.3h.7M405.8 336.8h.7M394.0 336.6h.7M391.0 337.1h.7M406.3 337.8h.7M396.6 341.3h.7M407.8 335.9h.7M395.6 337.8h.7M409.4 337.6h.7M396.2 339.6h.7M403.3 338.6h.7M392.8 339.3h.7M387.8 338.1h.7M390.2 337.5h.7M405.8 337.4h.7M409.8 339.1h.7M410.9 340.9h.7M399.9 335.5h.7M394.4 339.8h.7M405.1 337.4h.7M392.5 338.6h.7M385.4 337.3h.7M391.6 340.8h.7M402.6 339.5h.7M406.1 338.9h.7M402.9 338.5h.7M406.5 340.1h.7M407.6 339.4h.7M379.1 337.8h.7M398.0 336.6h.7M410.9 340.4h.7M394.3 335.3h.7M395.8 338.1h.7M386.8 336.3h.7M390.8 341.7h.7M400.7 337.8h.7M401.1 336.0h.7M389.1 333.1h.7M402.9 334.9h.7M405.2 337.6h.7M400.3 338.8h.7M403.8 339.5h.7M400.9 334.8h.7M402.0 341.6h.7M405.9 338.9h.7M395.3 339.2h.7M386.0 333.3h.7M406.1 334.2h.7M406.2 337.2h.7M402.9 337.6h.7M400.8 339.5h.7M399.4 336.3h.7M389.0 339.6h.7M385.5 336.0h.7M385.5 336.6h.7M409.4 337.6h.7M407.7 341.7h.7M407.3 339.9h.7M389.1 339.4h.7M402.5 339.7h.7M393.4 340.7h.7M389.8 339.2h.7M385.8 338.7h.7M407.7 337.5h.7M388.7 333.9h.7M403.7 339.6h.7M395.7 337.3h.7M392.6 337.1h.7M393.8 338.2h.7M397.7 334.0h.7M385.1 340.3h.7M410.3 336.4h.7M391.7 337.0h.7M398.8 338.3h.7M397.4 340.6h.7M400.3 339.3h.7M393.2 334.2h.7M399.8 340.2h.7M400.1 339.6h.7M406.1 336.1h.7M392.5 340.3h.7M400.2 339.4h.7M413.4 336.8h.7M397.2 338.4h.7M397.4 336.2h.7M400.9 337.9h.7M388.0 339.4h.7M386.9 341.6h.7M406.1 339.6h.7M411.5 337.2h.7M385.0 335.5h.7M403.0 337.8h.7M402.2 338.4h.7M393.3 338.2h.7M412.9 336.2h.7M397.1 337.9h.7M388.4 335.3h.7M401.5 341.6h.7M407.9 335.6h.7M405.4 340.8h.7M407.0 338.8h.7M390.5 337.2h.7M406.1 341.3h.7M406.2 337.9h.7M405.1 341.2h.7M398.8 337.1h.7M398.2 336.1h.7M384.7 336.4h.7M411.6 339.3h.7M406.2 338.4h.7M396.3 342.7h.7M403.8 335.0h.7M402.7 338.3h.7M405.0 340.5h.7M405.0 339.1h.7M387.5 338.6h.7M393.1 335.8h.7M407.7 337.7h.7M407.1 337.2h.7M391.7 334.7h.7M411.5 338.1h.7M410.5 339.2h.7M406.5 339.8h.7M410.9 335.6h.7M397.7 336.8h.7M397.6 335.9h.7M411.7 338.8h.7M393.2 338.7h.7M391.6 339.0h.7M406.9 337.8h.7M401.3 335.3h.7M398.0 338.5h.7M393.7 342.2h.7M395.8 337.5h.7M398.8 341.5h.7M416.3 338.5h.7M406.3 338.8h.7M388.8 337.7h.7M401.2 336.9h.7M410.0 337.4h.7M399.7 338.8h.7M385.9 339.1h.7M405.2 339.4h.7M387.7 333.2h.7M409.1 337.6h.7M389.2 337.7h.7M396.1 337.5h.7M397.9 338.1h.7M394.0 337.7h.7M409.1 340.4h.7M395.4 338.8h.7M407.3 337.3h.7M404.5 336.9h.7M394.5 338.7h.7M389.0 335.3h.7M400.7 335.7h.7M393.3 336.1h.7M401.6 337.5h.7M393.6 340.5h.7M410.4 338.8h.7M391.2 339.9h.7M390.7 336.0h.7M400.7 338.5h.7M396.5 339.0h.7M402.1 339.5h.7M388.1 338.6h.7M402.5 336.2h.7M399.5 342.4h.7M411.5 336.2h.7M410.8 335.6h.7M393.3 336.5h.7M385.1 338.4h.7M390.7 336.5h.7M398.4 336.4h.7M396.1 334.1h.7M390.9 340.2h.7M396.9 336.1h.7M393.7 339.5h.7M405.4 335.7h.7M389.0 339.3h.7M399.4 338.1h.7M391.8 336.1h.7M411.6 337.4h.7M398.8 340.5h.7M385.1 336.7h.7M398.9 340.9h.7M390.5 340.0h.7M397.5 336.1h.7M406.0 337.2h.7M404.0 339.8h.7M401.5 338.2h.7M393.6 338.9h.7M403.8 335.9h.7M402.9 341.5h.7M386.4 339.3h.7M394.7 338.9h.7M398.6 336.6h.7M399.5 333.9h.7M387.2 334.5h.7M399.9 336.2h.7M389.8 336.7h.7M405.2 335.0h.7M411.8 338.8h.7M402.5 338.3h.7M394.0 338.1h.7M411.2 340.1h.7M401.4 336.1h.7M410.9 336.4h.7M409.6 339.3h.7M402.7 339.5h.7M404.5 336.7h.7M385.4 339.7h.7M393.2 340.2h.7M401.1 336.6h.7M386.7 335.9h.7M403.9 336.5h.7M407.3 337.5h.7M393.0 339.1h.7M393.7 336.6h.7M397.6 336.8h.7M410.4 339.2h.7M406.1 337.6h.7M394.8 338.7h.7M390.9 335.4h.7M385.4 341.5h.7M392.8 336.0h.7M411.6 337.6h.7M402.5 336.9h.7M410.5 340.4h.7M396.6 337.6h.7M392.3 337.1h.7M408.6 339.0h.7M407.4 335.6h.7M393.9 341.4h.7M398.9 339.0h.7M387.6 338.7h.7M399.5 336.9h.7M390.9 338.7h.7M407.4 336.6h.7M408.3 339.7h.7M389.2 338.8h.7M405.7 341.3h.7M400.2 338.7h.7M401.5 337.5h.7M386.4 335.8h.7M406.2 341.1h.7M401.4 340.3h.7M404.6 336.5h.7M395.6 338.2h.7M392.3 341.1h.7M406.4 338.6h.7M397.5 336.2h.7M407.3 333.7h.7M393.5 339.3h.7M405.7 337.4h.7M398.8 337.5h.7M402.7 340.1h.7M387.5 337.2h.7M395.2 338.2h.7M404.1 337.7h.7M402.6 338.4h.7M397.0 343.0h.7M405.5 338.1h.7M404.4 334.9h.7M392.0 337.6h.7M396.8 336.9h.7M398.1 336.7h.7M388.5 336.4h.7M402.7 338.8h.7M407.2 335.1h.7M392.7 337.3h.7M389.8 338.3h.7M397.7 334.7h.7M397.3 340.1h.7M396.1 339.1h.7M387.3 342.8h.7M392.5 336.4h.7M389.2 337.7h.7M392.6 338.2h.7M408.8 337.3h.7M409.0 340.5h.7M408.6 338.7h.7M396.0 338.9h.7M400.9 335.5h.7M403.7 338.4h.7M409.9 337.3h.7M401.2 335.3h.7M387.8 338.6h.7M408.7 340.4h.7M397.8 335.1h.7M387.0 337.7h.7M408.4 338.2h.7M408.7 339.1h.7M390.7 337.5h.7M407.2 336.2h.7M384.6 338.4h.7M394.3 339.5h.7M411.9 339.8h.7M387.1 339.1h.7M409.0 340.1h.7M403.9 335.4h.7M399.4 339.4h.7M394.1 341.3h.7M401.4 338.2h.7M404.7 335.5h.7M400.1 338.7h.7M404.7 336.5h.7M405.8 339.0h.7M400.4 340.1h.7M387.4 338.1h.7M388.4 335.9h.7M401.5 341.3h.7M396.5 335.8h.7M404.6 339.4h.7M399.0 339.5h.7M404.5 335.2h.7M394.1 338.7h.7M395.4 342.3h.7M404.8 338.4h.7M392.7 338.4h.7M393.5 338.0h.7M390.2 336.9h.7M387.9 334.6h.7M392.7 335.4h.7M398.2 335.6h.7M410.9 339.6h.7M387.1 337.7h.7M411.8 340.9h.7M405.5 337.2h.7M392.5 337.8h.7M391.0 340.6h.7M409.2 339.4h.7M394.3 337.5h.7M387.0 340.2h.7M412.2 339.0h.7M398.8 341.0h.7M400.3 338.8h.7M399.8 337.3h.7M389.6 338.3h.7M392.5 338.7h.7M410.5 339.4h.7M404.7 340.2h.7M389.0 336.1h.7M396.0 342.7h.7M391.8 338.3h.7M391.0 339.3h.7M409.8 339.7h.7M411.8 339.1h.7M397.1 339.0h.7M395.8 337.5h.7M401.2 337.8h.7M406.7 335.4h.7M410.2 336.4h.7M390.7 336.4h.7M388.3 338.8h.7M392.7 339.1h.7M419.1 339.3h.7M398.2 339.1h.7M395.4 336.0h.7M407.6 337.5h.7M401.2 337.8h.7M403.6 337.7h.7M399.0 338.9h.7M390.8 338.6h.7M400.5 338.4h.7M378.5 344.4h.7M398.0 337.6h.7M386.3 336.7h.7M382.7 337.1h.7M399.6 338.8h.7M391.5 337.5h.7M389.5 337.4h.7M394.9 337.4h.7M411.8 339.0h.7M386.6 338.5h.7M404.9 333.1h.7M392.5 333.4h.7M404.0 341.3h.7M398.7 337.1h.7M404.3 339.7h.7M401.1 337.2h.7M394.3 335.9h.7M399.3 340.5h.7M398.4 338.0h.7M391.8 336.4h.7M403.8 335.0h.7M398.0 337.9h.7M402.1 338.6h.7M390.3 340.8h.7M403.4 337.9h.7M403.4 338.5h.7M408.0 339.0h.7M411.9 339.7h.7M410.9 339.5h.7M405.2 340.7h.7M405.9 340.8h.7M393.9 336.8h.7M387.2 336.8h.7M404.7 336.4h.7M394.0 339.0h.7M400.7 338.4h.7M409.3 334.6h.7M400.0 340.8h.7M409.6 338.0h.7M385.3 337.0h.7M401.4 336.8h.7M405.3 338.2h.7M407.2 334.7h.7M411.3 340.0h.7M408.6 336.2h.7M387.5 338.8h.7M385.3 337.7h.7M400.1 338.2h.7M401.1 339.6h.7M400.5 336.9h.7M411.6 337.8h.7M410.9 339.2h.7M391.2 339.2h.7M400.6 336.9h.7M407.5 339.3h.7M394.9 334.8h.7M398.8 337.0h.7M394.8 334.3h.7M400.5 338.6h.7M395.0 337.5h.7M409.2 338.2h.7M404.8 337.4h.7M389.1 337.2h.7M391.5 337.3h.7M396.5 335.4h.7M404.6 336.2h.7M387.2 341.3h.7M396.5 339.4h.7M405.6 339.8h.7M390.7 337.5h.7M410.7 339.5h.7M391.1 340.1h.7M410.6 337.5h.7M383.1 340.1h.7M402.7 338.7h.7M393.3 333.6h.7M396.0 336.1h.7M390.2 337.9h.7M400.0 340.0h.7M399.2 338.3h.7M387.7 336.3h.7M385.0 337.5h.7M386.7 336.9h.7M409.7 338.2h.7M393.9 339.7h.7M404.0 338.8h.7M408.2 338.8h.7M408.4 336.0h.7M393.8 337.0h.7M389.5 336.6h.7M408.1 338.3h.7M390.0 340.0h.7M392.3 336.6h.7M409.3 335.9h.7M408.6 336.4h.7M395.8 333.4h.7M400.8 339.7h.7M391.7 335.1h.7M389.6 337.7h.7M385.6 335.9h.7M391.8 337.4h.7M402.2 337.6h.7M393.1 335.5h.7M395.4 336.6h.7M411.6 338.4h.7M406.8 339.4h.7M395.3 337.5h.7M393.6 338.9h.7M403.5 333.9h.7M389.1 337.0h.7M407.1 334.7h.7M394.2 337.8h.7M397.2 335.8h.7M388.8 336.6h.7M399.1 337.3h.7M404.1 340.6h.7M405.2 340.9h.7M390.8 334.9h.7M389.8 338.0h.7M406.6 342.5h.7M410.2 340.2h.7M407.8 336.6h.7M408.3 336.4h.7M390.5 334.3h.7M411.7 342.0h.7M389.5 337.9h.7M388.0 336.8h.7M401.5 338.8h.7M393.7 336.5h.7M409.2 339.1h.7M406.8 335.5h.7M402.2 340.4h.7M409.1 338.7h.7M390.8 334.9h.7M404.1 336.8h.7M392.5 338.0h.7M408.8 338.5h.7M393.8 337.1h.7M410.7 337.4h.7M406.8 339.4h.7M393.5 335.7h.7M408.1 340.7h.7M393.6 337.4h.7M396.6 337.5h.7M393.6 341.4h.7M390.7 336.4h.7M399.3 336.5h.7M399.8 338.6h.7M405.6 337.6h.7M396.8 337.7h.7M388.2 339.6h.7M405.2 338.5h.7M403.3 337.6h.7M408.9 340.1h.7M396.8 340.2h.7M405.0 336.7h.7M409.2 338.3h.7M392.6 337.2h.7M397.3 336.6h.7M402.6 337.1h.7M411.2 336.5h.7M407.5 339.7h.7M392.5 338.7h.7M402.2 332.2h.7M378.5 339.6h.7M402.4 337.8h.7M410.8 341.5h.7M397.5 339.0h.7M405.3 335.4h.7M399.8 334.6h.7M395.1 337.3h.7M404.4 337.1h.7M394.2 339.1h.7M397.3 335.0h.7M402.0 337.0h.7M407.9 336.8h.7M397.1 336.0h.7M399.4 338.3h.7M409.1 337.9h.7M397.4 339.5h.7M397.7 336.6h.7M405.8 339.5h.7M412.0 337.2h.7M399.8 339.4h.7M407.3 340.6h.7M386.8 338.6h.7M402.5 336.3h.7M409.1 341.5h.7M391.8 336.3h.7M393.5 338.0h.7M397.8 338.4h.7M408.3 336.1h.7M392.9 338.6h.7M399.8 338.1h.7M394.1 338.0h.7M388.0 336.2h.7M410.5 339.9h.7M387.4 341.1h.7M405.1 336.0h.7M387.0 337.9h.7M397.6 336.5h.7M391.9 335.7h.7M405.1 337.2h.7M396.5 342.3h.7M393.1 338.2h.7M405.6 336.9h.7M392.7 334.1h.7M389.4 340.0h.7M395.8 335.8h.7M390.6 338.4h.7M396.9 337.7h.7M391.6 338.3h.7M388.0 336.0h.7M393.2 338.9h.7M406.5 337.1h.7M410.7 339.9h.7M414.0 341.0h.7M386.2 334.2h.7M397.9 342.3h.7M387.9 338.3h.7M413.3 336.5h.7M394.1 337.7h.7M399.7 334.6h.7M393.8 336.1h.7M395.5 337.2h.7M398.0 336.5h.7M392.1 336.8h.7M390.1 333.9h.7M402.8 338.6h.7M411.9 339.0h.7M406.6 339.9h.7M390.2 340.0h.7M395.9 336.6h.7M409.6 339.3h.7M394.6 336.2h.7M407.1 340.2h.7M393.4 339.7h.7M390.9 338.4h.7M402.5 340.8h.7M400.9 337.6h.7M394.5 337.5h.7M395.5 337.9h.7M400.8 336.6h.7M389.1 335.9h.7M397.5 337.4h.7M394.0 339.1h.7M406.4 335.5h.7M408.3 338.6h.7M392.6 339.4h.7M402.7 335.3h.7M397.8 337.6h.7M393.5 337.5h.7M403.9 337.3h.7M398.9 338.7h.7M398.9 338.1h.7M401.8 336.2h.7M393.7 338.2h.7M394.1 336.8h.7M402.4 339.5h.7M411.3 338.1h.7M400.2 338.1h.7M401.1 336.5h.7M409.4 337.1h.7M385.5 340.1h.7M400.2 340.1h.7M393.3 336.3h.7M402.0 338.5h.7M392.5 340.0h.7M387.4 334.7h.7M387.0 332.9h.7M400.5 338.5h.7M398.6 338.0h.7M399.2 339.2h.7M394.8 338.6h.7M411.4 338.3h.7M407.2 335.2h.7M392.7 339.2h.7M403.9 331.5h.7M404.4 342.5h.7M399.7 340.4h.7M391.5 340.8h.7M403.6 339.4h.7M401.3 339.5h.7M387.4 335.4h.7M391.4 336.6h.7M407.5 336.4h.7M380.9 337.2h.7M389.5 337.1h.7M395.3 337.9h.7M399.8 338.0h.7M393.7 336.9h.7M390.0 337.1h.7M387.0 339.1h.7M398.3 338.2h.7M389.1 336.6h.7M406.7 341.4h.7M411.0 336.0h.7M408.4 335.6h.7M393.7 339.5h.7M411.8 338.0h.7M391.5 339.4h.7M385.6 338.5h.7M408.5 337.2h.7M405.1 342.8h.7M401.2 334.7h.7M396.9 341.0h.7M393.7 339.3h.7M410.8 338.6h.7M392.8 335.8h.7M390.8 336.3h.7M396.2 337.0h.7M398.1 336.5h.7M390.0 338.6h.7M395.6 340.5h.7M390.8 340.8h.7M397.9 339.1h.7M387.2 337.9h.7M405.4 335.5h.7M400.5 338.8h.7M393.2 338.6h.7M403.8 338.3h.7M400.4 336.7h.7M405.2 339.6h.7M401.0 338.8h.7M403.7 334.5h.7M394.9 338.9h.7M388.6 339.0h.7M409.3 340.4h.7M410.0 337.3h.7M404.5 332.6h.7M385.7 339.8h.7M387.3 337.0h.7M395.0 335.4h.7M401.4 339.2h.7M402.5 342.0h.7M411.5 338.7h.7M400.7 338.0h.7M396.1 335.3h.7M390.0 337.5h.7M391.3 340.2h.7M407.2 336.1h.7M399.9 341.9h.7M396.2 339.5h.7M398.9 336.0h.7M403.3 335.4h.7M406.3 338.8h.7M387.9 338.9h.7M389.3 340.6h.7M408.4 340.2h.7M392.5 336.8h.7M388.9 339.5h.7M397.4 339.4h.7M398.7 340.4h.7M389.1 338.0h.7M393.7 335.5h.7M406.9 336.6h.7M396.7 340.6h.7M391.7 338.2h.7M404.6 332.6h.7M405.3 339.9h.7M392.5 337.4h.7M395.6 339.5h.7M408.7 336.8h.7M388.6 338.7h.7M392.2 337.0h.7M396.3 336.1h.7M406.8 339.1h.7M385.2 337.0h.7M411.0 337.4h.7M398.6 340.3h.7M403.2 340.0h.7M398.7 338.1h.7M386.9 337.6h.7M401.7 337.8h.7M393.8 338.4h.7M402.7 334.6h.7M392.6 339.6h.7M396.8 334.8h.7M386.5 337.8h.7M387.4 340.2h.7M393.9 337.1h.7M397.2 340.1h.7M388.1 337.4h.7M411.5 336.5h.7M400.8 336.5h.7M403.5 339.3h.7M391.5 334.3h.7M408.5 339.8h.7M388.7 336.7h.7M394.5 335.2h.7M388.2 337.1h.7M405.6 338.8h.7M392.9 341.2h.7M403.8 336.8h.7M397.8 340.0h.7M386.0 336.9h.7M406.3 340.4h.7M387.2 338.8h.7M392.4 336.7h.7M403.7 338.8h.7M395.2 340.8h.7M397.0 340.3h.7M401.1 339.3h.7M390.0 338.4h.7M397.8 336.9h.7M399.6 338.0h.7M393.4 337.8h.7M395.3 337.5h.7M397.6 334.5h.7M403.1 338.1h.7M409.1 337.8h.7M395.8 337.7h.7M398.8 340.0h.7M391.5 340.1h.7M409.2 336.1h.7M386.8 339.7h.7M391.4 336.4h.7M392.2 337.1h.7M404.0 337.9h.7M408.9 338.4h.7M411.8 338.4h.7M410.9 339.0h.7M410.0 338.7h.7M403.3 340.5h.7M404.3 341.9h.7M405.0 339.7h.7M390.8 340.4h.7M396.0 337.4h.7M400.4 342.4h.7M392.1 337.2h.7M408.0 339.7h.7M396.5 338.7h.7M393.1 339.4h.7M407.8 341.7h.7M389.4 338.4h.7M391.7 336.2h.7M392.5 335.9h.7M387.1 336.1h.7M395.3 335.7h.7M399.0 336.1h.7M393.9 338.2h.7M400.1 337.2h.7M391.1 337.7h.7M391.1 340.1h.7M395.6 339.4h.7M403.5 337.5h.7M408.5 335.4h.7M403.4 339.6h.7M400.9 338.3h.7M394.3 339.9h.7M413.7 338.2h.7M391.4 337.2h.7M396.6 337.4h.7M385.0 338.4h.7M400.2 340.0h.7M386.3 342.6h.7M404.1 340.1h.7M408.9 337.6h.7M395.4 335.6h.7M407.9 339.2h.7M385.5 341.6h.7M398.8 341.8h.7M400.3 338.6h.7M391.7 339.5h.7M386.5 335.3h.7M399.7 336.1h.7M389.6 338.4h.7M406.1 339.5h.7M404.4 334.7h.7M400.3 340.8h.7M391.4 338.5h.7M405.2 333.9h.7M404.6 337.5h.7M399.4 337.3h.7M385.4 339.4h.7M409.9 336.2h.7M397.8 339.2h.7M388.9 340.7h.7M397.9 336.8h.7M409.1 333.6h.7M389.0 337.4h.7M385.0 336.0h.7M401.4 339.3h.7M391.0 337.9h.7M395.8 335.3h.7M397.4 339.5h.7M405.2 336.7h.7M396.8 338.4h.7M402.9 335.8h.7M394.3 342.5h.7M403.7 337.2h.7M409.0 337.3h.7M385.8 337.2h.7M394.6 335.2h.7M385.8 338.2h.7M387.9 337.5h.7M393.1 338.7h.7M397.1 337.7h.7M400.6 333.4h.7M406.6 336.8h.7M400.1 337.0h.7M388.4 335.9h.7M403.9 336.4h.7M410.6 338.6h.7M404.4 337.0h.7M399.2 336.6h.7M404.2 339.0h.7M411.2 335.5h.7M411.0 340.0h.7M402.0 339.4h.7M396.3 338.0h.7M395.9 339.9h.7M403.5 338.2h.7M408.5 337.2h.7M395.9 340.1h.7M378.2 336.2h.7M407.4 339.5h.7M398.3 339.4h.7M401.7 334.7h.7M389.8 338.6h.7M410.6 334.7h.7M407.5 335.2h.7M392.5 335.5h.7M409.5 334.4h.7M408.6 337.8h.7M391.4 334.6h.7M385.2 341.7h.7M392.2 339.5h.7M405.6 337.8h.7M394.4 337.4h.7M388.9 337.0h.7M392.5 339.3h.7M395.2 336.9h.7M407.3 334.5h.7M398.8 338.8h.7M397.4 334.6h.7M410.3 340.5h.7M391.2 337.4h.7M399.9 339.3h.7M407.1 336.7h.7M385.8 339.9h.7M385.3 337.5h.7M406.2 336.9h.7M405.1 338.3h.7M390.6 338.7h.7M389.6 338.9h.7M410.2 335.7h.7M402.4 337.4h.7M410.4 339.0h.7M398.5 336.4h.7M394.7 337.0h.7M411.6 344.4h.7M389.3 336.1h.7M403.6 339.2h.7M410.5 337.5h.7M403.9 337.7h.7M408.2 337.9h.7M402.7 336.6h.7M395.2 339.8h.7M392.4 338.7h.7M399.3 336.9h.7M387.8 337.7h.7M409.6 340.3h.7M402.3 341.4h.7M406.0 336.3h.7M400.4 338.6h.7M409.1 334.6h.7M399.4 340.1h.7M386.4 337.7h.7M395.4 339.9h.7M402.9 336.1h.7M391.2 336.8h.7M388.4 337.7h.7M392.1 341.4h.7M396.5 335.9h.7M404.8 337.4h.7M384.3 337.8h.7M404.9 336.7h.7M407.2 337.8h.7M399.0 337.6h.7M398.1 337.4h.7M397.9 335.4h.7M402.5 336.9h.7M410.3 338.5h.7M400.4 336.1h.7M386.4 338.9h.7M394.9 337.1h.7M392.2 335.7h.7M404.5 336.5h.7M387.5 335.4h.7M403.3 337.2h.7M412.4 338.6h.7M388.5 338.8h.7M394.3 339.6h.7M388.6 336.9h.7M411.8 336.9h.7M385.9 335.7h.7M405.8 339.3h.7M404.1 343.1h.7M400.1 335.7h.7M394.2 337.5h.7M386.9 335.2h.7M396.0 335.4h.7M410.6 336.2h.7M405.5 337.4h.7M403.6 334.0h.7M410.1 336.3h.7M397.6 337.1h.7M401.1 338.5h.7M409.4 337.4h.7M391.0 336.7h.7M389.6 335.4h.7M395.0 339.3h.7M410.6 338.2h.7M397.1 335.9h.7M391.0 336.6h.7M392.9 338.9h.7M387.1 339.3h.7M388.1 339.4h.7M397.7 336.5h.7M406.5 335.0h.7M390.1 338.2h.7M395.2 336.2h.7M400.6 335.7h.7M396.9 336.6h.7M403.7 337.7h.7M409.1 335.8h.7M399.7 334.0h.7M403.7 338.8h.7M400.6 340.0h.7M405.9 342.3h.7M381.9 339.2h.7M410.4 341.0h.7M387.2 338.3h.7M403.3 337.4h.7M397.7 336.8h.7M392.9 336.2h.7M397.2 339.9h.7M401.6 336.3h.7M411.4 337.1h.7M399.1 337.7h.7M408.3 339.3h.7M399.9 342.7h.7M388.6 337.8h.7M388.4 339.1h.7M397.6 338.7h.7" fill="none" stroke="#222" stroke-width="0.75" opacity="1.0" filter="url(#bl)"/>
<path d="M390.8 339.5h.7M387.9 338.1h.7M398.6 336.7h.7M404.4 338.3h.7M394.9 340.8h.7M387.3 336.9h.7M407.2 335.9h.7M389.0 339.2h.7M396.5 340.4h.7M396.2 338.1h.7M398.6 339.0h.7M407.2 335.8h.7M397.2 336.8h.7M401.0 338.9h.7M401.5 339.3h.7M392.8 338.8h.7M402.2 336.9h.7M395.1 338.4h.7M406.2 338.6h.7M389.6 340.5h.7M402.6 335.0h.7M398.0 339.7h.7M399.9 340.4h.7M397.9 338.1h.7M400.3 337.1h.7M408.2 335.5h.7M397.3 336.7h.7M392.3 339.5h.7M388.0 338.8h.7M395.9 338.0h.7M387.6 340.2h.7M404.4 337.3h.7M402.2 336.9h.7M396.9 340.7h.7M399.2 337.0h.7M405.9 337.9h.7M404.4 341.2h.7M395.2 334.9h.7M407.8 340.7h.7M391.7 338.7h.7M395.5 338.5h.7M393.9 337.7h.7M407.1 337.6h.7M392.0 338.6h.7M398.8 337.3h.7M398.8 338.0h.7M390.6 340.1h.7M387.4 337.1h.7M389.7 335.5h.7M398.0 337.6h.7M402.8 339.4h.7M392.6 338.6h.7M395.0 337.9h.7M387.0 338.0h.7M403.4 338.5h.7M402.2 338.6h.7M387.5 339.9h.7M407.5 337.9h.7M399.6 337.7h.7M390.5 338.1h.7M389.8 336.4h.7M397.3 340.5h.7M402.0 338.6h.7M391.0 337.4h.7M399.8 340.1h.7M394.3 337.9h.7M393.0 337.6h.7M387.4 336.4h.7M396.3 337.6h.7M393.2 337.0h.7M397.6 336.8h.7M405.1 336.3h.7M390.7 337.9h.7M387.6 335.6h.7M392.7 336.7h.7M392.3 337.9h.7M399.9 339.2h.7M394.1 340.2h.7M400.7 338.8h.7M392.1 337.8h.7M398.4 335.8h.7M399.0 338.5h.7M402.4 337.3h.7M388.7 337.7h.7M394.2 337.9h.7M403.2 337.4h.7M389.6 339.5h.7M408.6 340.6h.7M403.4 337.5h.7M405.4 337.8h.7M396.6 339.1h.7M399.0 338.5h.7M407.5 340.2h.7M399.4 338.3h.7M400.0 337.8h.7M411.3 336.1h.7M393.1 336.0h.7M405.1 340.0h.7M394.4 338.0h.7M407.5 340.7h.7M406.0 336.9h.7M393.4 338.4h.7M392.2 338.8h.7M400.3 338.5h.7M408.7 338.4h.7M388.0 337.5h.7M390.7 337.3h.7M402.2 336.6h.7M398.9 339.7h.7M395.3 336.4h.7M389.4 339.2h.7M402.7 336.5h.7M400.3 337.6h.7M404.8 338.7h.7M387.7 337.7h.7M389.9 338.3h.7M406.8 336.3h.7M406.3 339.6h.7M403.6 338.1h.7M411.6 337.9h.7M404.3 337.3h.7M406.2 338.0h.7M387.5 341.9h.7M404.0 343.3h.7M389.2 336.7h.7M407.4 337.4h.7M395.7 339.2h.7M399.5 337.2h.7M410.1 338.2h.7M392.9 341.0h.7M405.3 339.4h.7M398.0 334.9h.7M391.9 340.3h.7M399.8 334.5h.7M405.6 338.9h.7M388.1 338.8h.7M398.3 340.3h.7M396.0 338.8h.7M407.3 341.7h.7M398.5 337.4h.7M397.7 338.2h.7M398.9 337.0h.7M401.4 337.9h.7M398.3 336.4h.7M392.5 337.1h.7M397.8 335.8h.7M399.8 334.9h.7M399.8 334.9h.7M404.5 338.4h.7M399.9 339.0h.7M390.0 339.9h.7M388.7 338.3h.7M387.5 338.8h.7M407.3 336.2h.7M391.6 337.9h.7M402.8 335.0h.7M392.0 338.5h.7M393.4 338.0h.7M389.5 337.0h.7M404.0 337.4h.7M393.0 337.8h.7M404.0 336.4h.7M399.0 335.4h.7M391.6 338.6h.7M394.2 339.0h.7M410.7 339.5h.7M408.1 338.6h.7M390.0 340.1h.7M398.8 338.8h.7M397.7 339.7h.7M390.1 336.5h.7M394.6 337.3h.7M405.5 339.7h.7M408.4 338.9h.7M387.2 339.1h.7M397.3 335.1h.7M388.1 336.6h.7M397.7 336.6h.7M404.3 337.6h.7M397.8 340.6h.7M392.5 340.2h.7M399.9 337.4h.7M397.7 341.3h.7M403.7 338.7h.7M404.3 334.8h.7M396.8 337.8h.7M394.5 340.1h.7M391.8 338.5h.7M406.6 338.2h.7M406.4 336.0h.7M405.6 336.4h.7M395.7 338.2h.7M408.2 338.3h.7M398.6 338.6h.7M398.6 336.4h.7M393.1 339.5h.7M391.6 335.4h.7M400.1 337.9h.7M388.2 338.6h.7M391.0 340.2h.7M403.2 334.7h.7M389.2 338.1h.7M389.9 337.5h.7M394.0 338.5h.7M394.7 338.4h.7M403.2 335.8h.7M391.5 340.4h.7M403.8 337.7h.7M397.6 336.7h.7M396.6 338.2h.7M399.0 337.2h.7M389.7 340.0h.7M397.2 336.6h.7M400.8 335.7h.7M392.0 337.8h.7M403.6 337.9h.7M388.8 339.4h.7M401.4 337.1h.7M401.8 336.4h.7M401.5 337.2h.7M387.1 339.4h.7M388.2 337.2h.7M399.8 339.0h.7M393.6 337.4h.7M400.2 342.5h.7M390.1 338.9h.7M396.5 336.8h.7M388.6 339.8h.7M392.1 339.7h.7M398.2 339.0h.7M401.5 341.9h.7M401.4 337.6h.7M399.6 338.4h.7M399.4 342.0h.7M387.8 337.2h.7M401.6 337.3h.7M405.8 337.0h.7M394.5 338.5h.7M406.7 341.5h.7M401.8 339.1h.7M402.2 338.5h.7M404.9 337.0h.7M397.4 338.4h.7M387.1 336.3h.7M398.8 337.6h.7M407.1 338.2h.7M406.4 337.8h.7M392.8 336.1h.7M388.6 337.8h.7M398.4 339.3h.7M402.3 337.5h.7M406.7 335.9h.7M408.2 339.7h.7M406.9 339.0h.7M397.6 341.9h.7M392.3 339.9h.7M406.2 338.5h.7M405.8 340.1h.7M388.0 336.4h.7M402.3 339.4h.7M389.5 338.1h.7M395.4 338.5h.7M389.6 336.1h.7M403.1 339.2h.7M394.9 334.4h.7M391.6 338.9h.7M408.5 338.1h.7M404.5 335.6h.7M388.5 339.7h.7M405.4 338.7h.7M401.5 335.8h.7M406.7 339.6h.7M402.8 340.0h.7M389.0 338.3h.7M395.1 338.9h.7M405.6 337.8h.7M403.0 337.8h.7M400.3 339.7h.7M405.9 342.3h.7M387.0 336.5h.7M391.0 341.3h.7M406.8 339.3h.7M403.3 339.4h.7M401.5 338.6h.7M405.1 336.2h.7M388.7 338.7h.7M392.6 338.0h.7M403.8 338.0h.7M408.0 338.2h.7M405.8 338.4h.7M391.8 336.6h.7M407.7 339.1h.7M396.1 340.6h.7M391.5 337.0h.7M407.6 336.9h.7M391.7 338.4h.7M397.0 337.0h.7M389.7 339.1h.7M393.2 338.5h.7M394.8 337.0h.7M402.2 337.7h.7M401.6 338.4h.7M407.3 338.2h.7M399.4 336.1h.7M387.3 339.3h.7M400.6 339.4h.7M392.7 338.3h.7M403.4 336.0h.7M404.3 336.5h.7M400.3 335.0h.7M407.4 337.6h.7M394.4 336.0h.7M404.7 337.6h.7M396.7 337.8h.7M398.7 336.6h.7M407.1 338.3h.7M412.9 336.1h.7M407.9 340.0h.7M389.1 340.7h.7M404.0 337.7h.7M391.0 340.0h.7M405.6 338.1h.7M406.8 335.5h.7M391.9 339.0h.7M409.0 335.8h.7M403.6 334.4h.7M388.2 336.1h.7M389.1 334.8h.7M390.4 338.9h.7M393.1 337.0h.7M399.4 337.8h.7M403.2 338.3h.7M388.8 336.9h.7M408.2 334.7h.7M393.7 336.1h.7M398.3 340.1h.7M398.6 338.9h.7M391.2 337.3h.7M403.0 337.5h.7M395.0 337.3h.7M401.0 337.1h.7M388.2 338.7h.7M399.1 336.8h.7M395.1 337.4h.7M401.0 339.1h.7M389.3 338.0h.7M389.1 337.8h.7M391.3 336.7h.7M395.3 338.0h.7M395.1 337.8h.7M396.9 339.1h.7M399.6 338.9h.7M393.6 336.5h.7M407.8 338.4h.7M389.6 338.6h.7M404.1 338.6h.7M400.6 336.8h.7M408.4 340.8h.7M398.1 339.2h.7M399.9 337.6h.7M400.1 335.8h.7M396.0 339.7h.7M397.1 338.7h.7M403.8 339.9h.7M404.6 338.7h.7M394.0 336.5h.7M409.0 336.7h.7M402.8 336.5h.7M390.7 338.3h.7M398.2 337.1h.7M398.7 339.8h.7M389.7 336.9h.7M407.5 335.0h.7M403.2 337.1h.7M390.1 339.6h.7M393.1 339.4h.7M407.8 338.1h.7M407.7 337.9h.7M387.8 339.5h.7M399.4 337.1h.7M408.4 339.3h.7M400.1 340.6h.7M401.0 338.9h.7M398.6 336.1h.7M397.7 335.3h.7M400.0 338.6h.7M400.0 335.0h.7M396.1 337.5h.7M393.5 341.6h.7M404.6 338.4h.7M402.7 336.8h.7M390.9 341.8h.7M398.9 337.2h.7M390.2 335.7h.7M383.7 335.5h.7M388.3 339.1h.7M397.6 336.3h.7M404.4 339.4h.7M407.2 339.0h.7M392.0 339.3h.7M407.4 333.5h.7M394.4 337.7h.7M389.8 339.2h.7M388.0 340.1h.7M394.5 338.0h.7M387.9 333.7h.7M408.2 335.8h.7M397.1 340.0h.7M390.5 338.4h.7M389.1 337.5h.7M398.7 335.3h.7M397.7 337.7h.7M389.0 334.1h.7M401.5 340.4h.7M402.6 338.4h.7M394.0 336.7h.7M397.7 335.9h.7M392.2 340.1h.7M398.7 341.3h.7M402.4 337.9h.7M395.7 337.2h.7M390.4 336.9h.7M392.7 337.3h.7M399.9 337.3h.7M393.6 336.0h.7M397.3 334.1h.7M398.4 337.6h.7M398.8 337.5h.7M389.9 339.3h.7M398.1 336.0h.7M386.4 337.9h.7M406.4 338.9h.7M405.0 335.8h.7M408.6 339.8h.7M400.2 337.2h.7M397.3 336.8h.7M401.5 337.0h.7M391.3 337.5h.7M404.8 340.3h.7M401.2 337.0h.7M394.2 340.0h.7M400.7 337.7h.7M414.0 336.3h.7M407.8 335.7h.7M405.6 337.8h.7M396.1 335.6h.7M407.0 339.9h.7M392.1 339.5h.7M397.8 334.6h.7M390.3 338.6h.7M395.7 337.8h.7M392.5 341.2h.7M398.4 339.3h.7M387.8 338.9h.7M397.0 337.0h.7M408.2 338.3h.7M390.6 334.9h.7M406.8 338.2h.7M399.0 338.8h.7M400.5 338.3h.7M387.5 338.8h.7M394.2 341.4h.7M407.0 337.7h.7M400.9 338.6h.7M394.1 337.6h.7M398.6 340.7h.7M391.5 339.3h.7M405.3 340.6h.7M394.7 339.4h.7M402.1 337.6h.7M402.6 337.3h.7M398.5 340.4h.7M389.9 335.3h.7M391.7 337.9h.7M401.9 338.2h.7M397.9 338.5h.7M397.5 338.1h.7M399.4 339.2h.7M391.6 335.9h.7M400.1 337.9h.7M402.3 339.0h.7M397.7 337.9h.7M392.3 338.0h.7M403.1 341.5h.7M397.2 337.5h.7M387.5 337.7h.7M392.6 338.0h.7M392.6 336.3h.7M399.6 335.9h.7M397.1 337.0h.7M408.9 335.6h.7M405.6 337.4h.7M394.6 338.4h.7M404.0 339.7h.7M400.0 337.6h.7M404.1 338.2h.7M394.7 338.2h.7M406.1 338.6h.7M397.1 340.3h.7M403.2 336.0h.7M407.3 335.8h.7M398.6 335.6h.7M401.0 339.9h.7M405.2 337.4h.7M390.8 336.6h.7M397.6 339.3h.7M390.4 337.8h.7M398.4 335.1h.7M388.5 335.4h.7M390.9 337.8h.7M406.4 337.9h.7M403.4 336.2h.7M387.7 338.7h.7M389.9 336.0h.7M391.2 337.4h.7M398.9 336.6h.7M405.5 337.5h.7M407.6 340.1h.7M399.0 337.9h.7M396.6 337.7h.7M393.1 338.0h.7M394.5 339.8h.7M387.5 342.2h.7M407.5 339.4h.7M396.9 338.1h.7M396.3 337.0h.7M390.2 337.9h.7M400.1 337.3h.7M406.3 337.8h.7M401.7 337.2h.7M396.0 338.6h.7M401.4 339.3h.7M397.3 339.6h.7M394.3 340.3h.7M389.1 333.8h.7M391.1 335.5h.7M408.4 338.9h.7M397.0 338.1h.7M392.7 337.5h.7M388.6 338.2h.7M400.6 338.7h.7M391.2 336.9h.7M397.7 337.8h.7M408.9 337.2h.7M397.2 336.7h.7M398.6 337.5h.7M389.6 339.0h.7M392.3 337.5h.7M394.9 337.5h.7M397.4 338.3h.7M390.6 337.9h.7M398.3 338.9h.7M397.9 336.8h.7M390.8 337.2h.7M391.3 337.2h.7M409.6 334.9h.7M390.1 339.0h.7M405.2 337.5h.7M397.6 336.9h.7M401.8 339.2h.7M387.7 338.1h.7M403.4 338.5h.7M401.7 339.0h.7M390.2 337.6h.7M400.4 340.1h.7M398.5 338.4h.7M393.7 335.8h.7M389.8 336.9h.7M391.5 333.7h.7M398.3 335.9h.7M398.8 337.2h.7M407.2 340.0h.7M395.2 339.6h.7M403.4 337.2h.7M400.9 335.7h.7M390.1 338.4h.7M387.6 340.0h.7M391.4 339.4h.7M387.7 337.1h.7M394.6 339.8h.7M408.0 342.7h.7M390.6 338.8h.7M388.4 336.3h.7M408.6 336.5h.7M393.3 339.2h.7M402.4 340.4h.7M393.0 336.2h.7M397.8 338.8h.7M390.8 333.9h.7M396.8 337.9h.7M408.7 338.0h.7M399.9 336.8h.7M398.4 342.1h.7M401.2 338.4h.7M392.2 339.3h.7M399.2 336.7h.7M388.2 337.3h.7M400.7 337.8h.7M391.9 337.4h.7M394.5 338.4h.7M391.7 338.2h.7M404.5 334.3h.7M390.6 334.1h.7M405.4 339.8h.7M400.9 335.6h.7M391.9 338.3h.7M404.8 336.0h.7M392.4 337.8h.7M388.2 335.3h.7M403.6 338.8h.7M405.0 337.2h.7M406.4 339.9h.7M391.3 340.6h.7M408.5 337.1h.7M400.4 334.7h.7M392.8 337.0h.7M402.4 338.7h.7M406.3 338.1h.7M405.6 337.2h.7M404.4 337.2h.7M404.4 340.8h.7M387.9 336.0h.7M398.2 338.5h.7M393.8 336.1h.7M402.6 342.1h.7M409.5 337.5h.7M391.4 338.7h.7M391.0 338.4h.7M393.2 333.6h.7M393.8 340.3h.7M399.0 340.9h.7M392.3 336.8h.7M395.3 338.4h.7M392.8 341.1h.7M414.2 338.6h.7M401.1 338.5h.7M398.4 337.8h.7M403.0 340.0h.7M395.7 335.9h.7M406.6 340.1h.7M393.9 338.5h.7M399.6 338.2h.7M392.2 339.3h.7M398.8 340.4h.7M400.8 337.5h.7M381.9 335.0h.7M389.5 337.8h.7M395.5 339.5h.7M407.5 337.6h.7M407.6 338.5h.7M393.8 339.9h.7M406.6 338.3h.7M397.7 337.4h.7M388.8 339.3h.7M387.2 334.4h.7M408.8 339.1h.7M400.3 337.8h.7M395.2 339.2h.7M408.6 337.1h.7M408.2 335.3h.7M403.1 338.7h.7M396.2 337.9h.7M408.6 337.6h.7M402.0 340.6h.7M404.1 337.6h.7M398.8 337.8h.7M389.8 338.3h.7M401.5 340.8h.7M402.1 336.7h.7M395.3 337.2h.7M408.0 339.0h.7M397.4 339.1h.7M398.6 338.9h.7M407.2 340.2h.7M401.8 335.5h.7M389.5 338.9h.7M392.3 340.7h.7M389.4 337.7h.7M393.1 336.3h.7M390.2 338.8h.7M397.2 337.5h.7M399.2 337.6h.7M403.9 340.4h.7M401.2 340.7h.7M398.0 336.8h.7M397.4 337.7h.7M397.4 337.5h.7M395.0 339.3h.7M402.3 339.6h.7M387.0 338.1h.7M392.8 336.5h.7M404.4 336.0h.7M403.2 340.3h.7M405.6 339.1h.7M395.3 339.1h.7M398.0 337.5h.7M388.0 340.2h.7M392.2 338.7h.7M407.1 337.9h.7M389.7 340.3h.7M393.0 338.0h.7M405.1 337.3h.7M390.2 336.6h.7M397.8 337.5h.7M407.2 338.1h.7M391.2 337.0h.7M396.4 340.6h.7M387.3 339.4h.7M397.2 341.9h.7M403.0 340.3h.7M405.4 337.3h.7M389.6 335.5h.7M402.4 342.2h.7M398.6 340.3h.7M392.8 337.9h.7M398.6 336.5h.7M399.2 335.2h.7M398.8 339.6h.7M399.4 338.9h.7M405.1 336.5h.7M399.8 337.2h.7M402.5 335.4h.7M405.8 338.7h.7M395.7 336.8h.7M405.5 335.8h.7M395.1 335.4h.7M397.7 335.7h.7M388.8 337.9h.7M391.7 335.1h.7M402.1 338.8h.7M404.3 337.5h.7M405.4 337.2h.7M396.7 336.6h.7M402.6 341.2h.7M404.9 336.2h.7M390.8 339.9h.7M389.4 339.3h.7M394.4 337.5h.7M408.0 336.1h.7M389.4 338.7h.7M401.2 338.4h.7M393.5 337.2h.7M390.9 336.6h.7M388.8 337.9h.7M389.4 338.6h.7M401.3 337.3h.7M400.2 338.1h.7M414.4 338.4h.7M404.4 340.1h.7M393.8 336.4h.7M398.1 341.5h.7M402.8 337.1h.7M387.8 338.0h.7M389.5 335.0h.7M390.7 340.7h.7M395.5 337.8h.7M398.5 334.6h.7M403.6 336.2h.7M403.6 337.9h.7M408.5 336.0h.7M398.4 337.2h.7M402.4 339.7h.7M409.9 334.9h.7M393.2 339.5h.7M388.3 340.3h.7M398.1 337.8h.7M395.6 337.8h.7M391.1 342.6h.7M393.1 337.8h.7M399.0 339.0h.7M397.4 341.0h.7M387.0 337.8h.7M390.4 336.9h.7M404.2 337.8h.7M397.4 339.6h.7M408.5 338.4h.7M402.7 335.6h.7M402.4 339.1h.7M402.6 341.9h.7M402.3 335.6h.7M390.1 337.7h.7M404.5 336.1h.7M407.2 339.2h.7M398.0 337.0h.7M408.8 340.3h.7M404.1 336.0h.7M405.4 338.4h.7M388.0 340.9h.7M386.9 339.2h.7M399.2 338.6h.7M396.5 336.4h.7M390.6 338.3h.7M387.6 334.2h.7M395.3 337.8h.7M398.3 333.9h.7M395.6 338.7h.7M388.0 337.7h.7M401.4 340.0h.7M402.4 339.2h.7M400.0 338.8h.7M389.9 338.4h.7M401.2 337.3h.7M391.1 336.6h.7M405.2 340.1h.7M389.4 341.1h.7M395.7 338.9h.7M404.9 337.3h.7M405.4 338.2h.7M395.3 337.6h.7M396.0 339.9h.7M408.0 334.6h.7M396.2 339.6h.7M405.9 336.6h.7M399.0 337.9h.7M381.5 336.8h.7M405.4 338.8h.7M399.1 341.4h.7M401.7 339.7h.7M394.1 336.3h.7M388.1 338.3h.7M401.3 339.3h.7M403.4 340.0h.7M389.4 338.4h.7M391.9 337.3h.7M394.8 339.5h.7M400.2 336.5h.7M391.9 341.4h.7M405.2 338.1h.7M394.2 338.7h.7M394.9 336.4h.7M388.9 338.1h.7M401.3 337.8h.7M397.3 337.0h.7M390.1 341.1h.7M408.5 337.7h.7M402.1 336.4h.7M405.1 339.7h.7M397.9 337.2h.7M404.9 335.4h.7M403.8 339.3h.7M405.8 339.6h.7M407.8 338.0h.7M394.3 340.8h.7M393.4 336.6h.7M401.9 339.6h.7M394.1 338.9h.7M393.4 336.4h.7M397.7 339.1h.7M408.7 337.6h.7M391.5 338.4h.7M402.7 337.9h.7M397.5 336.8h.7M394.3 339.6h.7M401.2 339.5h.7M404.3 336.8h.7M395.1 336.6h.7M402.2 339.3h.7M391.1 340.5h.7M399.0 337.4h.7M395.5 337.6h.7M392.0 340.2h.7M399.5 336.3h.7M394.4 338.5h.7M393.5 334.2h.7M396.5 337.1h.7M390.4 339.9h.7M390.7 336.3h.7M393.9 336.5h.7M396.5 337.4h.7M396.5 338.7h.7M405.2 339.9h.7M403.8 337.4h.7M411.1 335.5h.7M401.3 341.1h.7M395.1 337.6h.7M392.6 337.9h.7M397.9 339.3h.7M398.3 338.3h.7M404.7 337.8h.7M414.8 338.8h.7M397.5 341.3h.7M394.8 339.0h.7M389.3 340.3h.7M386.1 338.5h.7M406.2 334.8h.7M391.0 338.2h.7M399.7 338.3h.7M402.4 336.3h.7M403.3 335.3h.7M399.0 337.2h.7M388.6 340.4h.7M398.4 340.4h.7M399.5 339.5h.7M399.4 341.5h.7M390.9 340.2h.7M404.9 333.3h.7M391.6 338.8h.7M381.7 339.5h.7M388.8 338.1h.7M387.6 338.6h.7" fill="none" stroke="#222" stroke-width="0.75" opacity="1.0" filter="url(#bl)"/>
<path d="M385.0 340.8h.6M386.1 344.3h.6M411.8 336.8h.6M407.3 333.2h.6M418.8 339.2h.6M393.6 332.3h.6M393.5 334.5h.6M407.1 336.0h.6M394.6 336.8h.6M408.4 344.0h.6M411.8 332.9h.6M416.9 332.2h.6M385.2 340.9h.6M404.7 333.0h.6M417.9 341.8h.6M391.9 341.7h.6M389.3 338.3h.6M400.9 337.1h.6M386.7 341.1h.6M398.6 343.7h.6M385.2 335.3h.6M414.7 338.1h.6M388.2 343.3h.6M389.1 338.6h.6M402.7 338.4h.6M393.0 334.3h.6M401.4 338.8h.6M416.4 340.5h.6M385.9 341.9h.6M407.9 336.6h.6M418.3 341.5h.6M402.7 334.5h.6M388.9 341.5h.6M410.0 343.1h.6M384.4 340.1h.6M400.4 331.7h.6M397.6 344.0h.6M391.8 343.6h.6M405.2 341.4h.6M397.9 343.2h.6" fill="none" stroke="#444" stroke-width="0.6" opacity="0.8"/>
<path d="M431.7 335.4h.6M437.0 340.6h.6M431.3 336.0h.6M436.1 335.3h.6M440.1 334.8h.6M439.3 338.7h.6M435.9 343.4h.6M430.6 340.0h.6" fill="none" stroke="#444" stroke-width="0.6" opacity="0.8"/>
<path d="M473.9 342.6h.7M482.5 337.2h.7M465.9 338.9h.7M462.3 337.5h.7M466.0 338.5h.7M474.6 336.7h.7M474.5 336.8h.7M469.9 340.8h.7M470.1 336.7h.7M460.1 339.3h.7M479.9 336.8h.7M462.0 339.5h.7M492.8 337.7h.7M485.8 339.5h.7M472.1 335.6h.7M461.6 337.0h.7M460.1 335.1h.7M463.9 335.5h.7M464.0 340.3h.7M469.3 336.8h.7M468.9 334.6h.7M466.0 338.7h.7M478.1 337.5h.7M467.6 338.7h.7M483.5 339.7h.7M473.3 341.8h.7M479.4 340.8h.7M468.8 340.2h.7M458.3 337.1h.7M466.0 334.5h.7M464.3 337.7h.7M476.5 336.8h.7M479.8 334.6h.7M472.7 338.2h.7M460.6 336.0h.7M471.5 338.9h.7M466.5 338.7h.7M476.9 337.2h.7M481.4 339.0h.7M466.9 340.3h.7M459.9 336.4h.7M454.5 338.2h.7M456.3 335.8h.7M451.7 339.3h.7M476.5 336.2h.7M459.2 337.5h.7M466.8 338.0h.7M477.9 335.6h.7M474.2 338.9h.7M461.2 341.0h.7M482.2 337.0h.7M468.0 338.6h.7M473.6 335.1h.7M472.9 335.9h.7M478.4 338.5h.7M469.7 339.3h.7M454.2 338.7h.7M485.5 338.9h.7M480.9 335.5h.7M469.0 336.4h.7M476.5 338.1h.7M469.9 340.4h.7M459.4 339.5h.7M467.6 336.5h.7M478.8 336.0h.7M474.2 339.5h.7M475.8 336.3h.7M462.4 342.2h.7M479.2 340.1h.7M480.5 340.9h.7M467.3 338.0h.7M467.0 334.9h.7M456.7 336.7h.7M455.3 338.2h.7M471.9 339.9h.7M480.4 336.8h.7M475.0 338.1h.7M469.2 339.4h.7M464.7 334.3h.7M468.1 338.7h.7M476.2 340.3h.7M482.8 335.8h.7M463.9 337.3h.7M479.2 338.0h.7M478.3 336.7h.7M467.5 335.6h.7M455.2 337.6h.7M469.2 336.5h.7M460.9 339.6h.7M462.3 338.1h.7M468.7 339.5h.7M459.5 339.9h.7M461.8 339.9h.7M470.5 336.4h.7M477.0 337.6h.7M470.6 337.2h.7M482.0 339.3h.7M461.4 338.1h.7M478.3 338.2h.7M478.3 340.8h.7M466.2 338.5h.7M478.5 339.9h.7M460.5 339.2h.7M473.6 337.4h.7M473.1 338.2h.7M461.6 339.2h.7M456.8 335.5h.7M460.8 336.3h.7M457.3 336.1h.7M472.9 337.9h.7M462.2 335.2h.7M481.2 340.8h.7M465.8 341.6h.7M478.5 336.8h.7M471.7 336.9h.7M465.8 340.1h.7M467.4 338.4h.7M463.0 340.1h.7M463.9 336.3h.7M476.6 338.5h.7M469.5 335.6h.7M481.2 338.0h.7M479.8 338.1h.7M473.3 337.0h.7M456.9 339.8h.7M465.0 335.8h.7M482.4 336.1h.7M460.8 339.7h.7M463.7 333.6h.7M460.3 338.2h.7M465.0 339.1h.7M479.3 339.6h.7M454.7 334.3h.7M457.7 335.9h.7M470.6 338.5h.7M498.2 338.5h.7M465.6 337.5h.7M475.0 338.0h.7M486.1 342.0h.7M473.7 339.0h.7M498.4 338.0h.7M472.2 338.9h.7M473.5 338.0h.7M483.5 340.0h.7M455.9 338.3h.7M484.9 337.4h.7M475.5 340.0h.7M465.4 338.8h.7M478.2 337.5h.7M464.7 339.5h.7M477.3 340.3h.7M461.8 338.3h.7M489.4 338.2h.7M476.6 340.4h.7M474.5 338.6h.7M475.9 335.3h.7M477.8 339.4h.7M455.3 335.9h.7M457.6 339.4h.7M485.3 336.2h.7M461.3 338.7h.7M477.8 336.4h.7M482.8 339.8h.7M480.3 336.6h.7M478.6 339.5h.7M454.2 337.1h.7M461.7 341.1h.7M477.8 341.1h.7M471.6 335.8h.7M477.1 340.2h.7M465.5 339.4h.7M474.1 338.7h.7M457.9 338.9h.7M460.9 335.7h.7M476.6 335.9h.7M469.4 337.7h.7M465.9 338.2h.7M461.0 341.3h.7M476.2 338.5h.7M476.3 338.4h.7M481.5 338.9h.7M461.4 336.4h.7M478.7 335.3h.7M467.4 339.3h.7M466.5 340.0h.7M481.4 338.5h.7M485.3 336.3h.7M455.8 335.4h.7M484.9 338.6h.7M457.1 340.5h.7M456.1 338.5h.7M494.6 338.3h.7M480.6 334.8h.7M477.9 338.4h.7M457.7 338.4h.7M483.2 338.1h.7M460.3 338.4h.7M455.1 339.9h.7M481.9 337.2h.7M467.6 339.2h.7" fill="none" stroke="#222" stroke-width="0.75" opacity="0.7" filter="url(#bl)"/>
<path d="M456.4 340.3h.6M477.3 332.0h.6M469.4 332.5h.6M475.7 335.8h.6M475.5 333.9h.6M487.0 339.9h.6M480.8 342.0h.6M469.7 332.6h.6M474.7 339.2h.6M481.1 338.7h.6M472.9 334.4h.6M460.6 333.2h.6M466.4 340.8h.6M456.3 337.3h.6M475.7 333.1h.6M457.9 343.8h.6M481.7 333.6h.6M489.4 337.3h.6M461.2 342.5h.6M468.1 334.9h.6" fill="none" stroke="#444" stroke-width="0.6" opacity="0.6"/>
<path d="M265.9 244.5 L293.3 250.6 L288.4 278.6 L268.2 280.2 Z" fill="none" stroke="#111" stroke-width="1" />
<path d="M340.4 245.4 L366.5 251.5 L359.8 279.2 L342.0 279.2 Z" fill="none" stroke="#111" stroke-width="1" />
<path d="M412.4 235.0 L438.4 234.5 L438.8 274.9 L408.9 276.6 Z" fill="none" stroke="#111" stroke-width="1" />
<path d="M484.5 234.6 L510.5 234.8 L507.9 276.9 L481.0 275.6 Z" fill="none" stroke="#111" stroke-width="1" />
<path d="M265.4 314.2 L293.1 321.3 L288.5 346.5 L266.9 349.6 Z" fill="none" stroke="#111" stroke-width="1" />
<path d="M340.2 315.2 L365.4 320.4 L360.8 346.5 L341.4 348.1 Z" fill="none" stroke="#111" stroke-width="1" />
<path d="M415.5 304.0 L439.0 302.4 L439.0 342.8 L418.0 345.8 L410.4 344.4 Z" fill="none" stroke="#111" stroke-width="1" />
<path d="M486.8 306.8 L510.5 304.8 L506.1 346.4 L487.0 348.0 L481.9 345.6 Z" fill="none" stroke="#111" stroke-width="1" />
<text x="253.50" y="362.30" font-size="2.6" text-anchor="middle" font-weight="normal" fill="#777" stroke="none">0</text>
<text x="273.50" y="362.30" font-size="2.6" text-anchor="middle" font-weight="normal" fill="#777" stroke="none">10²</text>
<text x="289.00" y="362.30" font-size="2.6" text-anchor="middle" font-weight="normal" fill="#777" stroke="none">10³</text>
<text x="304.50" y="362.30" font-size="2.6" text-anchor="middle" font-weight="normal" fill="#777" stroke="none">10⁴</text>
<text x="322.20" y="362.30" font-size="2.6" text-anchor="middle" font-weight="normal" fill="#777" stroke="none">0</text>
<text x="342.20" y="362.30" font-size="2.6" text-anchor="middle" font-weight="normal" fill="#777" stroke="none">10²</text>
<text x="357.70" y="362.30" font-size="2.6" text-anchor="middle" font-weight="normal" fill="#777" stroke="none">10³</text>
<text x="373.20" y="362.30" font-size="2.6" text-anchor="middle" font-weight="normal" fill="#777" stroke="none">10⁴</text>
<text x="392.20" y="362.30" font-size="2.6" text-anchor="middle" font-weight="normal" fill="#777" stroke="none">0</text>
<text x="412.20" y="362.30" font-size="2.6" text-anchor="middle" font-weight="normal" fill="#777" stroke="none">10²</text>
<text x="427.70" y="362.30" font-size="2.6" text-anchor="middle" font-weight="normal" fill="#777" stroke="none">10³</text>
<text x="443.20" y="362.30" font-size="2.6" text-anchor="middle" font-weight="normal" fill="#777" stroke="none">10⁴</text>
<text x="461.00" y="362.30" font-size="2.6" text-anchor="middle" font-weight="normal" fill="#777" stroke="none">0</text>
<text x="481.00" y="362.30" font-size="2.6" text-anchor="middle" font-weight="normal" fill="#777" stroke="none">10²</text>
<text x="496.50" y="362.30" font-size="2.6" text-anchor="middle" font-weight="normal" fill="#777" stroke="none">10³</text>
<text x="512.00" y="362.30" font-size="2.6" text-anchor="middle" font-weight="normal" fill="#777" stroke="none">10⁴</text>
<text x="3.00" y="391.30" font-size="13.8" text-anchor="start" font-weight="bold" fill="#000" >E</text>
<line x1="41.60" y1="385.30" x2="41.60" y2="506.30" stroke="#111" stroke-width="1" stroke-linecap="butt"/>
<line x1="41.10" y1="505.80" x2="279.50" y2="505.80" stroke="#111" stroke-width="1" stroke-linecap="butt"/>
<line x1="37.30" y1="505.80" x2="41.60" y2="505.80" stroke="#111" stroke-width="1" stroke-linecap="butt"/>
<text x="36.20" y="509.10" font-size="9.3" text-anchor="end" font-weight="normal" fill="#111" >0</text>
<line x1="37.30" y1="475.80" x2="41.60" y2="475.80" stroke="#111" stroke-width="1" stroke-linecap="butt"/>
<text x="36.20" y="479.10" font-size="9.3" text-anchor="end" font-weight="normal" fill="#111" >25</text>
<line x1="37.30" y1="445.80" x2="41.60" y2="445.80" stroke="#111" stroke-width="1" stroke-linecap="butt"/>
<text x="36.20" y="449.10" font-size="9.3" text-anchor="end" font-weight="normal" fill="#111" >50</text>
<line x1="37.30" y1="415.80" x2="41.60" y2="415.80" stroke="#111" stroke-width="1" stroke-linecap="butt"/>
<text x="36.20" y="419.10" font-size="9.3" text-anchor="end" font-weight="normal" fill="#111" >75</text>
<line x1="37.30" y1="385.80" x2="41.60" y2="385.80" stroke="#111" stroke-width="1" stroke-linecap="butt"/>
<text x="36.20" y="389.10" font-size="9.3" text-anchor="end" font-weight="normal" fill="#111" >100</text>
<text x="19.20" y="446.50" font-size="10" text-anchor="middle" font-weight="normal" fill="#111" transform="rotate(-90 19.20 446.50)" >%  WASp+</text>
<line x1="50.70" y1="472.80" x2="50.70" y2="486.40" stroke="#111" stroke-width="1.15" stroke-linecap="butt"/>
<line x1="48.80" y1="472.80" x2="52.60" y2="472.80" stroke="#111" stroke-width="1.15" stroke-linecap="butt"/>
<rect x="47.38" y="486.97" width="6.65" height="18.83" fill="#080808" stroke="#111" stroke-width="1.15"/>
<line x1="61.60" y1="487.30" x2="61.60" y2="492.80" stroke="#111" stroke-width="1.15" stroke-linecap="butt"/>
<line x1="59.70" y1="487.30" x2="63.50" y2="487.30" stroke="#111" stroke-width="1.15" stroke-linecap="butt"/>
<rect x="57.98" y="493.38" width="7.25" height="12.43" fill="#fff" stroke="#111" stroke-width="1.15"/>
<line x1="56.40" y1="505.80" x2="56.40" y2="509.00" stroke="#111" stroke-width="1" stroke-linecap="butt"/>
<line x1="80.80" y1="452.80" x2="80.80" y2="471.00" stroke="#111" stroke-width="1.15" stroke-linecap="butt"/>
<line x1="78.90" y1="452.80" x2="82.70" y2="452.80" stroke="#111" stroke-width="1.15" stroke-linecap="butt"/>
<rect x="77.48" y="471.57" width="6.65" height="34.23" fill="#080808" stroke="#111" stroke-width="1.15"/>
<line x1="91.70" y1="456.50" x2="91.70" y2="475.00" stroke="#111" stroke-width="1.15" stroke-linecap="butt"/>
<line x1="89.80" y1="456.50" x2="93.60" y2="456.50" stroke="#111" stroke-width="1.15" stroke-linecap="butt"/>
<rect x="88.08" y="475.57" width="7.25" height="30.23" fill="#fff" stroke="#111" stroke-width="1.15"/>
<line x1="86.50" y1="505.80" x2="86.50" y2="509.00" stroke="#111" stroke-width="1" stroke-linecap="butt"/>
<line x1="110.70" y1="407.30" x2="110.70" y2="416.50" stroke="#111" stroke-width="1.15" stroke-linecap="butt"/>
<line x1="108.80" y1="407.30" x2="112.60" y2="407.30" stroke="#111" stroke-width="1.15" stroke-linecap="butt"/>
<rect x="107.38" y="417.07" width="6.65" height="88.73" fill="#080808" stroke="#111" stroke-width="1.15"/>
<line x1="121.60" y1="438.00" x2="121.60" y2="464.80" stroke="#111" stroke-width="1.15" stroke-linecap="butt"/>
<line x1="119.70" y1="438.00" x2="123.50" y2="438.00" stroke="#111" stroke-width="1.15" stroke-linecap="butt"/>
<rect x="117.97" y="465.38" width="7.25" height="40.42" fill="#fff" stroke="#111" stroke-width="1.15"/>
<line x1="116.40" y1="505.80" x2="116.40" y2="509.00" stroke="#111" stroke-width="1" stroke-linecap="butt"/>
<line x1="140.30" y1="397.20" x2="140.30" y2="408.00" stroke="#111" stroke-width="1.15" stroke-linecap="butt"/>
<line x1="138.40" y1="397.20" x2="142.20" y2="397.20" stroke="#111" stroke-width="1.15" stroke-linecap="butt"/>
<rect x="136.97" y="408.57" width="6.65" height="97.23" fill="#080808" stroke="#111" stroke-width="1.15"/>
<line x1="151.20" y1="435.60" x2="151.20" y2="455.60" stroke="#111" stroke-width="1.15" stroke-linecap="butt"/>
<line x1="149.30" y1="435.60" x2="153.10" y2="435.60" stroke="#111" stroke-width="1.15" stroke-linecap="butt"/>
<rect x="147.57" y="456.18" width="7.25" height="49.62" fill="#fff" stroke="#111" stroke-width="1.15"/>
<line x1="146.00" y1="505.80" x2="146.00" y2="509.00" stroke="#111" stroke-width="1" stroke-linecap="butt"/>
<line x1="170.10" y1="400.50" x2="170.10" y2="415.60" stroke="#111" stroke-width="1.15" stroke-linecap="butt"/>
<line x1="168.20" y1="400.50" x2="172.00" y2="400.50" stroke="#111" stroke-width="1.15" stroke-linecap="butt"/>
<rect x="166.77" y="416.18" width="6.65" height="89.62" fill="#080808" stroke="#111" stroke-width="1.15"/>
<line x1="181.00" y1="464.80" x2="181.00" y2="479.00" stroke="#111" stroke-width="1.15" stroke-linecap="butt"/>
<line x1="179.10" y1="464.80" x2="182.90" y2="464.80" stroke="#111" stroke-width="1.15" stroke-linecap="butt"/>
<rect x="177.37" y="479.57" width="7.25" height="26.23" fill="#fff" stroke="#111" stroke-width="1.15"/>
<line x1="175.80" y1="505.80" x2="175.80" y2="509.00" stroke="#111" stroke-width="1" stroke-linecap="butt"/>
<line x1="199.30" y1="446.70" x2="199.30" y2="465.80" stroke="#111" stroke-width="1.15" stroke-linecap="butt"/>
<line x1="197.40" y1="446.70" x2="201.20" y2="446.70" stroke="#111" stroke-width="1.15" stroke-linecap="butt"/>
<rect x="195.97" y="466.38" width="6.65" height="39.42" fill="#080808" stroke="#111" stroke-width="1.15"/>
<line x1="210.20" y1="464.20" x2="210.20" y2="480.50" stroke="#111" stroke-width="1.15" stroke-linecap="butt"/>
<line x1="208.30" y1="464.20" x2="212.10" y2="464.20" stroke="#111" stroke-width="1.15" stroke-linecap="butt"/>
<rect x="206.57" y="481.07" width="7.25" height="24.73" fill="#fff" stroke="#111" stroke-width="1.15"/>
<line x1="205.00" y1="505.80" x2="205.00" y2="509.00" stroke="#111" stroke-width="1" stroke-linecap="butt"/>
<line x1="229.10" y1="445.20" x2="229.10" y2="465.20" stroke="#111" stroke-width="1.15" stroke-linecap="butt"/>
<line x1="227.20" y1="445.20" x2="231.00" y2="445.20" stroke="#111" stroke-width="1.15" stroke-linecap="butt"/>
<rect x="225.77" y="465.77" width="6.65" height="40.03" fill="#080808" stroke="#111" stroke-width="1.15"/>
<line x1="240.00" y1="478.00" x2="240.00" y2="488.20" stroke="#111" stroke-width="1.15" stroke-linecap="butt"/>
<line x1="238.10" y1="478.00" x2="241.90" y2="478.00" stroke="#111" stroke-width="1.15" stroke-linecap="butt"/>
<rect x="236.37" y="488.77" width="7.25" height="17.03" fill="#fff" stroke="#111" stroke-width="1.15"/>
<line x1="234.80" y1="505.80" x2="234.80" y2="509.00" stroke="#111" stroke-width="1" stroke-linecap="butt"/>
<line x1="258.70" y1="425.80" x2="258.70" y2="442.00" stroke="#111" stroke-width="1.15" stroke-linecap="butt"/>
<line x1="256.80" y1="425.80" x2="260.60" y2="425.80" stroke="#111" stroke-width="1.15" stroke-linecap="butt"/>
<rect x="255.38" y="442.57" width="6.65" height="63.23" fill="#080808" stroke="#111" stroke-width="1.15"/>
<line x1="269.60" y1="482.70" x2="269.60" y2="491.00" stroke="#111" stroke-width="1.15" stroke-linecap="butt"/>
<line x1="267.70" y1="482.70" x2="271.50" y2="482.70" stroke="#111" stroke-width="1.15" stroke-linecap="butt"/>
<rect x="265.98" y="491.57" width="7.25" height="14.23" fill="#fff" stroke="#111" stroke-width="1.15"/>
<line x1="264.40" y1="505.80" x2="264.40" y2="509.00" stroke="#111" stroke-width="1" stroke-linecap="butt"/>
<text x="85.70" y="518.30" font-size="9" text-anchor="middle" font-weight="normal" fill="#111" >Naive</text>
<text x="114.50" y="518.30" font-size="9" text-anchor="middle" font-weight="normal" fill="#111" >CM</text>
<text x="145.30" y="518.30" font-size="9" text-anchor="middle" font-weight="normal" fill="#111" >EM</text>
<text x="175.00" y="518.30" font-size="9" text-anchor="middle" font-weight="normal" fill="#111" >T-reg</text>
<text x="205.40" y="518.30" font-size="9" text-anchor="middle" font-weight="normal" fill="#111" >Naive</text>
<text x="235.20" y="518.30" font-size="9" text-anchor="middle" font-weight="normal" fill="#111" >CM</text>
<text x="264.60" y="518.30" font-size="9" text-anchor="middle" font-weight="normal" fill="#111" >EM</text>
<text x="55.80" y="518.30" font-size="6.9" text-anchor="middle" font-weight="normal" fill="#111" >Spleen</text>
<text x="55.60" y="527.30" font-size="6.9" text-anchor="middle" font-weight="normal" fill="#111" >Monocytes</text>
<line x1="77.00" y1="522.80" x2="186.20" y2="522.80" stroke="#111" stroke-width="1.1" stroke-linecap="butt"/>
<line x1="195.40" y1="522.80" x2="275.40" y2="522.80" stroke="#111" stroke-width="1.1" stroke-linecap="butt"/>
<text x="131.00" y="530.40" font-size="8.7" text-anchor="middle" font-weight="normal" fill="#111" >CD4+</text>
<text x="235.80" y="530.20" font-size="8.7" text-anchor="middle" font-weight="normal" fill="#111" >CD8+</text>
<line x1="109.80" y1="400.20" x2="126.20" y2="400.20" stroke="#111" stroke-width="1" stroke-linecap="butt"/>
<text x="118.15" y="401.40" font-size="13.3" text-anchor="middle" font-weight="normal" fill="#111" letter-spacing="0.35" stroke-width="0.2">***</text>
<line x1="139.70" y1="393.20" x2="156.60" y2="393.20" stroke="#111" stroke-width="1" stroke-linecap="butt"/>
<text x="148.30" y="394.40" font-size="13.3" text-anchor="middle" font-weight="normal" fill="#111" letter-spacing="0.35" stroke-width="0.2">***</text>
<line x1="169.80" y1="397.20" x2="186.20" y2="397.20" stroke="#111" stroke-width="1" stroke-linecap="butt"/>
<text x="178.15" y="398.40" font-size="13.3" text-anchor="middle" font-weight="normal" fill="#111" letter-spacing="0.35" stroke-width="0.2">***</text>
<line x1="227.00" y1="440.20" x2="243.60" y2="440.20" stroke="#111" stroke-width="1" stroke-linecap="butt"/>
<text x="235.45" y="441.40" font-size="13.3" text-anchor="middle" font-weight="normal" fill="#111" letter-spacing="0.35" stroke-width="0.2">*</text>
<line x1="257.80" y1="419.20" x2="274.50" y2="419.20" stroke="#111" stroke-width="1" stroke-linecap="butt"/>
<text x="266.30" y="420.40" font-size="13.3" text-anchor="middle" font-weight="normal" fill="#111" letter-spacing="0.35" stroke-width="0.2">***</text>
<rect x="201.00" y="389.30" width="19.50" height="6.80" fill="#111" stroke="#111" stroke-width="0.9"/>
<text x="224.20" y="395.60" font-size="7.4" text-anchor="start" font-weight="normal" fill="#111" >MND</text>
<rect x="201.00" y="399.95" width="19.50" height="6.80" fill="#fff" stroke="#111" stroke-width="0.9"/>
<text x="224.20" y="406.25" font-size="7.4" text-anchor="start" font-weight="normal" fill="#111" >WS1.6</text>
<rect x="201.00" y="410.60" width="19.50" height="6.80" fill="url(#ck2)" stroke="#111" stroke-width="0.9"/>
<text x="224.20" y="416.90" font-size="7.4" text-anchor="start" font-weight="normal" fill="#111" >WT</text>
<text x="269.80" y="390.50" font-size="14.5" text-anchor="start" font-weight="bold" fill="#000" >F</text>
<line x1="326.80" y1="385.30" x2="326.80" y2="506.30" stroke="#111" stroke-width="1" stroke-linecap="butt"/>
<line x1="326.30" y1="505.80" x2="462.00" y2="505.80" stroke="#111" stroke-width="1" stroke-linecap="butt"/>
<line x1="323.30" y1="505.80" x2="326.80" y2="505.80" stroke="#111" stroke-width="1" stroke-linecap="butt"/>
<text x="321.80" y="509.30" font-size="10" text-anchor="end" font-weight="normal" fill="#111" >0</text>
<line x1="323.30" y1="475.80" x2="326.80" y2="475.80" stroke="#111" stroke-width="1" stroke-linecap="butt"/>
<text x="321.80" y="479.30" font-size="10" text-anchor="end" font-weight="normal" fill="#111" >25</text>
<line x1="323.30" y1="445.80" x2="326.80" y2="445.80" stroke="#111" stroke-width="1" stroke-linecap="butt"/>
<text x="321.80" y="449.30" font-size="10" text-anchor="end" font-weight="normal" fill="#111" >50</text>
<line x1="323.30" y1="415.80" x2="326.80" y2="415.80" stroke="#111" stroke-width="1" stroke-linecap="butt"/>
<text x="321.80" y="419.30" font-size="10" text-anchor="end" font-weight="normal" fill="#111" >75</text>
<line x1="323.30" y1="385.80" x2="326.80" y2="385.80" stroke="#111" stroke-width="1" stroke-linecap="butt"/>
<text x="321.80" y="389.30" font-size="10" text-anchor="end" font-weight="normal" fill="#111" >100</text>
<text x="303.70" y="446.50" font-size="10" text-anchor="middle" font-weight="normal" fill="#111" transform="rotate(-90 303.70 446.50)" >%  WASp+</text>
<line x1="335.35" y1="470.00" x2="335.35" y2="481.80" stroke="#111" stroke-width="1.15" stroke-linecap="butt"/>
<line x1="333.45" y1="470.00" x2="337.25" y2="470.00" stroke="#111" stroke-width="1.15" stroke-linecap="butt"/>
<rect x="331.77" y="482.38" width="7.15" height="23.43" fill="#080808" stroke="#111" stroke-width="1.15"/>
<line x1="345.85" y1="480.80" x2="345.85" y2="489.50" stroke="#111" stroke-width="1.15" stroke-linecap="butt"/>
<line x1="343.95" y1="480.80" x2="347.75" y2="480.80" stroke="#111" stroke-width="1.15" stroke-linecap="butt"/>
<rect x="342.07" y="490.07" width="7.55" height="15.73" fill="#fff" stroke="#111" stroke-width="1.15"/>
<line x1="340.80" y1="505.80" x2="340.80" y2="509.20" stroke="#111" stroke-width="1" stroke-linecap="butt"/>
<line x1="362.35" y1="461.80" x2="362.35" y2="476.80" stroke="#111" stroke-width="1.15" stroke-linecap="butt"/>
<line x1="360.45" y1="461.80" x2="364.25" y2="461.80" stroke="#111" stroke-width="1.15" stroke-linecap="butt"/>
<rect x="358.77" y="477.38" width="7.15" height="28.43" fill="#080808" stroke="#111" stroke-width="1.15"/>
<line x1="372.85" y1="485.00" x2="372.85" y2="493.80" stroke="#111" stroke-width="1.15" stroke-linecap="butt"/>
<line x1="370.95" y1="485.00" x2="374.75" y2="485.00" stroke="#111" stroke-width="1.15" stroke-linecap="butt"/>
<rect x="369.07" y="494.38" width="7.55" height="11.43" fill="#fff" stroke="#111" stroke-width="1.15"/>
<line x1="367.80" y1="505.80" x2="367.80" y2="509.20" stroke="#111" stroke-width="1" stroke-linecap="butt"/>
<line x1="389.35" y1="437.50" x2="389.35" y2="462.00" stroke="#111" stroke-width="1.15" stroke-linecap="butt"/>
<line x1="387.45" y1="437.50" x2="391.25" y2="437.50" stroke="#111" stroke-width="1.15" stroke-linecap="butt"/>
<rect x="385.77" y="462.57" width="7.15" height="43.23" fill="#080808" stroke="#111" stroke-width="1.15"/>
<line x1="399.85" y1="487.00" x2="399.85" y2="495.80" stroke="#111" stroke-width="1.15" stroke-linecap="butt"/>
<line x1="397.95" y1="487.00" x2="401.75" y2="487.00" stroke="#111" stroke-width="1.15" stroke-linecap="butt"/>
<rect x="396.07" y="496.38" width="7.55" height="9.43" fill="#fff" stroke="#111" stroke-width="1.15"/>
<line x1="394.80" y1="505.80" x2="394.80" y2="509.20" stroke="#111" stroke-width="1" stroke-linecap="butt"/>
<line x1="416.55" y1="415.50" x2="416.55" y2="436.80" stroke="#111" stroke-width="1.15" stroke-linecap="butt"/>
<line x1="414.65" y1="415.50" x2="418.45" y2="415.50" stroke="#111" stroke-width="1.15" stroke-linecap="butt"/>
<rect x="412.97" y="437.38" width="7.15" height="68.42" fill="#080808" stroke="#111" stroke-width="1.15"/>
<line x1="427.05" y1="462.00" x2="427.05" y2="481.20" stroke="#111" stroke-width="1.15" stroke-linecap="butt"/>
<line x1="425.15" y1="462.00" x2="428.95" y2="462.00" stroke="#111" stroke-width="1.15" stroke-linecap="butt"/>
<rect x="423.27" y="481.77" width="7.55" height="24.03" fill="#fff" stroke="#111" stroke-width="1.15"/>
<line x1="422.00" y1="505.80" x2="422.00" y2="509.20" stroke="#111" stroke-width="1" stroke-linecap="butt"/>
<line x1="443.45" y1="457.50" x2="443.45" y2="475.80" stroke="#111" stroke-width="1.15" stroke-linecap="butt"/>
<line x1="441.55" y1="457.50" x2="445.35" y2="457.50" stroke="#111" stroke-width="1.15" stroke-linecap="butt"/>
<rect x="439.88" y="476.38" width="7.15" height="29.43" fill="#080808" stroke="#111" stroke-width="1.15"/>
<line x1="453.95" y1="492.00" x2="453.95" y2="498.80" stroke="#111" stroke-width="1.15" stroke-linecap="butt"/>
<line x1="452.05" y1="492.00" x2="455.85" y2="492.00" stroke="#111" stroke-width="1.15" stroke-linecap="butt"/>
<rect x="450.18" y="499.38" width="7.55" height="6.42" fill="#fff" stroke="#111" stroke-width="1.15"/>
<line x1="448.90" y1="505.80" x2="448.90" y2="509.20" stroke="#111" stroke-width="1" stroke-linecap="butt"/>
<text x="340.00" y="518.00" font-size="9.2" text-anchor="middle" font-weight="normal" fill="#111" >T1</text>
<text x="367.50" y="518.00" font-size="9.2" text-anchor="middle" font-weight="normal" fill="#111" >T2</text>
<text x="394.50" y="518.00" font-size="9.2" text-anchor="middle" font-weight="normal" fill="#111" >MZP</text>
<text x="420.50" y="518.00" font-size="9.2" text-anchor="middle" font-weight="normal" fill="#111" >MZ</text>
<text x="446.80" y="518.00" font-size="9.2" text-anchor="middle" font-weight="normal" fill="#111" >FM</text>
<line x1="361.80" y1="455.80" x2="379.20" y2="455.80" stroke="#111" stroke-width="1" stroke-linecap="butt"/>
<text x="370.65" y="457.00" font-size="13.3" text-anchor="middle" font-weight="normal" fill="#111" letter-spacing="0.35" stroke-width="0.2">*</text>
<line x1="387.50" y1="434.50" x2="404.50" y2="434.50" stroke="#111" stroke-width="1" stroke-linecap="butt"/>
<text x="396.15" y="435.70" font-size="13.3" text-anchor="middle" font-weight="normal" fill="#111" letter-spacing="0.35" stroke-width="0.2">**</text>
<line x1="415.80" y1="411.20" x2="432.50" y2="411.20" stroke="#111" stroke-width="1" stroke-linecap="butt"/>
<text x="424.30" y="412.40" font-size="13.3" text-anchor="middle" font-weight="normal" fill="#111" letter-spacing="0.35" stroke-width="0.2">***</text>
<line x1="442.00" y1="454.50" x2="459.20" y2="454.50" stroke="#111" stroke-width="1" stroke-linecap="butt"/>
<text x="450.75" y="455.70" font-size="13.3" text-anchor="middle" font-weight="normal" fill="#111" letter-spacing="0.35" stroke-width="0.2">*</text>
<text x="1.80" y="548.30" font-size="14.5" text-anchor="start" font-weight="bold" fill="#000" >G</text>
<line x1="66.00" y1="541.50" x2="66.00" y2="656.90" stroke="#111" stroke-width="1" stroke-linecap="butt"/>
<line x1="65.50" y1="656.40" x2="236.00" y2="656.40" stroke="#111" stroke-width="1" stroke-linecap="butt"/>
<line x1="62.50" y1="656.40" x2="66.00" y2="656.40" stroke="#111" stroke-width="1" stroke-linecap="butt"/>
<text x="61.40" y="659.50" font-size="8.6" text-anchor="end" font-weight="normal" fill="#111" >0</text>
<line x1="62.50" y1="642.16" x2="66.00" y2="642.16" stroke="#111" stroke-width="1" stroke-linecap="butt"/>
<text x="61.40" y="645.26" font-size="8.6" text-anchor="end" font-weight="normal" fill="#111" >1000</text>
<line x1="62.50" y1="627.92" x2="66.00" y2="627.92" stroke="#111" stroke-width="1" stroke-linecap="butt"/>
<text x="61.40" y="631.02" font-size="8.6" text-anchor="end" font-weight="normal" fill="#111" >2000</text>
<line x1="62.50" y1="613.68" x2="66.00" y2="613.68" stroke="#111" stroke-width="1" stroke-linecap="butt"/>
<text x="61.40" y="616.78" font-size="8.6" text-anchor="end" font-weight="normal" fill="#111" >3000</text>
<line x1="62.50" y1="599.44" x2="66.00" y2="599.44" stroke="#111" stroke-width="1" stroke-linecap="butt"/>
<text x="61.40" y="602.54" font-size="8.6" text-anchor="end" font-weight="normal" fill="#111" >4000</text>
<line x1="62.50" y1="585.20" x2="66.00" y2="585.20" stroke="#111" stroke-width="1" stroke-linecap="butt"/>
<text x="61.40" y="588.30" font-size="8.6" text-anchor="end" font-weight="normal" fill="#111" >5000</text>
<line x1="62.50" y1="570.96" x2="66.00" y2="570.96" stroke="#111" stroke-width="1" stroke-linecap="butt"/>
<text x="61.40" y="574.06" font-size="8.6" text-anchor="end" font-weight="normal" fill="#111" >6000</text>
<line x1="62.50" y1="556.72" x2="66.00" y2="556.72" stroke="#111" stroke-width="1" stroke-linecap="butt"/>
<text x="61.40" y="559.82" font-size="8.6" text-anchor="end" font-weight="normal" fill="#111" >7000</text>
<line x1="62.50" y1="542.48" x2="66.00" y2="542.48" stroke="#111" stroke-width="1" stroke-linecap="butt"/>
<text x="61.40" y="545.58" font-size="8.6" text-anchor="end" font-weight="normal" fill="#111" >8000</text>
<text x="35.60" y="595.60" font-size="9.5" text-anchor="middle" font-weight="normal" fill="#111" transform="rotate(-90 35.60 595.60)" >MFI of WASp+ cells</text>
<line x1="74.55" y1="599.80" x2="74.55" y2="610.20" stroke="#111" stroke-width="1.15" stroke-linecap="butt"/>
<line x1="72.75" y1="599.80" x2="76.35" y2="599.80" stroke="#111" stroke-width="1.15" stroke-linecap="butt"/>
<rect x="71.68" y="610.78" width="5.75" height="45.62" fill="#080808" stroke="#111" stroke-width="1.15"/>
<line x1="83.75" y1="628.00" x2="83.75" y2="631.80" stroke="#111" stroke-width="1.15" stroke-linecap="butt"/>
<line x1="81.95" y1="628.00" x2="85.55" y2="628.00" stroke="#111" stroke-width="1.15" stroke-linecap="butt"/>
<rect x="80.88" y="632.38" width="5.75" height="24.03" fill="#fff" stroke="#111" stroke-width="1.15"/>
<line x1="92.95" y1="587.50" x2="92.95" y2="593.60" stroke="#111" stroke-width="1.15" stroke-linecap="butt"/>
<line x1="91.15" y1="587.50" x2="94.75" y2="587.50" stroke="#111" stroke-width="1.15" stroke-linecap="butt"/>
<rect x="89.98" y="594.18" width="5.95" height="62.22" fill="url(#ck)" stroke="#111" stroke-width="1.15"/>
<line x1="83.80" y1="656.40" x2="83.80" y2="659.80" stroke="#111" stroke-width="1" stroke-linecap="butt"/>
<line x1="108.65" y1="584.40" x2="108.65" y2="603.50" stroke="#111" stroke-width="1.15" stroke-linecap="butt"/>
<line x1="106.85" y1="584.40" x2="110.45" y2="584.40" stroke="#111" stroke-width="1.15" stroke-linecap="butt"/>
<rect x="105.78" y="604.08" width="5.75" height="52.32" fill="#080808" stroke="#111" stroke-width="1.15"/>
<line x1="117.85" y1="616.40" x2="117.85" y2="631.20" stroke="#111" stroke-width="1.15" stroke-linecap="butt"/>
<line x1="116.05" y1="616.40" x2="119.65" y2="616.40" stroke="#111" stroke-width="1.15" stroke-linecap="butt"/>
<rect x="114.98" y="631.78" width="5.75" height="24.62" fill="#fff" stroke="#111" stroke-width="1.15"/>
<line x1="127.05" y1="571.80" x2="127.05" y2="592.70" stroke="#111" stroke-width="1.15" stroke-linecap="butt"/>
<line x1="125.25" y1="571.80" x2="128.85" y2="571.80" stroke="#111" stroke-width="1.15" stroke-linecap="butt"/>
<rect x="124.08" y="593.28" width="5.95" height="63.12" fill="url(#ck)" stroke="#111" stroke-width="1.15"/>
<line x1="117.90" y1="656.40" x2="117.90" y2="659.80" stroke="#111" stroke-width="1" stroke-linecap="butt"/>
<line x1="143.35" y1="547.50" x2="143.35" y2="574.80" stroke="#111" stroke-width="1.15" stroke-linecap="butt"/>
<line x1="141.55" y1="547.50" x2="145.15" y2="547.50" stroke="#111" stroke-width="1.15" stroke-linecap="butt"/>
<rect x="140.47" y="575.38" width="5.75" height="81.03" fill="#080808" stroke="#111" stroke-width="1.15"/>
<line x1="152.55" y1="609.00" x2="152.55" y2="623.50" stroke="#111" stroke-width="1.15" stroke-linecap="butt"/>
<line x1="150.75" y1="609.00" x2="154.35" y2="609.00" stroke="#111" stroke-width="1.15" stroke-linecap="butt"/>
<rect x="149.67" y="624.08" width="5.75" height="32.32" fill="#fff" stroke="#111" stroke-width="1.15"/>
<line x1="161.75" y1="548.70" x2="161.75" y2="573.30" stroke="#111" stroke-width="1.15" stroke-linecap="butt"/>
<line x1="159.95" y1="548.70" x2="163.55" y2="548.70" stroke="#111" stroke-width="1.15" stroke-linecap="butt"/>
<rect x="158.77" y="573.88" width="5.95" height="82.53" fill="url(#ck)" stroke="#111" stroke-width="1.15"/>
<line x1="152.60" y1="656.40" x2="152.60" y2="659.80" stroke="#111" stroke-width="1" stroke-linecap="butt"/>
<line x1="177.15" y1="547.20" x2="177.15" y2="576.40" stroke="#111" stroke-width="1.15" stroke-linecap="butt"/>
<line x1="175.35" y1="547.20" x2="178.95" y2="547.20" stroke="#111" stroke-width="1.15" stroke-linecap="butt"/>
<rect x="174.27" y="576.98" width="5.75" height="79.42" fill="#080808" stroke="#111" stroke-width="1.15"/>
<line x1="186.35" y1="606.50" x2="186.35" y2="621.30" stroke="#111" stroke-width="1.15" stroke-linecap="butt"/>
<line x1="184.55" y1="606.50" x2="188.15" y2="606.50" stroke="#111" stroke-width="1.15" stroke-linecap="butt"/>
<rect x="183.47" y="621.88" width="5.75" height="34.53" fill="#fff" stroke="#111" stroke-width="1.15"/>
<line x1="195.55" y1="547.50" x2="195.55" y2="573.30" stroke="#111" stroke-width="1.15" stroke-linecap="butt"/>
<line x1="193.75" y1="547.50" x2="197.35" y2="547.50" stroke="#111" stroke-width="1.15" stroke-linecap="butt"/>
<rect x="192.57" y="573.88" width="5.95" height="82.53" fill="url(#ck)" stroke="#111" stroke-width="1.15"/>
<line x1="186.40" y1="656.40" x2="186.40" y2="659.80" stroke="#111" stroke-width="1" stroke-linecap="butt"/>
<line x1="210.95" y1="562.50" x2="210.95" y2="585.60" stroke="#111" stroke-width="1.15" stroke-linecap="butt"/>
<line x1="209.15" y1="562.50" x2="212.75" y2="562.50" stroke="#111" stroke-width="1.15" stroke-linecap="butt"/>
<rect x="208.07" y="586.18" width="5.75" height="70.22" fill="#080808" stroke="#111" stroke-width="1.15"/>
<line x1="220.15" y1="614.20" x2="220.15" y2="623.50" stroke="#111" stroke-width="1.15" stroke-linecap="butt"/>
<line x1="218.35" y1="614.20" x2="221.95" y2="614.20" stroke="#111" stroke-width="1.15" stroke-linecap="butt"/>
<rect x="217.28" y="624.08" width="5.75" height="32.32" fill="#fff" stroke="#111" stroke-width="1.15"/>
<line x1="229.35" y1="559.50" x2="229.35" y2="581.00" stroke="#111" stroke-width="1.15" stroke-linecap="butt"/>
<line x1="227.55" y1="559.50" x2="231.15" y2="559.50" stroke="#111" stroke-width="1.15" stroke-linecap="butt"/>
<rect x="226.38" y="581.58" width="5.95" height="74.82" fill="url(#ck)" stroke="#111" stroke-width="1.15"/>
<line x1="220.20" y1="656.40" x2="220.20" y2="659.80" stroke="#111" stroke-width="1" stroke-linecap="butt"/>
<text x="83.50" y="666.80" font-size="8.6" text-anchor="middle" font-weight="normal" fill="#111" >Spleen</text>
<text x="117.20" y="666.80" font-size="8.6" text-anchor="middle" font-weight="normal" fill="#111" >Naive</text>
<text x="152.00" y="666.80" font-size="8.6" text-anchor="middle" font-weight="normal" fill="#111" >CM</text>
<text x="186.30" y="666.80" font-size="8.6" text-anchor="middle" font-weight="normal" fill="#111" >EM</text>
<text x="220.20" y="666.80" font-size="8.6" text-anchor="middle" font-weight="normal" fill="#111" >T-reg</text>
<text x="82.80" y="678.20" font-size="8.6" text-anchor="middle" font-weight="normal" fill="#111" >Monocytes</text>
<line x1="105.80" y1="669.80" x2="234.00" y2="669.80" stroke="#111" stroke-width="1.1" stroke-linecap="butt"/>
<text x="171.00" y="679.00" font-size="8.6" text-anchor="middle" font-weight="normal" fill="#111" >CD4+</text>
<line x1="73.50" y1="559.20" x2="95.70" y2="559.20" stroke="#111" stroke-width="1.2" stroke-linecap="butt"/>
<text x="84.75" y="560.10" font-size="10" text-anchor="middle" font-weight="normal" fill="#111" letter-spacing="0.35" stroke-width="0.2">**</text>
<line x1="71.50" y1="569.60" x2="82.80" y2="569.60" stroke="#111" stroke-width="1.2" stroke-linecap="butt"/>
<text x="77.30" y="570.50" font-size="10" text-anchor="middle" font-weight="normal" fill="#111" letter-spacing="0.35" stroke-width="0.2">***</text>
<line x1="86.50" y1="569.60" x2="97.70" y2="569.60" stroke="#111" stroke-width="1.2" stroke-linecap="butt"/>
<text x="92.25" y="570.50" font-size="10" text-anchor="middle" font-weight="normal" fill="#111" letter-spacing="0.35" stroke-width="0.2">***</text>
<line x1="106.90" y1="582.20" x2="117.70" y2="582.20" stroke="#111" stroke-width="1.2" stroke-linecap="butt"/>
<text x="112.45" y="583.10" font-size="10" text-anchor="middle" font-weight="normal" fill="#111" letter-spacing="0.35" stroke-width="0.2">**</text>
<line x1="118.20" y1="569.60" x2="129.50" y2="569.60" stroke="#111" stroke-width="1.2" stroke-linecap="butt"/>
<text x="124.00" y="570.50" font-size="10" text-anchor="middle" font-weight="normal" fill="#111" letter-spacing="0.35" stroke-width="0.2">**</text>
<line x1="140.20" y1="545.20" x2="151.60" y2="545.20" stroke="#111" stroke-width="1.2" stroke-linecap="butt"/>
<text x="146.05" y="546.10" font-size="10" text-anchor="middle" font-weight="normal" fill="#111" letter-spacing="0.35" stroke-width="0.2">***</text>
<line x1="153.30" y1="545.20" x2="164.90" y2="545.20" stroke="#111" stroke-width="1.2" stroke-linecap="butt"/>
<text x="159.25" y="546.10" font-size="10" text-anchor="middle" font-weight="normal" fill="#111" letter-spacing="0.35" stroke-width="0.2">***</text>
<line x1="175.00" y1="545.20" x2="185.40" y2="545.20" stroke="#111" stroke-width="1.2" stroke-linecap="butt"/>
<text x="180.35" y="546.10" font-size="10" text-anchor="middle" font-weight="normal" fill="#111" letter-spacing="0.35" stroke-width="0.2">**</text>
<line x1="188.20" y1="545.20" x2="198.80" y2="545.20" stroke="#111" stroke-width="1.2" stroke-linecap="butt"/>
<text x="193.65" y="546.10" font-size="10" text-anchor="middle" font-weight="normal" fill="#111" letter-spacing="0.35" stroke-width="0.2">**</text>
<line x1="207.80" y1="556.80" x2="219.30" y2="556.80" stroke="#111" stroke-width="1.2" stroke-linecap="butt"/>
<text x="213.70" y="557.70" font-size="10" text-anchor="middle" font-weight="normal" fill="#111" letter-spacing="0.35" stroke-width="0.2">***</text>
<line x1="221.00" y1="556.80" x2="232.60" y2="556.80" stroke="#111" stroke-width="1.2" stroke-linecap="butt"/>
<text x="226.95" y="557.70" font-size="10" text-anchor="middle" font-weight="normal" fill="#111" letter-spacing="0.35" stroke-width="0.2">***</text>
<text x="263.60" y="548.80" font-size="14.5" text-anchor="start" font-weight="bold" fill="#000" >H</text>
<line x1="328.80" y1="548.80" x2="328.80" y2="662.30" stroke="#111" stroke-width="1" stroke-linecap="butt"/>
<line x1="328.30" y1="661.80" x2="498.80" y2="661.80" stroke="#111" stroke-width="1" stroke-linecap="butt"/>
<line x1="325.30" y1="661.80" x2="328.80" y2="661.80" stroke="#111" stroke-width="1" stroke-linecap="butt"/>
<text x="324.00" y="664.90" font-size="8.6" text-anchor="end" font-weight="normal" fill="#111" >0</text>
<line x1="325.30" y1="644.34" x2="328.80" y2="644.34" stroke="#111" stroke-width="1" stroke-linecap="butt"/>
<text x="324.00" y="647.44" font-size="8.6" text-anchor="end" font-weight="normal" fill="#111" >1000</text>
<line x1="325.30" y1="626.88" x2="328.80" y2="626.88" stroke="#111" stroke-width="1" stroke-linecap="butt"/>
<text x="324.00" y="629.98" font-size="8.6" text-anchor="end" font-weight="normal" fill="#111" >2000</text>
<line x1="325.30" y1="609.42" x2="328.80" y2="609.42" stroke="#111" stroke-width="1" stroke-linecap="butt"/>
<text x="324.00" y="612.52" font-size="8.6" text-anchor="end" font-weight="normal" fill="#111" >3000</text>
<line x1="325.30" y1="591.96" x2="328.80" y2="591.96" stroke="#111" stroke-width="1" stroke-linecap="butt"/>
<text x="324.00" y="595.06" font-size="8.6" text-anchor="end" font-weight="normal" fill="#111" >4000</text>
<line x1="325.30" y1="574.50" x2="328.80" y2="574.50" stroke="#111" stroke-width="1" stroke-linecap="butt"/>
<text x="324.00" y="577.60" font-size="8.6" text-anchor="end" font-weight="normal" fill="#111" >5000</text>
<line x1="325.30" y1="557.04" x2="328.80" y2="557.04" stroke="#111" stroke-width="1" stroke-linecap="butt"/>
<text x="324.00" y="560.14" font-size="8.6" text-anchor="end" font-weight="normal" fill="#111" >6000</text>
<text x="298.30" y="600.50" font-size="9.7" text-anchor="middle" font-weight="normal" fill="#111" transform="rotate(-90 298.30 600.50)" >MFI of WASp+ cells</text>
<line x1="335.95" y1="595.50" x2="335.95" y2="610.80" stroke="#111" stroke-width="1.15" stroke-linecap="butt"/>
<line x1="334.05" y1="595.50" x2="337.85" y2="595.50" stroke="#111" stroke-width="1.15" stroke-linecap="butt"/>
<rect x="332.57" y="611.38" width="6.75" height="50.42" fill="#080808" stroke="#111" stroke-width="1.15"/>
<line x1="345.40" y1="632.50" x2="345.40" y2="635.80" stroke="#111" stroke-width="1.15" stroke-linecap="butt"/>
<line x1="343.50" y1="632.50" x2="347.30" y2="632.50" stroke="#111" stroke-width="1.15" stroke-linecap="butt"/>
<rect x="342.07" y="636.38" width="6.65" height="25.43" fill="#fff" stroke="#111" stroke-width="1.15"/>
<line x1="354.85" y1="593.80" x2="354.85" y2="610.50" stroke="#111" stroke-width="1.15" stroke-linecap="butt"/>
<line x1="352.95" y1="593.80" x2="356.75" y2="593.80" stroke="#111" stroke-width="1.15" stroke-linecap="butt"/>
<rect x="351.47" y="611.08" width="6.75" height="50.72" fill="url(#ck)" stroke="#111" stroke-width="1.15"/>
<line x1="345.50" y1="661.80" x2="345.50" y2="665.30" stroke="#111" stroke-width="1" stroke-linecap="butt"/>
<line x1="369.95" y1="590.80" x2="369.95" y2="603.80" stroke="#111" stroke-width="1.15" stroke-linecap="butt"/>
<line x1="368.05" y1="590.80" x2="371.85" y2="590.80" stroke="#111" stroke-width="1.15" stroke-linecap="butt"/>
<rect x="366.57" y="604.38" width="6.75" height="57.42" fill="#080808" stroke="#111" stroke-width="1.15"/>
<line x1="379.40" y1="630.80" x2="379.40" y2="634.50" stroke="#111" stroke-width="1.15" stroke-linecap="butt"/>
<line x1="377.50" y1="630.80" x2="381.30" y2="630.80" stroke="#111" stroke-width="1.15" stroke-linecap="butt"/>
<rect x="376.07" y="635.08" width="6.65" height="26.72" fill="#fff" stroke="#111" stroke-width="1.15"/>
<line x1="388.85" y1="580.00" x2="388.85" y2="596.20" stroke="#111" stroke-width="1.15" stroke-linecap="butt"/>
<line x1="386.95" y1="580.00" x2="390.75" y2="580.00" stroke="#111" stroke-width="1.15" stroke-linecap="butt"/>
<rect x="385.47" y="596.78" width="6.75" height="65.02" fill="url(#ck)" stroke="#111" stroke-width="1.15"/>
<line x1="379.50" y1="661.80" x2="379.50" y2="665.30" stroke="#111" stroke-width="1" stroke-linecap="butt"/>
<line x1="403.45" y1="568.80" x2="403.45" y2="582.50" stroke="#111" stroke-width="1.15" stroke-linecap="butt"/>
<line x1="401.55" y1="568.80" x2="405.35" y2="568.80" stroke="#111" stroke-width="1.15" stroke-linecap="butt"/>
<rect x="400.07" y="583.08" width="6.75" height="78.72" fill="#080808" stroke="#111" stroke-width="1.15"/>
<line x1="412.90" y1="609.50" x2="412.90" y2="621.80" stroke="#111" stroke-width="1.15" stroke-linecap="butt"/>
<line x1="411.00" y1="609.50" x2="414.80" y2="609.50" stroke="#111" stroke-width="1.15" stroke-linecap="butt"/>
<rect x="409.57" y="622.38" width="6.65" height="39.42" fill="#fff" stroke="#111" stroke-width="1.15"/>
<line x1="422.35" y1="553.20" x2="422.35" y2="575.50" stroke="#111" stroke-width="1.15" stroke-linecap="butt"/>
<line x1="420.45" y1="553.20" x2="424.25" y2="553.20" stroke="#111" stroke-width="1.15" stroke-linecap="butt"/>
<rect x="418.97" y="576.08" width="6.75" height="85.72" fill="url(#ck)" stroke="#111" stroke-width="1.15"/>
<line x1="413.00" y1="661.80" x2="413.00" y2="665.30" stroke="#111" stroke-width="1" stroke-linecap="butt"/>
<line x1="437.25" y1="587.50" x2="437.25" y2="602.50" stroke="#111" stroke-width="1.15" stroke-linecap="butt"/>
<line x1="435.35" y1="587.50" x2="439.15" y2="587.50" stroke="#111" stroke-width="1.15" stroke-linecap="butt"/>
<rect x="433.88" y="603.08" width="6.75" height="58.72" fill="#080808" stroke="#111" stroke-width="1.15"/>
<line x1="446.70" y1="616.80" x2="446.70" y2="623.20" stroke="#111" stroke-width="1.15" stroke-linecap="butt"/>
<line x1="444.80" y1="616.80" x2="448.60" y2="616.80" stroke="#111" stroke-width="1.15" stroke-linecap="butt"/>
<rect x="443.38" y="623.78" width="6.65" height="38.02" fill="#fff" stroke="#111" stroke-width="1.15"/>
<line x1="456.15" y1="575.50" x2="456.15" y2="590.80" stroke="#111" stroke-width="1.15" stroke-linecap="butt"/>
<line x1="454.25" y1="575.50" x2="458.05" y2="575.50" stroke="#111" stroke-width="1.15" stroke-linecap="butt"/>
<rect x="452.77" y="591.38" width="6.75" height="70.42" fill="url(#ck)" stroke="#111" stroke-width="1.15"/>
<line x1="446.80" y1="661.80" x2="446.80" y2="665.30" stroke="#111" stroke-width="1" stroke-linecap="butt"/>
<line x1="470.95" y1="593.20" x2="470.95" y2="604.50" stroke="#111" stroke-width="1.15" stroke-linecap="butt"/>
<line x1="469.05" y1="593.20" x2="472.85" y2="593.20" stroke="#111" stroke-width="1.15" stroke-linecap="butt"/>
<rect x="467.57" y="605.08" width="6.75" height="56.72" fill="#080808" stroke="#111" stroke-width="1.15"/>
<line x1="480.40" y1="635.80" x2="480.40" y2="638.00" stroke="#111" stroke-width="1.15" stroke-linecap="butt"/>
<line x1="478.50" y1="635.80" x2="482.30" y2="635.80" stroke="#111" stroke-width="1.15" stroke-linecap="butt"/>
<rect x="477.07" y="638.58" width="6.65" height="23.22" fill="#fff" stroke="#111" stroke-width="1.15"/>
<line x1="489.85" y1="580.80" x2="489.85" y2="596.80" stroke="#111" stroke-width="1.15" stroke-linecap="butt"/>
<line x1="487.95" y1="580.80" x2="491.75" y2="580.80" stroke="#111" stroke-width="1.15" stroke-linecap="butt"/>
<rect x="486.47" y="597.38" width="6.75" height="64.42" fill="url(#ck)" stroke="#111" stroke-width="1.15"/>
<line x1="480.50" y1="661.80" x2="480.50" y2="665.30" stroke="#111" stroke-width="1" stroke-linecap="butt"/>
<text x="345.00" y="673.50" font-size="9" text-anchor="middle" font-weight="normal" fill="#111" >T1</text>
<text x="378.00" y="673.50" font-size="9" text-anchor="middle" font-weight="normal" fill="#111" >T2</text>
<text x="413.80" y="673.50" font-size="9" text-anchor="middle" font-weight="normal" fill="#111" >MZP</text>
<text x="447.50" y="673.50" font-size="9" text-anchor="middle" font-weight="normal" fill="#111" >MZ</text>
<text x="481.20" y="673.50" font-size="9" text-anchor="middle" font-weight="normal" fill="#111" >FM</text>
<line x1="333.00" y1="591.20" x2="343.20" y2="591.20" stroke="#111" stroke-width="1.2" stroke-linecap="butt"/>
<text x="338.25" y="592.10" font-size="10" text-anchor="middle" font-weight="normal" fill="#111" letter-spacing="0.35" stroke-width="0.2">**</text>
<line x1="346.20" y1="591.20" x2="357.50" y2="591.20" stroke="#111" stroke-width="1.2" stroke-linecap="butt"/>
<text x="352.00" y="592.10" font-size="10" text-anchor="middle" font-weight="normal" fill="#111" letter-spacing="0.35" stroke-width="0.2">***</text>
<line x1="367.50" y1="586.20" x2="378.80" y2="586.20" stroke="#111" stroke-width="1.2" stroke-linecap="butt"/>
<text x="373.30" y="587.10" font-size="10" text-anchor="middle" font-weight="normal" fill="#111" letter-spacing="0.35" stroke-width="0.2">***</text>
<line x1="380.80" y1="576.80" x2="391.80" y2="576.80" stroke="#111" stroke-width="1.2" stroke-linecap="butt"/>
<text x="386.45" y="577.70" font-size="10" text-anchor="middle" font-weight="normal" fill="#111" letter-spacing="0.35" stroke-width="0.2">***</text>
<line x1="402.00" y1="565.00" x2="413.20" y2="565.00" stroke="#111" stroke-width="1.2" stroke-linecap="butt"/>
<text x="407.75" y="565.90" font-size="10" text-anchor="middle" font-weight="normal" fill="#111" letter-spacing="0.35" stroke-width="0.2">***</text>
<line x1="415.00" y1="550.80" x2="426.80" y2="550.80" stroke="#111" stroke-width="1.2" stroke-linecap="butt"/>
<text x="421.05" y="551.70" font-size="10" text-anchor="middle" font-weight="normal" fill="#111" letter-spacing="0.35" stroke-width="0.2">***</text>
<line x1="435.00" y1="583.20" x2="446.20" y2="583.20" stroke="#111" stroke-width="1.2" stroke-linecap="butt"/>
<text x="440.75" y="584.10" font-size="10" text-anchor="middle" font-weight="normal" fill="#111" letter-spacing="0.35" stroke-width="0.2">***</text>
<line x1="447.50" y1="572.50" x2="458.00" y2="572.50" stroke="#111" stroke-width="1.2" stroke-linecap="butt"/>
<text x="452.90" y="573.40" font-size="10" text-anchor="middle" font-weight="normal" fill="#111" letter-spacing="0.35" stroke-width="0.2">**</text>
<line x1="468.80" y1="590.00" x2="480.00" y2="590.00" stroke="#111" stroke-width="1.2" stroke-linecap="butt"/>
<text x="474.55" y="590.90" font-size="10" text-anchor="middle" font-weight="normal" fill="#111" letter-spacing="0.35" stroke-width="0.2">***</text>
<line x1="481.80" y1="575.80" x2="493.00" y2="575.80" stroke="#111" stroke-width="1.2" stroke-linecap="butt"/>
<text x="487.55" y="576.70" font-size="10" text-anchor="middle" font-weight="normal" fill="#111" letter-spacing="0.35" stroke-width="0.2">***</text>
</svg>
</body></html>
